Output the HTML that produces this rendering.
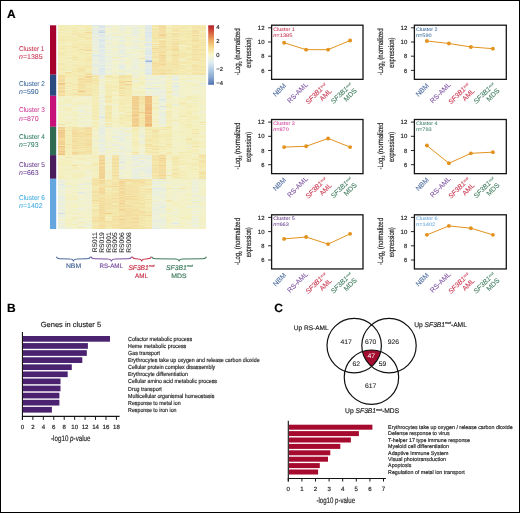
<!DOCTYPE html><html><head><meta charset="utf-8"><style>html,body{margin:0;padding:0;background:#fff;overflow:hidden}svg{display:block;will-change:transform;font-family:"Liberation Sans",sans-serif;text-rendering:geometricPrecision;} text{stroke-width:0.16px}</style></head><body><svg width="520" height="513" viewBox="0 0 520 513" font-family="Liberation Sans, sans-serif" fill="#222" stroke="#222" stroke-width="0"><rect x="0.5" y="0.5" width="519" height="512" fill="#fff" stroke="#000" stroke-width="1"/>
<text x="6.90" y="17.50" font-size="12" fill="#000" stroke="#000" font-weight="bold">A</text>
<text x="6.90" y="311.90" font-size="12" fill="#000" stroke="#000" font-weight="bold">B</text>
<text x="274.20" y="311.90" font-size="12" fill="#000" stroke="#000" font-weight="bold">C</text>
<style>.hm rect{width:6.75px}</style>
<defs><filter id="bl" x="0" y="0" width="1" height="1"><feGaussianBlur stdDeviation="0.35 0.45"/></filter></defs>
<g class="hm" shape-rendering="crispEdges" filter="url(#bl)"><g transform="translate(58.30,0)"><rect y="25.3" height="1.0" fill="#f4ecb6"/><rect y="26.3" height="1.0" fill="#f4eab1"/><rect y="27.3" height="1.0" fill="#f4eeba"/><rect y="28.3" height="1.0" fill="#f4ecb6"/><rect y="29.3" height="1.0" fill="#f4e8ae"/><rect y="30.3" height="1.0" fill="#f4ebb3"/><rect y="31.3" height="1.0" fill="#f4efbe"/><rect y="32.3" height="1.0" fill="#f4e9af"/><rect y="33.3" height="1.0" fill="#f4efbf"/><rect y="34.3" height="1.0" fill="#f4f0bf"/><rect y="35.3" height="1.0" fill="#f4ebb2"/><rect y="36.3" height="1.0" fill="#f4ecb5"/><rect y="37.3" height="2.0" fill="#f4ebb2"/><rect y="39.3" height="1.0" fill="#f4eab1"/><rect y="40.3" height="1.0" fill="#f4e8ad"/><rect y="41.3" height="1.0" fill="#f4edb6"/><rect y="42.3" height="1.0" fill="#f4ecb5"/><rect y="43.3" height="1.0" fill="#f4edb7"/><rect y="44.3" height="1.0" fill="#f4eeba"/><rect y="45.3" height="1.0" fill="#f4eeb9"/><rect y="46.3" height="1.0" fill="#f4ebb3"/><rect y="47.3" height="1.0" fill="#f4ecb4"/><rect y="48.3" height="1.0" fill="#f4e7ad"/><rect y="49.3" height="1.0" fill="#f4ecb5"/><rect y="50.3" height="1.0" fill="#f4eeb9"/><rect y="51.3" height="1.0" fill="#f4efbd"/><rect y="52.3" height="1.0" fill="#f4e9af"/><rect y="53.3" height="1.0" fill="#f4e7ac"/><rect y="54.3" height="1.0" fill="#f4ebb2"/><rect y="55.3" height="1.0" fill="#f4eab1"/><rect y="56.3" height="1.0" fill="#f4edb8"/><rect y="57.3" height="1.0" fill="#f4eeba"/><rect y="58.3" height="1.0" fill="#f4edb8"/><rect y="59.3" height="1.0" fill="#f4efbd"/><rect y="60.3" height="1.0" fill="#f4ebb3"/><rect y="61.3" height="1.0" fill="#f4f0c0"/><rect y="62.3" height="1.0" fill="#f3f1c4"/><rect y="63.3" height="1.0" fill="#f4e5aa"/><rect y="64.3" height="1.0" fill="#f4e8af"/><rect y="65.3" height="1.0" fill="#f4edb9"/><rect y="66.3" height="1.0" fill="#f4ecb4"/><rect y="67.3" height="1.0" fill="#f4f0bf"/><rect y="68.3" height="1.0" fill="#f4e7ac"/><rect y="69.3" height="1.0" fill="#f4edb8"/><rect y="70.3" height="1.0" fill="#f4ebb2"/><rect y="71.3" height="1.0" fill="#f4efbd"/><rect y="72.3" height="1.0" fill="#f4edb7"/><rect y="73.3" height="1.0" fill="#f4edb8"/><rect y="74.3" height="0.4" fill="#f4ebb1"/></g><g transform="translate(65.00,0)"><rect y="25.3" height="3.0" fill="#f4eeba"/><rect y="28.3" height="1.0" fill="#f4ecb6"/><rect y="29.3" height="1.0" fill="#f4eeba"/><rect y="30.3" height="1.0" fill="#f4ecb6"/><rect y="31.3" height="1.0" fill="#f4efbf"/><rect y="32.3" height="1.0" fill="#f4f0c1"/><rect y="33.3" height="1.0" fill="#f4eab0"/><rect y="34.3" height="1.0" fill="#f4eebc"/><rect y="35.3" height="1.0" fill="#f4efbe"/><rect y="36.3" height="1.0" fill="#f4ecb5"/><rect y="37.3" height="1.0" fill="#f4ebb2"/><rect y="38.3" height="1.0" fill="#f4eeba"/><rect y="39.3" height="1.0" fill="#f4ebb3"/><rect y="40.3" height="1.0" fill="#f4ecb4"/><rect y="41.3" height="2.0" fill="#f4eebb"/><rect y="43.3" height="1.0" fill="#f4f0c3"/><rect y="44.3" height="1.0" fill="#f3f1c5"/><rect y="45.3" height="2.0" fill="#f4ecb4"/><rect y="47.3" height="1.0" fill="#f4eeba"/><rect y="48.3" height="1.0" fill="#f4ecb6"/><rect y="49.3" height="1.0" fill="#f4f0c3"/><rect y="50.3" height="1.0" fill="#f4edb8"/><rect y="51.3" height="1.0" fill="#f4ecb4"/><rect y="52.3" height="1.0" fill="#f4eebb"/><rect y="53.3" height="1.0" fill="#f4edb9"/><rect y="54.3" height="1.0" fill="#f4efbe"/><rect y="55.3" height="1.0" fill="#f4ecb5"/><rect y="56.3" height="1.0" fill="#f4f0bf"/><rect y="57.3" height="1.0" fill="#f4edb8"/><rect y="58.3" height="1.0" fill="#f4ebb2"/><rect y="59.3" height="1.0" fill="#f4f0c1"/><rect y="60.3" height="1.0" fill="#f4f0c0"/><rect y="61.3" height="1.0" fill="#f4edb9"/><rect y="62.3" height="1.0" fill="#f4ebb3"/><rect y="63.3" height="1.0" fill="#f4f0c3"/><rect y="64.3" height="1.0" fill="#f4edb9"/><rect y="65.3" height="1.0" fill="#f4efbd"/><rect y="66.3" height="1.0" fill="#f4edb8"/><rect y="67.3" height="1.0" fill="#f4ecb6"/><rect y="68.3" height="1.0" fill="#f4f0c2"/><rect y="69.3" height="1.0" fill="#f4edb7"/><rect y="70.3" height="1.0" fill="#f4edb8"/><rect y="71.3" height="1.0" fill="#f2f2cc"/><rect y="72.3" height="1.0" fill="#f4dd9f"/><rect y="73.3" height="1.0" fill="#f4ebb1"/><rect y="74.3" height="0.4" fill="#f4ecb4"/></g><g transform="translate(71.70,0)"><rect y="25.3" height="1.0" fill="#f4ecb4"/><rect y="26.3" height="1.0" fill="#f4eebb"/><rect y="27.3" height="1.0" fill="#f4eeba"/><rect y="28.3" height="1.0" fill="#f4e6ab"/><rect y="29.3" height="1.0" fill="#f4f0c0"/><rect y="30.3" height="1.0" fill="#f4e7ac"/><rect y="31.3" height="2.0" fill="#f4ebb2"/><rect y="33.3" height="1.0" fill="#f4e8ae"/><rect y="34.3" height="1.0" fill="#f4e6ac"/><rect y="35.3" height="1.0" fill="#f4edb9"/><rect y="36.3" height="1.0" fill="#f4f0c3"/><rect y="37.3" height="1.0" fill="#f4e9af"/><rect y="38.3" height="1.0" fill="#f4edb7"/><rect y="39.3" height="1.0" fill="#f4ebb3"/><rect y="40.3" height="1.0" fill="#f4eab0"/><rect y="41.3" height="1.0" fill="#f4edb8"/><rect y="42.3" height="1.0" fill="#f4edb7"/><rect y="43.3" height="1.0" fill="#f4e9b0"/><rect y="44.3" height="1.0" fill="#f4edb7"/><rect y="45.3" height="1.0" fill="#f4e9af"/><rect y="46.3" height="1.0" fill="#f4edb8"/><rect y="47.3" height="1.0" fill="#f4e1a4"/><rect y="48.3" height="1.0" fill="#f4ecb6"/><rect y="49.3" height="1.0" fill="#f4ecb4"/><rect y="50.3" height="1.0" fill="#f4edb8"/><rect y="51.3" height="2.0" fill="#f4ebb3"/><rect y="53.3" height="1.0" fill="#f4f0bf"/><rect y="54.3" height="1.0" fill="#f4ebb3"/><rect y="55.3" height="1.0" fill="#f4ecb4"/><rect y="56.3" height="1.0" fill="#f4ebb3"/><rect y="57.3" height="1.0" fill="#f4e4a8"/><rect y="58.3" height="1.0" fill="#f4ebb2"/><rect y="59.3" height="1.0" fill="#f4e7ac"/><rect y="60.3" height="1.0" fill="#f4ecb6"/><rect y="61.3" height="1.0" fill="#f4f0bf"/><rect y="62.3" height="1.0" fill="#f4ecb5"/><rect y="63.3" height="1.0" fill="#f4f0c1"/><rect y="64.3" height="1.0" fill="#f4ecb6"/><rect y="65.3" height="1.0" fill="#f4eab1"/><rect y="66.3" height="1.0" fill="#f4edb7"/><rect y="67.3" height="1.0" fill="#f4edb8"/><rect y="68.3" height="1.0" fill="#f4eab1"/><rect y="69.3" height="1.0" fill="#f4ebb3"/><rect y="70.3" height="1.0" fill="#f4e9af"/><rect y="71.3" height="1.0" fill="#f4e7ac"/><rect y="72.3" height="1.0" fill="#f4edb8"/><rect y="73.3" height="1.0" fill="#f4eab0"/><rect y="74.3" height="0.4" fill="#f4e9af"/></g><g transform="translate(78.40,0)"><rect y="25.3" height="1.0" fill="#f4ebb2"/><rect y="26.3" height="1.0" fill="#f4edb7"/><rect y="27.3" height="1.0" fill="#f4eeba"/><rect y="28.3" height="1.0" fill="#f3f1c8"/><rect y="29.3" height="1.0" fill="#f4ecb6"/><rect y="30.3" height="1.0" fill="#f4ebb2"/><rect y="31.3" height="1.0" fill="#f4efbd"/><rect y="32.3" height="1.0" fill="#f4ebb2"/><rect y="33.3" height="1.0" fill="#f4edb9"/><rect y="34.3" height="1.0" fill="#f4e2a6"/><rect y="35.3" height="1.0" fill="#f4ebb3"/><rect y="36.3" height="1.0" fill="#f4e4a8"/><rect y="37.3" height="1.0" fill="#f4eab1"/><rect y="38.3" height="1.0" fill="#f4edb6"/><rect y="39.3" height="1.0" fill="#f4e9af"/><rect y="40.3" height="1.0" fill="#f4eebc"/><rect y="41.3" height="1.0" fill="#f4eebb"/><rect y="42.3" height="1.0" fill="#f4ecb6"/><rect y="43.3" height="1.0" fill="#f4edb6"/><rect y="44.3" height="1.0" fill="#f4e5aa"/><rect y="45.3" height="1.0" fill="#f4ecb4"/><rect y="46.3" height="1.0" fill="#f4ebb3"/><rect y="47.3" height="1.0" fill="#f4edb8"/><rect y="48.3" height="1.0" fill="#f4edb7"/><rect y="49.3" height="1.0" fill="#f4dfa1"/><rect y="50.3" height="1.0" fill="#f4ebb3"/><rect y="51.3" height="2.0" fill="#f4ecb6"/><rect y="53.3" height="1.0" fill="#f4e9b0"/><rect y="54.3" height="1.0" fill="#f4ecb5"/><rect y="55.3" height="1.0" fill="#f4eeb9"/><rect y="56.3" height="1.0" fill="#f4eeba"/><rect y="57.3" height="1.0" fill="#f4edb7"/><rect y="58.3" height="1.0" fill="#f4edb9"/><rect y="59.3" height="1.0" fill="#f4ebb3"/><rect y="60.3" height="1.0" fill="#f4ecb4"/><rect y="61.3" height="1.0" fill="#f4edb9"/><rect y="62.3" height="1.0" fill="#f4ecb5"/><rect y="63.3" height="1.0" fill="#f4eeba"/><rect y="64.3" height="1.0" fill="#f4eebc"/><rect y="65.3" height="1.0" fill="#f4e9af"/><rect y="66.3" height="1.0" fill="#f4ecb5"/><rect y="67.3" height="1.0" fill="#f4eab0"/><rect y="68.3" height="1.0" fill="#f4e4a9"/><rect y="69.3" height="1.0" fill="#f4e1a4"/><rect y="70.3" height="1.0" fill="#f4e0a3"/><rect y="71.3" height="1.0" fill="#f4e7ac"/><rect y="72.3" height="1.0" fill="#f4eab1"/><rect y="73.3" height="1.0" fill="#f4e7ac"/><rect y="74.3" height="0.4" fill="#f3f1c5"/></g><g transform="translate(85.10,0)"><rect y="25.3" height="1.0" fill="#f4edb6"/><rect y="26.3" height="1.0" fill="#f4eab0"/><rect y="27.3" height="1.0" fill="#f4edb6"/><rect y="28.3" height="1.0" fill="#f4ebb3"/><rect y="29.3" height="2.0" fill="#f4ebb2"/><rect y="31.3" height="1.0" fill="#f4ecb6"/><rect y="32.3" height="1.0" fill="#f3d899"/><rect y="33.3" height="1.0" fill="#f4e8ad"/><rect y="34.3" height="1.0" fill="#f4e7ac"/><rect y="35.3" height="2.0" fill="#f4ecb4"/><rect y="37.3" height="1.0" fill="#f4e6ab"/><rect y="38.3" height="1.0" fill="#f4e4a8"/><rect y="39.3" height="1.0" fill="#f4eab1"/><rect y="40.3" height="1.0" fill="#f4eebc"/><rect y="41.3" height="2.0" fill="#f4ecb4"/><rect y="43.3" height="1.0" fill="#f4edb8"/><rect y="44.3" height="1.0" fill="#f4ebb3"/><rect y="45.3" height="1.0" fill="#f4e5aa"/><rect y="46.3" height="1.0" fill="#f4edb7"/><rect y="47.3" height="1.0" fill="#f4e5a9"/><rect y="48.3" height="1.0" fill="#f4eab1"/><rect y="49.3" height="1.0" fill="#f4e5aa"/><rect y="50.3" height="1.0" fill="#f3d899"/><rect y="51.3" height="1.0" fill="#f4edb7"/><rect y="52.3" height="1.0" fill="#f4f0c1"/><rect y="53.3" height="1.0" fill="#f4e3a8"/><rect y="54.3" height="1.0" fill="#f4ebb2"/><rect y="55.3" height="1.0" fill="#f4eebb"/><rect y="56.3" height="1.0" fill="#f4ecb4"/><rect y="57.3" height="1.0" fill="#f4ebb2"/><rect y="58.3" height="1.0" fill="#f4e9b0"/><rect y="59.3" height="1.0" fill="#f4e9af"/><rect y="60.3" height="1.0" fill="#f4e4a9"/><rect y="61.3" height="1.0" fill="#f4edb7"/><rect y="62.3" height="1.0" fill="#f4e8ae"/><rect y="63.3" height="2.0" fill="#f4edb8"/><rect y="65.3" height="1.0" fill="#f4ebb2"/><rect y="66.3" height="1.0" fill="#f4e4a8"/><rect y="67.3" height="1.0" fill="#f4eab0"/><rect y="68.3" height="1.0" fill="#f4ebb2"/><rect y="69.3" height="1.0" fill="#f4ecb5"/><rect y="70.3" height="1.0" fill="#f4eebb"/><rect y="71.3" height="1.0" fill="#f4edb9"/><rect y="72.3" height="1.0" fill="#f4eab1"/><rect y="73.3" height="1.0" fill="#f4e7ad"/><rect y="74.3" height="0.4" fill="#f3d495"/></g><g transform="translate(91.80,0)"><rect y="25.3" height="1.0" fill="#dce7ea"/><rect y="26.3" height="1.0" fill="#e8eee0"/><rect y="27.3" height="1.0" fill="#f1f2d2"/><rect y="28.3" height="1.0" fill="#e4ece5"/><rect y="29.3" height="1.0" fill="#e9eee0"/><rect y="30.3" height="1.0" fill="#e6ede3"/><rect y="31.3" height="2.0" fill="#e7ede2"/><rect y="33.3" height="1.0" fill="#e1ebe9"/><rect y="34.3" height="1.0" fill="#e9efdf"/><rect y="35.3" height="1.0" fill="#eff1d7"/><rect y="36.3" height="1.0" fill="#e7eee2"/><rect y="37.3" height="1.0" fill="#e6ede3"/><rect y="38.3" height="1.0" fill="#ebefdd"/><rect y="39.3" height="1.0" fill="#e7eee1"/><rect y="40.3" height="1.0" fill="#ecf0dc"/><rect y="41.3" height="1.0" fill="#e9efdf"/><rect y="42.3" height="1.0" fill="#eaefdf"/><rect y="43.3" height="1.0" fill="#edf0db"/><rect y="44.3" height="1.0" fill="#ebefde"/><rect y="45.3" height="1.0" fill="#eff1d6"/><rect y="46.3" height="1.0" fill="#e6ede3"/><rect y="47.3" height="1.0" fill="#eef1d7"/><rect y="48.3" height="1.0" fill="#ebefdd"/><rect y="49.3" height="1.0" fill="#edf0da"/><rect y="50.3" height="1.0" fill="#e8eee0"/><rect y="51.3" height="1.0" fill="#f4f0c0"/><rect y="52.3" height="1.0" fill="#e5ece4"/><rect y="53.3" height="1.0" fill="#eff1d5"/><rect y="54.3" height="1.0" fill="#e7eee2"/><rect y="55.3" height="1.0" fill="#dde8ea"/><rect y="56.3" height="1.0" fill="#e6ede2"/><rect y="57.3" height="1.0" fill="#e8eee0"/><rect y="58.3" height="1.0" fill="#ecf0dc"/><rect y="59.3" height="1.0" fill="#e7ede2"/><rect y="60.3" height="1.0" fill="#ebefde"/><rect y="61.3" height="2.0" fill="#edf0da"/><rect y="63.3" height="1.0" fill="#ebefdd"/><rect y="64.3" height="1.0" fill="#e4ece5"/><rect y="65.3" height="1.0" fill="#e9efdf"/><rect y="66.3" height="1.0" fill="#e5ece4"/><rect y="67.3" height="1.0" fill="#ebf0dd"/><rect y="68.3" height="1.0" fill="#edf0d9"/><rect y="69.3" height="1.0" fill="#f3f1ca"/><rect y="70.3" height="1.0" fill="#e7ede2"/><rect y="71.3" height="1.0" fill="#eaefdf"/><rect y="72.3" height="1.0" fill="#ecf0dc"/><rect y="73.3" height="1.0" fill="#e6ede3"/><rect y="74.3" height="0.4" fill="#e7eee1"/></g><g transform="translate(98.50,0)"><rect y="25.3" height="1.0" fill="#e2ebe8"/><rect y="26.3" height="1.0" fill="#d7e4eb"/><rect y="27.3" height="1.0" fill="#dbe7ea"/><rect y="28.3" height="1.0" fill="#e4ece6"/><rect y="29.3" height="1.0" fill="#e4ece5"/><rect y="30.3" height="1.0" fill="#d4e3eb"/><rect y="31.3" height="1.0" fill="#e1eae9"/><rect y="32.3" height="1.0" fill="#d7e5eb"/><rect y="33.3" height="1.0" fill="#e8eee1"/><rect y="34.3" height="1.0" fill="#e4ece5"/><rect y="35.3" height="1.0" fill="#dbe7ea"/><rect y="36.3" height="1.0" fill="#e1eae9"/><rect y="37.3" height="1.0" fill="#e6ede3"/><rect y="38.3" height="1.0" fill="#e9eee0"/><rect y="39.3" height="1.0" fill="#dde8ea"/><rect y="40.3" height="1.0" fill="#d7e4eb"/><rect y="41.3" height="2.0" fill="#e0eaea"/><rect y="43.3" height="1.0" fill="#e6ede3"/><rect y="44.3" height="1.0" fill="#e1ebe8"/><rect y="45.3" height="1.0" fill="#dbe7ea"/><rect y="46.3" height="1.0" fill="#dfe9ea"/><rect y="47.3" height="1.0" fill="#dce8ea"/><rect y="48.3" height="1.0" fill="#e9eee0"/><rect y="49.3" height="2.0" fill="#e0eaea"/><rect y="51.3" height="1.0" fill="#dfeaea"/><rect y="52.3" height="1.0" fill="#e3ece6"/><rect y="53.3" height="1.0" fill="#eaefde"/><rect y="54.3" height="1.0" fill="#dfe9ea"/><rect y="55.3" height="1.0" fill="#e5ece5"/><rect y="56.3" height="1.0" fill="#e1eae9"/><rect y="57.3" height="1.0" fill="#e0eaea"/><rect y="58.3" height="1.0" fill="#e6ede3"/><rect y="59.3" height="1.0" fill="#e3ece6"/><rect y="60.3" height="1.0" fill="#e1eae9"/><rect y="61.3" height="1.0" fill="#e2ebe7"/><rect y="62.3" height="1.0" fill="#e7ede2"/><rect y="63.3" height="1.0" fill="#e3ebe7"/><rect y="64.3" height="1.0" fill="#eaefde"/><rect y="65.3" height="1.0" fill="#e0eaea"/><rect y="66.3" height="1.0" fill="#e3ebe7"/><rect y="67.3" height="1.0" fill="#e4ece5"/><rect y="68.3" height="1.0" fill="#dee9ea"/><rect y="69.3" height="1.0" fill="#dae6eb"/><rect y="70.3" height="1.0" fill="#e3ebe7"/><rect y="71.3" height="1.0" fill="#dde8ea"/><rect y="72.3" height="1.0" fill="#e2ebe8"/><rect y="73.3" height="1.0" fill="#e1ebe8"/><rect y="74.3" height="0.4" fill="#e0eae9"/></g><g transform="translate(105.20,0)"><rect y="25.3" height="1.0" fill="#f2f2d0"/><rect y="26.3" height="1.0" fill="#e9efdf"/><rect y="27.3" height="1.0" fill="#ecf0db"/><rect y="28.3" height="1.0" fill="#f0f1d5"/><rect y="29.3" height="1.0" fill="#f2f2ce"/><rect y="30.3" height="1.0" fill="#eff1d7"/><rect y="31.3" height="1.0" fill="#f3f1cb"/><rect y="32.3" height="1.0" fill="#f0f1d5"/><rect y="33.3" height="1.0" fill="#f1f2d1"/><rect y="34.3" height="1.0" fill="#eaefde"/><rect y="35.3" height="1.0" fill="#eef1d8"/><rect y="36.3" height="1.0" fill="#eaefde"/><rect y="37.3" height="1.0" fill="#edf0da"/><rect y="38.3" height="1.0" fill="#ebf0dd"/><rect y="39.3" height="1.0" fill="#ebefde"/><rect y="40.3" height="1.0" fill="#f2f2ce"/><rect y="41.3" height="1.0" fill="#eef1d9"/><rect y="42.3" height="1.0" fill="#f2f2ce"/><rect y="43.3" height="1.0" fill="#e7ede2"/><rect y="44.3" height="1.0" fill="#eff1d6"/><rect y="45.3" height="1.0" fill="#f2f2cf"/><rect y="46.3" height="1.0" fill="#f0f1d5"/><rect y="47.3" height="1.0" fill="#eff1d7"/><rect y="48.3" height="1.0" fill="#edf0da"/><rect y="49.3" height="1.0" fill="#f0f1d3"/><rect y="50.3" height="1.0" fill="#ecf0dc"/><rect y="51.3" height="1.0" fill="#f1f2d3"/><rect y="52.3" height="1.0" fill="#e5ece5"/><rect y="53.3" height="1.0" fill="#f2f2cf"/><rect y="54.3" height="1.0" fill="#f1f2d1"/><rect y="55.3" height="1.0" fill="#f0f1d5"/><rect y="56.3" height="1.0" fill="#e5ede4"/><rect y="57.3" height="1.0" fill="#edf0da"/><rect y="58.3" height="1.0" fill="#eef1d9"/><rect y="59.3" height="1.0" fill="#edf0db"/><rect y="60.3" height="1.0" fill="#ebf0dd"/><rect y="61.3" height="1.0" fill="#e7ede2"/><rect y="62.3" height="1.0" fill="#eff1d6"/><rect y="63.3" height="1.0" fill="#ecf0dc"/><rect y="64.3" height="1.0" fill="#eff1d6"/><rect y="65.3" height="1.0" fill="#e9eee0"/><rect y="66.3" height="1.0" fill="#eef1d8"/><rect y="67.3" height="1.0" fill="#eff1d7"/><rect y="68.3" height="1.0" fill="#eef1d7"/><rect y="69.3" height="1.0" fill="#e3ece6"/><rect y="70.3" height="1.0" fill="#f2f2ce"/><rect y="71.3" height="1.0" fill="#f0f1d3"/><rect y="72.3" height="1.0" fill="#f1f2d3"/><rect y="73.3" height="1.0" fill="#e7ede2"/><rect y="74.3" height="0.4" fill="#ecf0dc"/></g><g transform="translate(111.90,0)"><rect y="25.3" height="1.0" fill="#f1f2d2"/><rect y="26.3" height="1.0" fill="#f3f1cb"/><rect y="27.3" height="1.0" fill="#f2f2d1"/><rect y="28.3" height="1.0" fill="#f3f1c9"/><rect y="29.3" height="1.0" fill="#f0f1d3"/><rect y="30.3" height="1.0" fill="#f4f0c1"/><rect y="31.3" height="1.0" fill="#f2f2d0"/><rect y="32.3" height="1.0" fill="#f3f1cb"/><rect y="33.3" height="1.0" fill="#e9efdf"/><rect y="34.3" height="1.0" fill="#f3f1cb"/><rect y="35.3" height="1.0" fill="#f4edb7"/><rect y="36.3" height="1.0" fill="#ebefdd"/><rect y="37.3" height="1.0" fill="#ecf0dc"/><rect y="38.3" height="1.0" fill="#eef1d9"/><rect y="39.3" height="1.0" fill="#f0f1d5"/><rect y="40.3" height="2.0" fill="#f2f2d0"/><rect y="42.3" height="1.0" fill="#f2f2d1"/><rect y="43.3" height="1.0" fill="#f1f2d1"/><rect y="44.3" height="1.0" fill="#f4f0c0"/><rect y="45.3" height="1.0" fill="#f1f2d2"/><rect y="46.3" height="1.0" fill="#e9efdf"/><rect y="47.3" height="1.0" fill="#eff1d6"/><rect y="48.3" height="1.0" fill="#f2f2cc"/><rect y="49.3" height="1.0" fill="#f3f1c8"/><rect y="50.3" height="1.0" fill="#f2f2ce"/><rect y="51.3" height="1.0" fill="#f2f2cd"/><rect y="52.3" height="1.0" fill="#ecf0db"/><rect y="53.3" height="1.0" fill="#f0f1d4"/><rect y="54.3" height="1.0" fill="#eff1d6"/><rect y="55.3" height="1.0" fill="#f0f1d4"/><rect y="56.3" height="1.0" fill="#eef1d7"/><rect y="57.3" height="1.0" fill="#f4ebb3"/><rect y="58.3" height="1.0" fill="#eff1d5"/><rect y="59.3" height="1.0" fill="#eaefde"/><rect y="60.3" height="1.0" fill="#f3f1c7"/><rect y="61.3" height="2.0" fill="#f2f2ce"/><rect y="63.3" height="1.0" fill="#f2f2cf"/><rect y="64.3" height="1.0" fill="#f0f1d4"/><rect y="65.3" height="1.0" fill="#f2f2ce"/><rect y="66.3" height="1.0" fill="#eef1d7"/><rect y="67.3" height="1.0" fill="#f2f2d0"/><rect y="68.3" height="1.0" fill="#f0f1d5"/><rect y="69.3" height="1.0" fill="#f2f2cf"/><rect y="70.3" height="1.0" fill="#f2f2ce"/><rect y="71.3" height="1.0" fill="#f2f2cd"/><rect y="72.3" height="1.0" fill="#ebf0dd"/><rect y="73.3" height="1.0" fill="#f4f0c1"/><rect y="74.3" height="0.4" fill="#f3f1cc"/></g><g transform="translate(118.60,0)"><rect y="25.3" height="2.0" fill="#ebefdd"/><rect y="27.3" height="1.0" fill="#f0f1d3"/><rect y="28.3" height="1.0" fill="#e8eee0"/><rect y="29.3" height="2.0" fill="#eaefde"/><rect y="31.3" height="1.0" fill="#f3f1cb"/><rect y="32.3" height="1.0" fill="#eef1d7"/><rect y="33.3" height="1.0" fill="#f2f2d0"/><rect y="34.3" height="1.0" fill="#f3f1cc"/><rect y="35.3" height="1.0" fill="#f2f2d1"/><rect y="36.3" height="1.0" fill="#e7eee2"/><rect y="37.3" height="1.0" fill="#eaefde"/><rect y="38.3" height="1.0" fill="#eff1d5"/><rect y="39.3" height="1.0" fill="#edf0da"/><rect y="40.3" height="1.0" fill="#e6ede2"/><rect y="41.3" height="1.0" fill="#e9efdf"/><rect y="42.3" height="1.0" fill="#eef1d7"/><rect y="43.3" height="1.0" fill="#f3f1c6"/><rect y="44.3" height="1.0" fill="#ecf0db"/><rect y="45.3" height="1.0" fill="#e7ede2"/><rect y="46.3" height="1.0" fill="#e7eee2"/><rect y="47.3" height="1.0" fill="#ebefdd"/><rect y="48.3" height="1.0" fill="#edf0da"/><rect y="49.3" height="1.0" fill="#edf0d9"/><rect y="50.3" height="1.0" fill="#dfe9ea"/><rect y="51.3" height="1.0" fill="#ebf0dd"/><rect y="52.3" height="1.0" fill="#e5ede4"/><rect y="53.3" height="1.0" fill="#e8eee0"/><rect y="54.3" height="1.0" fill="#ecf0dc"/><rect y="55.3" height="1.0" fill="#f2f2cc"/><rect y="56.3" height="1.0" fill="#e2ebe8"/><rect y="57.3" height="1.0" fill="#f0f1d4"/><rect y="58.3" height="1.0" fill="#f3f1c8"/><rect y="59.3" height="1.0" fill="#eef1d8"/><rect y="60.3" height="1.0" fill="#ebefdd"/><rect y="61.3" height="1.0" fill="#eff1d5"/><rect y="62.3" height="1.0" fill="#edf0d9"/><rect y="63.3" height="1.0" fill="#eef1d7"/><rect y="64.3" height="1.0" fill="#eaefde"/><rect y="65.3" height="1.0" fill="#e3ece6"/><rect y="66.3" height="1.0" fill="#ecf0dc"/><rect y="67.3" height="1.0" fill="#dce8ea"/><rect y="68.3" height="1.0" fill="#ecf0dc"/><rect y="69.3" height="1.0" fill="#ebf0dd"/><rect y="70.3" height="1.0" fill="#eff1d5"/><rect y="71.3" height="1.0" fill="#f4efbd"/><rect y="72.3" height="1.0" fill="#f2f2cf"/><rect y="73.3" height="1.0" fill="#e6ede3"/><rect y="74.3" height="0.4" fill="#ebf0dd"/></g><g transform="translate(125.30,0)"><rect y="25.3" height="1.0" fill="#ebefde"/><rect y="26.3" height="1.0" fill="#f0f1d3"/><rect y="27.3" height="1.0" fill="#eff1d5"/><rect y="28.3" height="1.0" fill="#f3f1cb"/><rect y="29.3" height="1.0" fill="#f3f1cc"/><rect y="30.3" height="1.0" fill="#f2f2ce"/><rect y="31.3" height="1.0" fill="#f1f2d3"/><rect y="32.3" height="1.0" fill="#f3f1c8"/><rect y="33.3" height="1.0" fill="#f3f1c5"/><rect y="34.3" height="1.0" fill="#ebf0dd"/><rect y="35.3" height="1.0" fill="#f2f2d0"/><rect y="36.3" height="1.0" fill="#eff1d6"/><rect y="37.3" height="1.0" fill="#f3f1c4"/><rect y="38.3" height="1.0" fill="#f2f2cd"/><rect y="39.3" height="2.0" fill="#f2f2d0"/><rect y="41.3" height="1.0" fill="#f0f1d3"/><rect y="42.3" height="1.0" fill="#f2f2cc"/><rect y="43.3" height="1.0" fill="#f2f2cd"/><rect y="44.3" height="1.0" fill="#f3f1c7"/><rect y="45.3" height="1.0" fill="#f3f1cb"/><rect y="46.3" height="1.0" fill="#f1f2d2"/><rect y="47.3" height="1.0" fill="#edf0da"/><rect y="48.3" height="1.0" fill="#ecf0dc"/><rect y="49.3" height="1.0" fill="#f2f2d0"/><rect y="50.3" height="1.0" fill="#f2f2cf"/><rect y="51.3" height="1.0" fill="#eff1d7"/><rect y="52.3" height="1.0" fill="#f3f1c8"/><rect y="53.3" height="1.0" fill="#f2f2d1"/><rect y="54.3" height="1.0" fill="#e3ece6"/><rect y="55.3" height="1.0" fill="#f2f2d0"/><rect y="56.3" height="1.0" fill="#eaefde"/><rect y="57.3" height="1.0" fill="#f2f2cd"/><rect y="58.3" height="1.0" fill="#f3f1c7"/><rect y="59.3" height="1.0" fill="#f2f2ce"/><rect y="60.3" height="1.0" fill="#f0f1d4"/><rect y="61.3" height="1.0" fill="#f4f0c2"/><rect y="62.3" height="1.0" fill="#f3f1cc"/><rect y="63.3" height="1.0" fill="#f4f0c3"/><rect y="64.3" height="1.0" fill="#f2f2cf"/><rect y="65.3" height="1.0" fill="#f2f2d0"/><rect y="66.3" height="1.0" fill="#eef1d9"/><rect y="67.3" height="1.0" fill="#f2f2d0"/><rect y="68.3" height="1.0" fill="#f2f2ce"/><rect y="69.3" height="1.0" fill="#eff1d5"/><rect y="70.3" height="1.0" fill="#ebefdd"/><rect y="71.3" height="1.0" fill="#eef1d8"/><rect y="72.3" height="1.0" fill="#f1f2d3"/><rect y="73.3" height="1.0" fill="#f1f2d1"/><rect y="74.3" height="0.4" fill="#f3f1c6"/></g><g transform="translate(132.00,0)"><rect y="25.3" height="1.0" fill="#eef1d8"/><rect y="26.3" height="2.0" fill="#edf0da"/><rect y="28.3" height="1.0" fill="#e4ece5"/><rect y="29.3" height="1.0" fill="#f0f1d4"/><rect y="30.3" height="1.0" fill="#ebf0dd"/><rect y="31.3" height="2.0" fill="#e9efdf"/><rect y="33.3" height="1.0" fill="#e6ede3"/><rect y="34.3" height="1.0" fill="#eff1d6"/><rect y="35.3" height="1.0" fill="#e8eee1"/><rect y="36.3" height="1.0" fill="#f0f1d4"/><rect y="37.3" height="1.0" fill="#eff1d6"/><rect y="38.3" height="1.0" fill="#f2f2cf"/><rect y="39.3" height="2.0" fill="#eef1d8"/><rect y="41.3" height="1.0" fill="#e3ece6"/><rect y="42.3" height="1.0" fill="#eff1d5"/><rect y="43.3" height="1.0" fill="#f3f1c4"/><rect y="44.3" height="1.0" fill="#eef1d8"/><rect y="45.3" height="1.0" fill="#e8eee1"/><rect y="46.3" height="1.0" fill="#ecf0db"/><rect y="47.3" height="1.0" fill="#edf0db"/><rect y="48.3" height="1.0" fill="#eaefdf"/><rect y="49.3" height="1.0" fill="#f3f1c7"/><rect y="50.3" height="1.0" fill="#f0f1d5"/><rect y="51.3" height="1.0" fill="#f2f2ce"/><rect y="52.3" height="1.0" fill="#f1f2d2"/><rect y="53.3" height="1.0" fill="#f2f2d0"/><rect y="54.3" height="1.0" fill="#f2f2cf"/><rect y="55.3" height="1.0" fill="#ecf0dc"/><rect y="56.3" height="1.0" fill="#f0f1d4"/><rect y="57.3" height="1.0" fill="#f2f2cd"/><rect y="58.3" height="1.0" fill="#eff1d5"/><rect y="59.3" height="1.0" fill="#eaefde"/><rect y="60.3" height="1.0" fill="#ebefdd"/><rect y="61.3" height="1.0" fill="#eef1d9"/><rect y="62.3" height="1.0" fill="#edf0db"/><rect y="63.3" height="1.0" fill="#ecf0db"/><rect y="64.3" height="1.0" fill="#eef1d9"/><rect y="65.3" height="1.0" fill="#f0f1d4"/><rect y="66.3" height="1.0" fill="#e9eee0"/><rect y="67.3" height="1.0" fill="#eaefde"/><rect y="68.3" height="1.0" fill="#edf0da"/><rect y="69.3" height="1.0" fill="#ecf0db"/><rect y="70.3" height="1.0" fill="#eff1d6"/><rect y="71.3" height="1.0" fill="#f2f2cf"/><rect y="72.3" height="1.0" fill="#ecf0db"/><rect y="73.3" height="1.0" fill="#ebf0dd"/><rect y="74.3" height="0.4" fill="#ecf0db"/></g><g transform="translate(138.70,0)"><rect y="25.3" height="1.0" fill="#f2f2cd"/><rect y="26.3" height="1.0" fill="#f3f1c9"/><rect y="27.3" height="1.0" fill="#e8eee1"/><rect y="28.3" height="1.0" fill="#f2f2cc"/><rect y="29.3" height="1.0" fill="#f2f2cf"/><rect y="30.3" height="1.0" fill="#f3f1cb"/><rect y="31.3" height="1.0" fill="#f2f2ce"/><rect y="32.3" height="1.0" fill="#eff1d5"/><rect y="33.3" height="1.0" fill="#f2f2d0"/><rect y="34.3" height="1.0" fill="#f3f1c6"/><rect y="35.3" height="1.0" fill="#f4f0c4"/><rect y="36.3" height="1.0" fill="#f2f2ce"/><rect y="37.3" height="1.0" fill="#eff1d7"/><rect y="38.3" height="1.0" fill="#f4efbd"/><rect y="39.3" height="1.0" fill="#f3f1c8"/><rect y="40.3" height="1.0" fill="#f0f1d3"/><rect y="41.3" height="1.0" fill="#eef1d9"/><rect y="42.3" height="1.0" fill="#f3f1cb"/><rect y="43.3" height="1.0" fill="#f1f2d3"/><rect y="44.3" height="1.0" fill="#f3f1c5"/><rect y="45.3" height="1.0" fill="#f2f2cf"/><rect y="46.3" height="1.0" fill="#f4f0c2"/><rect y="47.3" height="1.0" fill="#f2f2d1"/><rect y="48.3" height="1.0" fill="#e9efdf"/><rect y="49.3" height="1.0" fill="#f2f2d0"/><rect y="50.3" height="1.0" fill="#f3f1c9"/><rect y="51.3" height="1.0" fill="#f4edb9"/><rect y="52.3" height="1.0" fill="#f0f1d4"/><rect y="53.3" height="1.0" fill="#f3f1cc"/><rect y="54.3" height="1.0" fill="#f3f1ca"/><rect y="55.3" height="1.0" fill="#f2f2cf"/><rect y="56.3" height="1.0" fill="#f3f1c8"/><rect y="57.3" height="1.0" fill="#f2f2d0"/><rect y="58.3" height="1.0" fill="#f4e4a9"/><rect y="59.3" height="1.0" fill="#eef1d8"/><rect y="60.3" height="1.0" fill="#f2f2cd"/><rect y="61.3" height="1.0" fill="#f0f1d3"/><rect y="62.3" height="1.0" fill="#f1f2d2"/><rect y="63.3" height="1.0" fill="#eff1d6"/><rect y="64.3" height="1.0" fill="#f3f1c9"/><rect y="65.3" height="1.0" fill="#f3f1cc"/><rect y="66.3" height="1.0" fill="#f4f0c2"/><rect y="67.3" height="1.0" fill="#f1f2d2"/><rect y="68.3" height="1.0" fill="#ecf0dc"/><rect y="69.3" height="1.0" fill="#f0f1d3"/><rect y="70.3" height="1.0" fill="#f3f1cc"/><rect y="71.3" height="1.0" fill="#eef1d9"/><rect y="72.3" height="1.0" fill="#f3f1c7"/><rect y="73.3" height="1.0" fill="#f2f2cd"/><rect y="74.3" height="0.4" fill="#f3f1c6"/></g><g transform="translate(145.40,0)"><rect y="25.3" height="1.0" fill="#dee9ea"/><rect y="26.3" height="1.0" fill="#e6ede3"/><rect y="27.3" height="1.0" fill="#dfe9ea"/><rect y="28.3" height="1.0" fill="#dde8ea"/><rect y="29.3" height="1.0" fill="#e4ece5"/><rect y="30.3" height="1.0" fill="#e3ebe7"/><rect y="31.3" height="1.0" fill="#e5ece4"/><rect y="32.3" height="1.0" fill="#d9e5eb"/><rect y="33.3" height="1.0" fill="#dee9ea"/><rect y="34.3" height="1.0" fill="#e1eae9"/><rect y="35.3" height="1.0" fill="#dee9ea"/><rect y="36.3" height="1.0" fill="#dde8ea"/><rect y="37.3" height="1.0" fill="#e6ede4"/><rect y="38.3" height="1.0" fill="#e2ebe8"/><rect y="39.3" height="1.0" fill="#e3ece6"/><rect y="40.3" height="1.0" fill="#e1ebe9"/><rect y="41.3" height="1.0" fill="#e6ede3"/><rect y="42.3" height="1.0" fill="#f3f1ca"/><rect y="43.3" height="2.0" fill="#dfe9ea"/><rect y="45.3" height="1.0" fill="#e2ebe8"/><rect y="46.3" height="1.0" fill="#e7ede2"/><rect y="47.3" height="1.0" fill="#edf0da"/><rect y="48.3" height="1.0" fill="#e3ebe7"/><rect y="49.3" height="1.0" fill="#e4ece5"/><rect y="50.3" height="1.0" fill="#e2ebe7"/><rect y="51.3" height="1.0" fill="#dfe9ea"/><rect y="52.3" height="1.0" fill="#dee9ea"/><rect y="53.3" height="1.0" fill="#dfe9ea"/><rect y="54.3" height="1.0" fill="#dce7ea"/><rect y="55.3" height="1.0" fill="#eaefdf"/><rect y="56.3" height="1.0" fill="#e3ebe7"/><rect y="57.3" height="1.0" fill="#dbe7ea"/><rect y="58.3" height="1.0" fill="#e4ece5"/><rect y="59.3" height="1.0" fill="#dee9ea"/><rect y="60.3" height="1.0" fill="#d7e4eb"/><rect y="61.3" height="1.0" fill="#e5ede4"/><rect y="62.3" height="1.0" fill="#dce7ea"/><rect y="63.3" height="1.0" fill="#e1ebe9"/><rect y="64.3" height="1.0" fill="#e7eee2"/><rect y="65.3" height="1.0" fill="#e5ece4"/><rect y="66.3" height="1.0" fill="#e2ebe8"/><rect y="67.3" height="1.0" fill="#e7eee1"/><rect y="68.3" height="1.0" fill="#e6ede4"/><rect y="69.3" height="1.0" fill="#dfeaea"/><rect y="70.3" height="1.0" fill="#e2ebe7"/><rect y="71.3" height="1.0" fill="#e3ece6"/><rect y="72.3" height="1.0" fill="#e4ece5"/><rect y="73.3" height="1.0" fill="#dbe7ea"/><rect y="74.3" height="0.4" fill="#dfeaea"/></g><g transform="translate(152.10,0)"><rect y="25.3" height="1.0" fill="#f4e4a8"/><rect y="26.3" height="1.0" fill="#f4e7ad"/><rect y="27.3" height="1.0" fill="#f4e9b0"/><rect y="28.3" height="1.0" fill="#f4e9af"/><rect y="29.3" height="1.0" fill="#f4e0a3"/><rect y="30.3" height="1.0" fill="#f4e8ad"/><rect y="31.3" height="1.0" fill="#f4e7ad"/><rect y="32.3" height="1.0" fill="#f4e4a9"/><rect y="33.3" height="1.0" fill="#f4e6aa"/><rect y="34.3" height="1.0" fill="#f4e6ac"/><rect y="35.3" height="1.0" fill="#f4e2a6"/><rect y="36.3" height="1.0" fill="#f4e9af"/><rect y="37.3" height="1.0" fill="#f4dfa1"/><rect y="38.3" height="1.0" fill="#f4e8ae"/><rect y="39.3" height="1.0" fill="#f4eab1"/><rect y="40.3" height="1.0" fill="#f4e9af"/><rect y="41.3" height="1.0" fill="#f4e6ab"/><rect y="42.3" height="1.0" fill="#f4e9af"/><rect y="43.3" height="1.0" fill="#f4f0c1"/><rect y="44.3" height="1.0" fill="#f4db9d"/><rect y="45.3" height="1.0" fill="#f3f1c6"/><rect y="46.3" height="1.0" fill="#f4e0a3"/><rect y="47.3" height="1.0" fill="#f4eab1"/><rect y="48.3" height="1.0" fill="#f3d99a"/><rect y="49.3" height="1.0" fill="#f4e4a8"/><rect y="50.3" height="1.0" fill="#f4e5aa"/><rect y="51.3" height="1.0" fill="#f4e9af"/><rect y="52.3" height="1.0" fill="#f4dd9f"/><rect y="53.3" height="1.0" fill="#f4ebb3"/><rect y="54.3" height="1.0" fill="#f4e6ab"/><rect y="55.3" height="1.0" fill="#f4e9b0"/><rect y="56.3" height="2.0" fill="#f4e2a6"/><rect y="58.3" height="1.0" fill="#f4e8ae"/><rect y="59.3" height="1.0" fill="#f4eeb9"/><rect y="60.3" height="1.0" fill="#f4e5aa"/><rect y="61.3" height="1.0" fill="#f4e6ab"/><rect y="62.3" height="1.0" fill="#f4e1a5"/><rect y="63.3" height="1.0" fill="#f4da9b"/><rect y="64.3" height="1.0" fill="#f4e1a4"/><rect y="65.3" height="1.0" fill="#f4dd9e"/><rect y="66.3" height="1.0" fill="#f4e2a6"/><rect y="67.3" height="1.0" fill="#f4e0a3"/><rect y="68.3" height="1.0" fill="#f4e3a6"/><rect y="69.3" height="1.0" fill="#f4e1a4"/><rect y="70.3" height="1.0" fill="#f4dfa2"/><rect y="71.3" height="1.0" fill="#f4e3a8"/><rect y="72.3" height="1.0" fill="#f4e4a8"/><rect y="73.3" height="1.0" fill="#f4e2a5"/><rect y="74.3" height="0.4" fill="#f4dfa1"/></g><g transform="translate(158.80,0)"><rect y="25.3" height="1.0" fill="#f4e7ad"/><rect y="26.3" height="1.0" fill="#f3d697"/><rect y="27.3" height="1.0" fill="#f4dea0"/><rect y="28.3" height="1.0" fill="#f3d99a"/><rect y="29.3" height="1.0" fill="#f4e3a8"/><rect y="30.3" height="1.0" fill="#f4da9c"/><rect y="31.3" height="1.0" fill="#f4dfa2"/><rect y="32.3" height="1.0" fill="#f4dea1"/><rect y="33.3" height="1.0" fill="#f4e6ac"/><rect y="34.3" height="1.0" fill="#f2cf90"/><rect y="35.3" height="1.0" fill="#f3d596"/><rect y="36.3" height="1.0" fill="#f4dea0"/><rect y="37.3" height="1.0" fill="#f4e0a2"/><rect y="38.3" height="1.0" fill="#f4dfa1"/><rect y="39.3" height="1.0" fill="#f4f0c0"/><rect y="40.3" height="1.0" fill="#f4e1a4"/><rect y="41.3" height="1.0" fill="#f4dd9f"/><rect y="42.3" height="1.0" fill="#f4db9d"/><rect y="43.3" height="1.0" fill="#f4e2a6"/><rect y="44.3" height="1.0" fill="#f4e0a3"/><rect y="45.3" height="1.0" fill="#f4e3a6"/><rect y="46.3" height="1.0" fill="#f3d798"/><rect y="47.3" height="1.0" fill="#f4dea0"/><rect y="48.3" height="1.0" fill="#f4e2a5"/><rect y="49.3" height="1.0" fill="#f4e2a6"/><rect y="50.3" height="1.0" fill="#f4e6ab"/><rect y="51.3" height="1.0" fill="#f4dc9e"/><rect y="52.3" height="1.0" fill="#f4dea0"/><rect y="53.3" height="2.0" fill="#f4e1a4"/><rect y="55.3" height="1.0" fill="#f3d394"/><rect y="56.3" height="1.0" fill="#f4e0a3"/><rect y="57.3" height="1.0" fill="#f3d596"/><rect y="58.3" height="1.0" fill="#f4e0a3"/><rect y="59.3" height="1.0" fill="#f4db9d"/><rect y="60.3" height="1.0" fill="#f4dea1"/><rect y="61.3" height="1.0" fill="#f4dc9e"/><rect y="62.3" height="1.0" fill="#f4e3a6"/><rect y="63.3" height="1.0" fill="#f4dfa1"/><rect y="64.3" height="1.0" fill="#f3d495"/><rect y="65.3" height="2.0" fill="#f4e2a6"/><rect y="67.3" height="1.0" fill="#f4e8ae"/><rect y="68.3" height="1.0" fill="#f4e3a7"/><rect y="69.3" height="1.0" fill="#f4e6ab"/><rect y="70.3" height="1.0" fill="#f3d99a"/><rect y="71.3" height="1.0" fill="#f4e5aa"/><rect y="72.3" height="1.0" fill="#f4e3a7"/><rect y="73.3" height="1.0" fill="#f3d99b"/><rect y="74.3" height="0.4" fill="#f4dea0"/></g><g transform="translate(165.50,0)"><rect y="25.3" height="1.0" fill="#f4f0c4"/><rect y="26.3" height="1.0" fill="#f4eebb"/><rect y="27.3" height="1.0" fill="#f4ecb4"/><rect y="28.3" height="1.0" fill="#f4ebb2"/><rect y="29.3" height="1.0" fill="#f4ecb5"/><rect y="30.3" height="1.0" fill="#f4efbc"/><rect y="31.3" height="1.0" fill="#f4eeba"/><rect y="32.3" height="1.0" fill="#f4ebb3"/><rect y="33.3" height="1.0" fill="#f4e7ac"/><rect y="34.3" height="1.0" fill="#f4ebb2"/><rect y="35.3" height="1.0" fill="#f4ecb4"/><rect y="36.3" height="1.0" fill="#f4e9af"/><rect y="37.3" height="1.0" fill="#f4e8ae"/><rect y="38.3" height="1.0" fill="#f4ecb6"/><rect y="39.3" height="1.0" fill="#f4e9af"/><rect y="40.3" height="1.0" fill="#f4ecb4"/><rect y="41.3" height="1.0" fill="#f4e6aa"/><rect y="42.3" height="1.0" fill="#f4ecb5"/><rect y="43.3" height="1.0" fill="#f4e8ae"/><rect y="44.3" height="1.0" fill="#f4e7ac"/><rect y="45.3" height="1.0" fill="#f4ecb5"/><rect y="46.3" height="1.0" fill="#f4e5aa"/><rect y="47.3" height="1.0" fill="#f4e9af"/><rect y="48.3" height="1.0" fill="#f4e8ae"/><rect y="49.3" height="1.0" fill="#f4e5a9"/><rect y="50.3" height="1.0" fill="#f4e6ab"/><rect y="51.3" height="1.0" fill="#f4ecb4"/><rect y="52.3" height="1.0" fill="#f4f0c2"/><rect y="53.3" height="1.0" fill="#f4e6ab"/><rect y="54.3" height="1.0" fill="#f4ecb5"/><rect y="55.3" height="1.0" fill="#f4e6ac"/><rect y="56.3" height="1.0" fill="#f4ebb2"/><rect y="57.3" height="1.0" fill="#f4edb7"/><rect y="58.3" height="1.0" fill="#f4ecb4"/><rect y="59.3" height="1.0" fill="#f4eeba"/><rect y="60.3" height="1.0" fill="#f4ecb4"/><rect y="61.3" height="1.0" fill="#f4e6ab"/><rect y="62.3" height="1.0" fill="#f4ecb5"/><rect y="63.3" height="1.0" fill="#f4e4a8"/><rect y="64.3" height="1.0" fill="#f4e7ad"/><rect y="65.3" height="1.0" fill="#f4e6ab"/><rect y="66.3" height="1.0" fill="#f4eab1"/><rect y="67.3" height="1.0" fill="#f4e3a7"/><rect y="68.3" height="1.0" fill="#f4ebb2"/><rect y="69.3" height="1.0" fill="#f4e3a8"/><rect y="70.3" height="1.0" fill="#f4e0a3"/><rect y="71.3" height="1.0" fill="#f4e6ab"/><rect y="72.3" height="1.0" fill="#f4e9af"/><rect y="73.3" height="1.0" fill="#f3d89a"/><rect y="74.3" height="0.4" fill="#f4ecb6"/></g><g transform="translate(172.20,0)"><rect y="25.3" height="1.0" fill="#f4e4a9"/><rect y="26.3" height="1.0" fill="#f4edb7"/><rect y="27.3" height="1.0" fill="#f4eab1"/><rect y="28.3" height="1.0" fill="#f4e8ae"/><rect y="29.3" height="1.0" fill="#f4e5a9"/><rect y="30.3" height="1.0" fill="#f4e2a6"/><rect y="31.3" height="1.0" fill="#f4e4a9"/><rect y="32.3" height="1.0" fill="#f4efbe"/><rect y="33.3" height="1.0" fill="#f4e0a3"/><rect y="34.3" height="1.0" fill="#f4dea0"/><rect y="35.3" height="1.0" fill="#f4e9b0"/><rect y="36.3" height="1.0" fill="#f4dfa2"/><rect y="37.3" height="1.0" fill="#f4edb6"/><rect y="38.3" height="1.0" fill="#f4e6ac"/><rect y="39.3" height="1.0" fill="#f4e2a6"/><rect y="40.3" height="1.0" fill="#f4e9af"/><rect y="41.3" height="1.0" fill="#f4e4a9"/><rect y="42.3" height="1.0" fill="#f4e3a7"/><rect y="43.3" height="1.0" fill="#f4dfa2"/><rect y="44.3" height="1.0" fill="#f4dea0"/><rect y="45.3" height="1.0" fill="#f4e3a6"/><rect y="46.3" height="1.0" fill="#f4e2a5"/><rect y="47.3" height="1.0" fill="#f4e2a6"/><rect y="48.3" height="1.0" fill="#f4e0a3"/><rect y="49.3" height="1.0" fill="#f4db9c"/><rect y="50.3" height="1.0" fill="#f4dc9e"/><rect y="51.3" height="1.0" fill="#f4e6ab"/><rect y="52.3" height="1.0" fill="#f4e7ad"/><rect y="53.3" height="1.0" fill="#f4e5a9"/><rect y="54.3" height="1.0" fill="#f4e2a5"/><rect y="55.3" height="1.0" fill="#f4da9b"/><rect y="56.3" height="1.0" fill="#f4e5a9"/><rect y="57.3" height="1.0" fill="#f4e3a7"/><rect y="58.3" height="1.0" fill="#f4e5aa"/><rect y="59.3" height="1.0" fill="#f4e4a8"/><rect y="60.3" height="1.0" fill="#f4e5a9"/><rect y="61.3" height="2.0" fill="#f4e4a9"/><rect y="63.3" height="1.0" fill="#f4e3a7"/><rect y="64.3" height="1.0" fill="#f4e0a3"/><rect y="65.3" height="1.0" fill="#f4e7ac"/><rect y="66.3" height="2.0" fill="#f4e5aa"/><rect y="68.3" height="1.0" fill="#f4e7ad"/><rect y="69.3" height="1.0" fill="#f4e8ae"/><rect y="70.3" height="1.0" fill="#f4e8ad"/><rect y="71.3" height="1.0" fill="#f4eab0"/><rect y="72.3" height="1.0" fill="#f4e9af"/><rect y="73.3" height="1.0" fill="#f4e4a8"/><rect y="74.3" height="0.4" fill="#f4e3a7"/></g><g transform="translate(178.90,0)"><rect y="25.3" height="1.0" fill="#f4ebb2"/><rect y="26.3" height="1.0" fill="#f4ecb4"/><rect y="27.3" height="1.0" fill="#f4e6ac"/><rect y="28.3" height="1.0" fill="#f4e8ae"/><rect y="29.3" height="1.0" fill="#f4ecb4"/><rect y="30.3" height="1.0" fill="#f4ecb6"/><rect y="31.3" height="1.0" fill="#f4e5a9"/><rect y="32.3" height="1.0" fill="#f4e9b0"/><rect y="33.3" height="1.0" fill="#f4eebb"/><rect y="34.3" height="1.0" fill="#f4e3a7"/><rect y="35.3" height="1.0" fill="#f4ecb5"/><rect y="36.3" height="1.0" fill="#f4e9af"/><rect y="37.3" height="1.0" fill="#f4e9b0"/><rect y="38.3" height="1.0" fill="#f4efbe"/><rect y="39.3" height="1.0" fill="#f4ebb3"/><rect y="40.3" height="1.0" fill="#f4e9af"/><rect y="41.3" height="1.0" fill="#f4e3a8"/><rect y="42.3" height="1.0" fill="#f4eab0"/><rect y="43.3" height="1.0" fill="#f4e6ab"/><rect y="44.3" height="1.0" fill="#f4e8ae"/><rect y="45.3" height="1.0" fill="#f1f2d3"/><rect y="46.3" height="1.0" fill="#f4edb7"/><rect y="47.3" height="1.0" fill="#f4edb6"/><rect y="48.3" height="1.0" fill="#f4edb7"/><rect y="49.3" height="1.0" fill="#f4ecb4"/><rect y="50.3" height="1.0" fill="#f4e9b0"/><rect y="51.3" height="1.0" fill="#f4eeba"/><rect y="52.3" height="1.0" fill="#f4eab0"/><rect y="53.3" height="1.0" fill="#f4e5a9"/><rect y="54.3" height="1.0" fill="#f4e5aa"/><rect y="55.3" height="1.0" fill="#f4eab1"/><rect y="56.3" height="1.0" fill="#f4e5a9"/><rect y="57.3" height="1.0" fill="#f4eab1"/><rect y="58.3" height="1.0" fill="#f4ebb2"/><rect y="59.3" height="1.0" fill="#f0f1d4"/><rect y="60.3" height="1.0" fill="#f4edb7"/><rect y="61.3" height="1.0" fill="#f4ebb2"/><rect y="62.3" height="1.0" fill="#f4e7ad"/><rect y="63.3" height="1.0" fill="#f4e8ae"/><rect y="64.3" height="1.0" fill="#f4f0bf"/><rect y="65.3" height="1.0" fill="#f4e6ab"/><rect y="66.3" height="1.0" fill="#f4e9b0"/><rect y="67.3" height="1.0" fill="#f4ebb2"/><rect y="68.3" height="1.0" fill="#f4e7ac"/><rect y="69.3" height="1.0" fill="#f4ecb4"/><rect y="70.3" height="1.0" fill="#f4ebb2"/><rect y="71.3" height="1.0" fill="#f4e9af"/><rect y="72.3" height="1.0" fill="#f4ebb2"/><rect y="73.3" height="1.0" fill="#f4e5aa"/><rect y="74.3" height="0.4" fill="#f4ecb5"/></g><g transform="translate(185.60,0)"><rect y="25.3" height="1.0" fill="#f4eab1"/><rect y="26.3" height="1.0" fill="#f4ebb3"/><rect y="27.3" height="1.0" fill="#f4ecb4"/><rect y="28.3" height="1.0" fill="#f4edb6"/><rect y="29.3" height="2.0" fill="#f4ecb5"/><rect y="31.3" height="1.0" fill="#f4e8ad"/><rect y="32.3" height="1.0" fill="#f4ecb4"/><rect y="33.3" height="1.0" fill="#f4e7ac"/><rect y="34.3" height="1.0" fill="#f4e7ad"/><rect y="35.3" height="1.0" fill="#f4ebb3"/><rect y="36.3" height="1.0" fill="#f4e6ab"/><rect y="37.3" height="2.0" fill="#f4e9b0"/><rect y="39.3" height="1.0" fill="#f4ebb3"/><rect y="40.3" height="2.0" fill="#f4e8ae"/><rect y="42.3" height="1.0" fill="#f4eeb9"/><rect y="43.3" height="1.0" fill="#f4e9af"/><rect y="44.3" height="1.0" fill="#f4e5a9"/><rect y="45.3" height="1.0" fill="#f4edb7"/><rect y="46.3" height="1.0" fill="#f4edb6"/><rect y="47.3" height="1.0" fill="#f4eab1"/><rect y="48.3" height="1.0" fill="#f4e6ab"/><rect y="49.3" height="1.0" fill="#f4e7ad"/><rect y="50.3" height="1.0" fill="#f4ebb2"/><rect y="51.3" height="1.0" fill="#f4edb9"/><rect y="52.3" height="1.0" fill="#f4ecb4"/><rect y="53.3" height="1.0" fill="#f4ecb5"/><rect y="54.3" height="1.0" fill="#f4e4a8"/><rect y="55.3" height="1.0" fill="#f4e8ae"/><rect y="56.3" height="1.0" fill="#f4edb7"/><rect y="57.3" height="1.0" fill="#f4eebb"/><rect y="58.3" height="1.0" fill="#f4e8ae"/><rect y="59.3" height="1.0" fill="#f4e4a9"/><rect y="60.3" height="1.0" fill="#f4ecb5"/><rect y="61.3" height="1.0" fill="#f4edb7"/><rect y="62.3" height="1.0" fill="#f4e6ab"/><rect y="63.3" height="1.0" fill="#f4e9af"/><rect y="64.3" height="1.0" fill="#f4edb9"/><rect y="65.3" height="1.0" fill="#f4ebb2"/><rect y="66.3" height="1.0" fill="#f4edb9"/><rect y="67.3" height="1.0" fill="#f4e9af"/><rect y="68.3" height="1.0" fill="#f3f1c8"/><rect y="69.3" height="1.0" fill="#f4e6ab"/><rect y="70.3" height="1.0" fill="#f4ecb4"/><rect y="71.3" height="1.0" fill="#f4e7ac"/><rect y="72.3" height="1.0" fill="#f4edb8"/><rect y="73.3" height="1.0" fill="#f4eebb"/><rect y="74.3" height="0.4" fill="#f4e9b0"/></g><g transform="translate(192.30,0)"><rect y="25.3" height="1.0" fill="#f4e8ae"/><rect y="26.3" height="1.0" fill="#f4e6ab"/><rect y="27.3" height="1.0" fill="#f4e2a5"/><rect y="28.3" height="1.0" fill="#f4e9af"/><rect y="29.3" height="1.0" fill="#f4e5aa"/><rect y="30.3" height="1.0" fill="#f4e2a6"/><rect y="31.3" height="1.0" fill="#f4dc9e"/><rect y="32.3" height="1.0" fill="#f4e0a2"/><rect y="33.3" height="1.0" fill="#f4dfa1"/><rect y="34.3" height="1.0" fill="#f4ecb6"/><rect y="35.3" height="1.0" fill="#f3d697"/><rect y="36.3" height="1.0" fill="#f4e5a9"/><rect y="37.3" height="1.0" fill="#f4e7ac"/><rect y="38.3" height="1.0" fill="#f4dfa1"/><rect y="39.3" height="1.0" fill="#f4e5aa"/><rect y="40.3" height="1.0" fill="#f4db9c"/><rect y="41.3" height="1.0" fill="#f4e3a7"/><rect y="42.3" height="1.0" fill="#f4e4a9"/><rect y="43.3" height="1.0" fill="#f4ebb1"/><rect y="44.3" height="1.0" fill="#f4e5a9"/><rect y="45.3" height="1.0" fill="#f4e3a7"/><rect y="46.3" height="2.0" fill="#f4e0a3"/><rect y="48.3" height="1.0" fill="#f4e8ae"/><rect y="49.3" height="1.0" fill="#f4e1a4"/><rect y="50.3" height="1.0" fill="#f4e2a6"/><rect y="51.3" height="1.0" fill="#f4e5aa"/><rect y="52.3" height="1.0" fill="#f4e2a6"/><rect y="53.3" height="1.0" fill="#f4eab1"/><rect y="54.3" height="1.0" fill="#f4dc9d"/><rect y="55.3" height="2.0" fill="#f4e8ae"/><rect y="57.3" height="1.0" fill="#f4e1a4"/><rect y="58.3" height="1.0" fill="#f4e7ad"/><rect y="59.3" height="1.0" fill="#f4e0a3"/><rect y="60.3" height="1.0" fill="#f4e1a4"/><rect y="61.3" height="1.0" fill="#f3f1c4"/><rect y="62.3" height="1.0" fill="#f4e5aa"/><rect y="63.3" height="1.0" fill="#f4eebc"/><rect y="64.3" height="1.0" fill="#f4e4a8"/><rect y="65.3" height="1.0" fill="#f4e5aa"/><rect y="66.3" height="1.0" fill="#f4dea1"/><rect y="67.3" height="1.0" fill="#f4e8ae"/><rect y="68.3" height="1.0" fill="#f4e6ac"/><rect y="69.3" height="1.0" fill="#f4e4a9"/><rect y="70.3" height="1.0" fill="#f4e7ac"/><rect y="71.3" height="1.0" fill="#f4ecb4"/><rect y="72.3" height="1.0" fill="#f4e6ab"/><rect y="73.3" height="1.0" fill="#f4e4a8"/><rect y="74.3" height="0.4" fill="#f4e4a9"/></g><g transform="translate(199.00,0)"><rect y="25.3" height="1.0" fill="#f4e9af"/><rect y="26.3" height="1.0" fill="#f4ebb3"/><rect y="27.3" height="1.0" fill="#f4e0a3"/><rect y="28.3" height="1.0" fill="#f4e2a6"/><rect y="29.3" height="1.0" fill="#f4ebb3"/><rect y="30.3" height="1.0" fill="#f4e6ac"/><rect y="31.3" height="1.0" fill="#f4eebb"/><rect y="32.3" height="1.0" fill="#f4ecb5"/><rect y="33.3" height="1.0" fill="#f4e8ad"/><rect y="34.3" height="1.0" fill="#f4e6ac"/><rect y="35.3" height="1.0" fill="#f4ebb2"/><rect y="36.3" height="1.0" fill="#f4dfa2"/><rect y="37.3" height="1.0" fill="#f4eeba"/><rect y="38.3" height="1.0" fill="#f4edb7"/><rect y="39.3" height="1.0" fill="#f4e8ad"/><rect y="40.3" height="1.0" fill="#f4e4a8"/><rect y="41.3" height="1.0" fill="#f4ebb2"/><rect y="42.3" height="1.0" fill="#f4e0a2"/><rect y="43.3" height="1.0" fill="#f4e8ad"/><rect y="44.3" height="1.0" fill="#f4e5aa"/><rect y="45.3" height="1.0" fill="#f4e4a9"/><rect y="46.3" height="1.0" fill="#f4e8ae"/><rect y="47.3" height="1.0" fill="#f4ebb3"/><rect y="48.3" height="1.0" fill="#f4e9af"/><rect y="49.3" height="2.0" fill="#f4e2a6"/><rect y="51.3" height="1.0" fill="#f4e7ac"/><rect y="52.3" height="1.0" fill="#f4eeba"/><rect y="53.3" height="1.0" fill="#f4e4a8"/><rect y="54.3" height="1.0" fill="#f4e2a6"/><rect y="55.3" height="1.0" fill="#f4e7ac"/><rect y="56.3" height="1.0" fill="#f4eab0"/><rect y="57.3" height="1.0" fill="#f4e7ac"/><rect y="58.3" height="1.0" fill="#f4eab1"/><rect y="59.3" height="1.0" fill="#f4edb8"/><rect y="60.3" height="1.0" fill="#f4e0a3"/><rect y="61.3" height="1.0" fill="#f4ebb2"/><rect y="62.3" height="1.0" fill="#f4e8ae"/><rect y="63.3" height="1.0" fill="#f4e9af"/><rect y="64.3" height="1.0" fill="#f4ebb2"/><rect y="65.3" height="1.0" fill="#f4eab0"/><rect y="66.3" height="1.0" fill="#f4e5aa"/><rect y="67.3" height="1.0" fill="#f4e6ab"/><rect y="68.3" height="1.0" fill="#f4e9b0"/><rect y="69.3" height="1.0" fill="#f4e9af"/><rect y="70.3" height="1.0" fill="#f4e1a4"/><rect y="71.3" height="1.0" fill="#f4ebb2"/><rect y="72.3" height="1.0" fill="#f4e9b0"/><rect y="73.3" height="1.0" fill="#f4e4a8"/><rect y="74.3" height="0.4" fill="#f4e0a3"/></g><g transform="translate(58.30,0)"><rect y="74.7" height="1.0" fill="#f4dd9f"/><rect y="75.7" height="1.0" fill="#f4dea0"/><rect y="76.7" height="1.0" fill="#f4e2a5"/><rect y="77.7" height="1.0" fill="#f4e0a2"/><rect y="78.7" height="2.0" fill="#f4dc9e"/><rect y="80.7" height="1.0" fill="#f4da9c"/><rect y="81.7" height="1.0" fill="#f4e5aa"/><rect y="82.7" height="1.0" fill="#f1c585"/><rect y="83.7" height="1.0" fill="#f2d090"/><rect y="84.7" height="1.0" fill="#f4dfa1"/><rect y="85.7" height="1.0" fill="#f4e4a9"/><rect y="86.7" height="1.0" fill="#f3d99a"/><rect y="87.7" height="1.0" fill="#f4da9b"/><rect y="88.7" height="1.0" fill="#f4e0a3"/><rect y="89.7" height="1.0" fill="#f4e1a4"/><rect y="90.7" height="1.0" fill="#f2cf90"/><rect y="91.7" height="1.0" fill="#f4dd9f"/><rect y="92.7" height="1.0" fill="#f4e4a8"/><rect y="93.7" height="1.0" fill="#f4e2a6"/><rect y="94.7" height="1.0" fill="#f4db9c"/><rect y="95.7" height="0.1" fill="#f4e4a8"/></g><g transform="translate(65.00,0)"><rect y="74.7" height="1.0" fill="#f4e9af"/><rect y="75.7" height="1.0" fill="#f4eab0"/><rect y="76.7" height="1.0" fill="#f4eab1"/><rect y="77.7" height="1.0" fill="#f4efbc"/><rect y="78.7" height="1.0" fill="#f4edb7"/><rect y="79.7" height="1.0" fill="#f4edb8"/><rect y="80.7" height="1.0" fill="#f4efbe"/><rect y="81.7" height="1.0" fill="#f4e7ac"/><rect y="82.7" height="1.0" fill="#f4e8ae"/><rect y="83.7" height="1.0" fill="#f4edb7"/><rect y="84.7" height="1.0" fill="#f4f0bf"/><rect y="85.7" height="1.0" fill="#f4e6ab"/><rect y="86.7" height="1.0" fill="#f4f0c0"/><rect y="87.7" height="1.0" fill="#f4edb7"/><rect y="88.7" height="1.0" fill="#f4f0c0"/><rect y="89.7" height="1.0" fill="#f4edb7"/><rect y="90.7" height="1.0" fill="#f4eab1"/><rect y="91.7" height="1.0" fill="#f4f0bf"/><rect y="92.7" height="1.0" fill="#f4e7ac"/><rect y="93.7" height="1.0" fill="#f4eeba"/><rect y="94.7" height="1.0" fill="#f4eab1"/><rect y="95.7" height="0.1" fill="#f4e8ae"/></g><g transform="translate(71.70,0)"><rect y="74.7" height="1.0" fill="#f4ebb3"/><rect y="75.7" height="1.0" fill="#f4edb8"/><rect y="76.7" height="1.0" fill="#f4edb9"/><rect y="77.7" height="1.0" fill="#f4eeb9"/><rect y="78.7" height="1.0" fill="#f4ebb2"/><rect y="79.7" height="1.0" fill="#f4ecb6"/><rect y="80.7" height="1.0" fill="#f4edb8"/><rect y="81.7" height="1.0" fill="#f4eeba"/><rect y="82.7" height="1.0" fill="#f4ecb6"/><rect y="83.7" height="2.0" fill="#f4e8ae"/><rect y="85.7" height="1.0" fill="#f4eeba"/><rect y="86.7" height="1.0" fill="#f4ebb3"/><rect y="87.7" height="1.0" fill="#f4efbc"/><rect y="88.7" height="1.0" fill="#f4dea0"/><rect y="89.7" height="1.0" fill="#f4ecb6"/><rect y="90.7" height="1.0" fill="#f4efbc"/><rect y="91.7" height="1.0" fill="#f4e4a9"/><rect y="92.7" height="1.0" fill="#f4eebb"/><rect y="93.7" height="1.0" fill="#f4dc9d"/><rect y="94.7" height="1.0" fill="#f4edb7"/><rect y="95.7" height="0.1" fill="#f4eeb9"/></g><g transform="translate(78.40,0)"><rect y="74.7" height="1.0" fill="#f4e3a7"/><rect y="75.7" height="1.0" fill="#f4e2a6"/><rect y="76.7" height="1.0" fill="#f4edb7"/><rect y="77.7" height="1.0" fill="#f4dc9d"/><rect y="78.7" height="1.0" fill="#f4db9c"/><rect y="79.7" height="1.0" fill="#f4e4a8"/><rect y="80.7" height="1.0" fill="#f4e1a4"/><rect y="81.7" height="1.0" fill="#f4e0a3"/><rect y="82.7" height="1.0" fill="#f4e2a6"/><rect y="83.7" height="2.0" fill="#f4dfa1"/><rect y="85.7" height="1.0" fill="#f4e2a6"/><rect y="86.7" height="1.0" fill="#f4e1a5"/><rect y="87.7" height="1.0" fill="#f4e5aa"/><rect y="88.7" height="1.0" fill="#f4e3a7"/><rect y="89.7" height="1.0" fill="#f4dd9f"/><rect y="90.7" height="1.0" fill="#f1c686"/><rect y="91.7" height="1.0" fill="#f4e4a8"/><rect y="92.7" height="1.0" fill="#f4e6ab"/><rect y="93.7" height="1.0" fill="#f4e1a4"/><rect y="94.7" height="1.0" fill="#f4e3a7"/><rect y="95.7" height="0.1" fill="#f4e2a6"/></g><g transform="translate(85.10,0)"><rect y="74.7" height="1.0" fill="#f4edb8"/><rect y="75.7" height="1.0" fill="#f2cf8f"/><rect y="76.7" height="1.0" fill="#f3d89a"/><rect y="77.7" height="1.0" fill="#f4e1a3"/><rect y="78.7" height="1.0" fill="#f4dea0"/><rect y="79.7" height="1.0" fill="#f4e2a6"/><rect y="80.7" height="1.0" fill="#f3d89a"/><rect y="81.7" height="1.0" fill="#f4e4a8"/><rect y="82.7" height="1.0" fill="#f4e5a9"/><rect y="83.7" height="1.0" fill="#f4e4a9"/><rect y="84.7" height="1.0" fill="#f4e9af"/><rect y="85.7" height="1.0" fill="#f4e6ac"/><rect y="86.7" height="1.0" fill="#f4e9b0"/><rect y="87.7" height="1.0" fill="#f4e2a6"/><rect y="88.7" height="1.0" fill="#f4e9b0"/><rect y="89.7" height="1.0" fill="#f4e1a4"/><rect y="90.7" height="1.0" fill="#f4e5aa"/><rect y="91.7" height="2.0" fill="#f4e8ae"/><rect y="93.7" height="1.0" fill="#f4e3a6"/><rect y="94.7" height="1.0" fill="#f4e1a4"/><rect y="95.7" height="0.1" fill="#f4e8ae"/></g><g transform="translate(91.80,0)"><rect y="74.7" height="1.0" fill="#f4e7ac"/><rect y="75.7" height="1.0" fill="#f4e1a4"/><rect y="76.7" height="1.0" fill="#f4ecb4"/><rect y="77.7" height="1.0" fill="#f4eab1"/><rect y="78.7" height="1.0" fill="#f4e7ad"/><rect y="79.7" height="1.0" fill="#f4e3a7"/><rect y="80.7" height="1.0" fill="#f4e5aa"/><rect y="81.7" height="1.0" fill="#f4e8ae"/><rect y="82.7" height="1.0" fill="#f4e5a9"/><rect y="83.7" height="1.0" fill="#f4ecb5"/><rect y="84.7" height="1.0" fill="#f4e9af"/><rect y="85.7" height="1.0" fill="#f4ebb2"/><rect y="86.7" height="1.0" fill="#f4eab1"/><rect y="87.7" height="1.0" fill="#f4edb7"/><rect y="88.7" height="1.0" fill="#f4e4a8"/><rect y="89.7" height="2.0" fill="#f4ecb5"/><rect y="91.7" height="1.0" fill="#f4e8ae"/><rect y="92.7" height="2.0" fill="#f4edb8"/><rect y="94.7" height="1.0" fill="#f4eab0"/><rect y="95.7" height="0.1" fill="#f4ecb4"/></g><g transform="translate(98.50,0)"><rect y="74.7" height="1.0" fill="#edf0d9"/><rect y="75.7" height="1.0" fill="#eff1d5"/><rect y="76.7" height="1.0" fill="#e2ebe8"/><rect y="77.7" height="1.0" fill="#f0f1d5"/><rect y="78.7" height="1.0" fill="#f3f1cb"/><rect y="79.7" height="1.0" fill="#f3f1ca"/><rect y="80.7" height="1.0" fill="#f0f1d5"/><rect y="81.7" height="1.0" fill="#f1f2d2"/><rect y="82.7" height="1.0" fill="#eaefde"/><rect y="83.7" height="1.0" fill="#f3f1cb"/><rect y="84.7" height="1.0" fill="#f2f2d0"/><rect y="85.7" height="1.0" fill="#eff1d6"/><rect y="86.7" height="1.0" fill="#ebf0dd"/><rect y="87.7" height="1.0" fill="#eef1d7"/><rect y="88.7" height="1.0" fill="#edf0da"/><rect y="89.7" height="1.0" fill="#f2f2d0"/><rect y="90.7" height="1.0" fill="#f3f1c6"/><rect y="91.7" height="1.0" fill="#f1f2d2"/><rect y="92.7" height="1.0" fill="#eff1d7"/><rect y="93.7" height="1.0" fill="#eef1d8"/><rect y="94.7" height="1.0" fill="#f0f1d4"/><rect y="95.7" height="0.1" fill="#ebefde"/></g><g transform="translate(105.20,0)"><rect y="74.7" height="1.0" fill="#f4e9af"/><rect y="75.7" height="1.0" fill="#f4e6ac"/><rect y="76.7" height="1.0" fill="#f4ebb2"/><rect y="77.7" height="1.0" fill="#f4efbe"/><rect y="78.7" height="1.0" fill="#f4edb6"/><rect y="79.7" height="1.0" fill="#f1f2d1"/><rect y="80.7" height="1.0" fill="#f4edb8"/><rect y="81.7" height="1.0" fill="#f4edb7"/><rect y="82.7" height="2.0" fill="#f4efbd"/><rect y="84.7" height="1.0" fill="#f4e8ae"/><rect y="85.7" height="1.0" fill="#f4edb9"/><rect y="86.7" height="1.0" fill="#f4e9b0"/><rect y="87.7" height="1.0" fill="#f4edb9"/><rect y="88.7" height="1.0" fill="#f4edb8"/><rect y="89.7" height="1.0" fill="#f4ecb4"/><rect y="90.7" height="1.0" fill="#f4ebb3"/><rect y="91.7" height="1.0" fill="#f4f0c0"/><rect y="92.7" height="1.0" fill="#f4ebb2"/><rect y="93.7" height="1.0" fill="#f4edb9"/><rect y="94.7" height="1.0" fill="#f4ecb6"/><rect y="95.7" height="0.1" fill="#f4ebb2"/></g><g transform="translate(111.90,0)"><rect y="74.7" height="1.0" fill="#f4f0c2"/><rect y="75.7" height="1.0" fill="#f4f0c3"/><rect y="76.7" height="1.0" fill="#f4e5aa"/><rect y="77.7" height="1.0" fill="#f4ecb4"/><rect y="78.7" height="1.0" fill="#f4efbe"/><rect y="79.7" height="1.0" fill="#f4efbd"/><rect y="80.7" height="1.0" fill="#f4eeb9"/><rect y="81.7" height="1.0" fill="#f4efbd"/><rect y="82.7" height="1.0" fill="#f4efbe"/><rect y="83.7" height="1.0" fill="#f4efbd"/><rect y="84.7" height="1.0" fill="#f4eebb"/><rect y="85.7" height="1.0" fill="#f4eab1"/><rect y="86.7" height="1.0" fill="#f4ecb6"/><rect y="87.7" height="1.0" fill="#f4efbd"/><rect y="88.7" height="1.0" fill="#f4eebb"/><rect y="89.7" height="1.0" fill="#f4e9af"/><rect y="90.7" height="1.0" fill="#f4efbe"/><rect y="91.7" height="1.0" fill="#f3f1c5"/><rect y="92.7" height="1.0" fill="#f3f1c9"/><rect y="93.7" height="1.0" fill="#f4eebc"/><rect y="94.7" height="1.0" fill="#f4edb9"/><rect y="95.7" height="0.1" fill="#f4edb8"/></g><g transform="translate(118.60,0)"><rect y="74.7" height="1.0" fill="#f4e5a9"/><rect y="75.7" height="1.0" fill="#f4dfa1"/><rect y="76.7" height="1.0" fill="#f4e3a7"/><rect y="77.7" height="1.0" fill="#f4e2a6"/><rect y="78.7" height="1.0" fill="#f4e7ac"/><rect y="79.7" height="1.0" fill="#f4e4a8"/><rect y="80.7" height="1.0" fill="#f4dea0"/><rect y="81.7" height="1.0" fill="#f3d697"/><rect y="82.7" height="1.0" fill="#f4e4a8"/><rect y="83.7" height="1.0" fill="#f4dd9f"/><rect y="84.7" height="1.0" fill="#f4e3a7"/><rect y="85.7" height="1.0" fill="#f4ebb1"/><rect y="86.7" height="1.0" fill="#f4dd9f"/><rect y="87.7" height="1.0" fill="#f3d799"/><rect y="88.7" height="1.0" fill="#f4eeb9"/><rect y="89.7" height="1.0" fill="#f4e3a8"/><rect y="90.7" height="1.0" fill="#f4e8ae"/><rect y="91.7" height="1.0" fill="#f4e6ac"/><rect y="92.7" height="1.0" fill="#f4e2a6"/><rect y="93.7" height="1.0" fill="#f4ecb4"/><rect y="94.7" height="1.0" fill="#f4dea0"/><rect y="95.7" height="0.1" fill="#f4e9b0"/></g><g transform="translate(125.30,0)"><rect y="74.7" height="1.0" fill="#f4e6ab"/><rect y="75.7" height="1.0" fill="#f4e3a7"/><rect y="76.7" height="1.0" fill="#f4e5aa"/><rect y="77.7" height="1.0" fill="#f4e9af"/><rect y="78.7" height="1.0" fill="#f4eab1"/><rect y="79.7" height="1.0" fill="#f4ebb2"/><rect y="80.7" height="1.0" fill="#f2ce8f"/><rect y="81.7" height="1.0" fill="#f4e6ab"/><rect y="82.7" height="1.0" fill="#f4edb9"/><rect y="83.7" height="1.0" fill="#f2cf90"/><rect y="84.7" height="1.0" fill="#f4e6ac"/><rect y="85.7" height="1.0" fill="#f4e8ae"/><rect y="86.7" height="1.0" fill="#f4e9af"/><rect y="87.7" height="1.0" fill="#f4e6ab"/><rect y="88.7" height="1.0" fill="#f4e8ad"/><rect y="89.7" height="1.0" fill="#f4eab0"/><rect y="90.7" height="1.0" fill="#f4ecb5"/><rect y="91.7" height="1.0" fill="#f4e9af"/><rect y="92.7" height="1.0" fill="#f4ebb2"/><rect y="93.7" height="1.0" fill="#f4eab1"/><rect y="94.7" height="1.0" fill="#f4e9b0"/><rect y="95.7" height="0.1" fill="#f4edb7"/></g><g transform="translate(132.00,0)"><rect y="74.7" height="1.0" fill="#f3f1c5"/><rect y="75.7" height="1.0" fill="#ecf0dc"/><rect y="76.7" height="1.0" fill="#edf0d9"/><rect y="77.7" height="1.0" fill="#f4efbc"/><rect y="78.7" height="1.0" fill="#f4f0c1"/><rect y="79.7" height="1.0" fill="#edf0db"/><rect y="80.7" height="1.0" fill="#eef1d9"/><rect y="81.7" height="1.0" fill="#f4efbd"/><rect y="82.7" height="2.0" fill="#f4f0c2"/><rect y="84.7" height="1.0" fill="#f3f1c9"/><rect y="85.7" height="2.0" fill="#f4f0bf"/><rect y="87.7" height="1.0" fill="#f1f2d2"/><rect y="88.7" height="1.0" fill="#f2f2ce"/><rect y="89.7" height="1.0" fill="#f4f0bf"/><rect y="90.7" height="1.0" fill="#f3f1c4"/><rect y="91.7" height="1.0" fill="#f4eeba"/><rect y="92.7" height="1.0" fill="#f0f1d4"/><rect y="93.7" height="1.0" fill="#f4efbd"/><rect y="94.7" height="1.0" fill="#f0f1d4"/><rect y="95.7" height="0.1" fill="#f4f0c0"/></g><g transform="translate(138.70,0)"><rect y="74.7" height="1.0" fill="#f1f2d3"/><rect y="75.7" height="1.0" fill="#f4efbd"/><rect y="76.7" height="1.0" fill="#f3f1c4"/><rect y="77.7" height="1.0" fill="#f4f0c0"/><rect y="78.7" height="1.0" fill="#f3f1c5"/><rect y="79.7" height="1.0" fill="#f4f0c1"/><rect y="80.7" height="1.0" fill="#f2f2cc"/><rect y="81.7" height="1.0" fill="#f4ebb2"/><rect y="82.7" height="1.0" fill="#f4efbe"/><rect y="83.7" height="1.0" fill="#f4eebb"/><rect y="84.7" height="1.0" fill="#f3f1c5"/><rect y="85.7" height="1.0" fill="#f1f2d3"/><rect y="86.7" height="1.0" fill="#f0f1d4"/><rect y="87.7" height="1.0" fill="#f3f1c4"/><rect y="88.7" height="1.0" fill="#f3f1cc"/><rect y="89.7" height="1.0" fill="#f3f1ca"/><rect y="90.7" height="1.0" fill="#f4f0c2"/><rect y="91.7" height="1.0" fill="#f4edb8"/><rect y="92.7" height="1.0" fill="#f4f0c2"/><rect y="93.7" height="1.0" fill="#f3f1c9"/><rect y="94.7" height="1.0" fill="#f3f1c6"/><rect y="95.7" height="0.1" fill="#f4f0c4"/></g><g transform="translate(145.40,0)"><rect y="74.7" height="1.0" fill="#f3f1cb"/><rect y="75.7" height="1.0" fill="#edf0db"/><rect y="76.7" height="1.0" fill="#eef1d8"/><rect y="77.7" height="1.0" fill="#edf0d9"/><rect y="78.7" height="1.0" fill="#e7eee1"/><rect y="79.7" height="1.0" fill="#f2f2ce"/><rect y="80.7" height="1.0" fill="#edf0da"/><rect y="81.7" height="2.0" fill="#ecf0dc"/><rect y="83.7" height="1.0" fill="#ebefdd"/><rect y="84.7" height="1.0" fill="#f2f2cf"/><rect y="85.7" height="1.0" fill="#edf0da"/><rect y="86.7" height="1.0" fill="#f3f1c9"/><rect y="87.7" height="1.0" fill="#d9e6eb"/><rect y="88.7" height="1.0" fill="#f0f1d4"/><rect y="89.7" height="1.0" fill="#f1f2d2"/><rect y="90.7" height="1.0" fill="#e9efdf"/><rect y="91.7" height="1.0" fill="#f0f1d5"/><rect y="92.7" height="1.0" fill="#eef1d8"/><rect y="93.7" height="1.0" fill="#f3f1c9"/><rect y="94.7" height="1.0" fill="#ecf0dc"/><rect y="95.7" height="0.1" fill="#eef1d7"/></g><g transform="translate(152.10,0)"><rect y="74.7" height="1.0" fill="#f2f2cd"/><rect y="75.7" height="1.0" fill="#f0f1d4"/><rect y="76.7" height="1.0" fill="#eff1d7"/><rect y="77.7" height="1.0" fill="#eff1d5"/><rect y="78.7" height="1.0" fill="#eaefde"/><rect y="79.7" height="1.0" fill="#eef1d9"/><rect y="80.7" height="1.0" fill="#f2f2ce"/><rect y="81.7" height="1.0" fill="#ebefde"/><rect y="82.7" height="1.0" fill="#e6ede3"/><rect y="83.7" height="1.0" fill="#f2f2cc"/><rect y="84.7" height="1.0" fill="#edf0da"/><rect y="85.7" height="1.0" fill="#f4eeba"/><rect y="86.7" height="1.0" fill="#edf0d9"/><rect y="87.7" height="1.0" fill="#e3ece6"/><rect y="88.7" height="1.0" fill="#e8eee1"/><rect y="89.7" height="1.0" fill="#f2f2d0"/><rect y="90.7" height="1.0" fill="#edf0d9"/><rect y="91.7" height="2.0" fill="#ebf0dd"/><rect y="93.7" height="1.0" fill="#edf0da"/><rect y="94.7" height="1.0" fill="#ecf0db"/><rect y="95.7" height="0.1" fill="#f2f2ce"/></g><g transform="translate(158.80,0)"><rect y="74.7" height="1.0" fill="#f0f1d5"/><rect y="75.7" height="1.0" fill="#e6ede3"/><rect y="76.7" height="1.0" fill="#f1f2d3"/><rect y="77.7" height="1.0" fill="#edf0da"/><rect y="78.7" height="1.0" fill="#f2f2cd"/><rect y="79.7" height="1.0" fill="#f1f2d3"/><rect y="80.7" height="1.0" fill="#eef1d8"/><rect y="81.7" height="1.0" fill="#eaefde"/><rect y="82.7" height="1.0" fill="#ebefde"/><rect y="83.7" height="1.0" fill="#f2f2d0"/><rect y="84.7" height="1.0" fill="#f2f2cd"/><rect y="85.7" height="1.0" fill="#f0f1d4"/><rect y="86.7" height="1.0" fill="#eff1d5"/><rect y="87.7" height="1.0" fill="#f1f2d2"/><rect y="88.7" height="1.0" fill="#ecf0dc"/><rect y="89.7" height="1.0" fill="#ebf0dd"/><rect y="90.7" height="1.0" fill="#e9eee0"/><rect y="91.7" height="1.0" fill="#e7ede2"/><rect y="92.7" height="1.0" fill="#f0f1d4"/><rect y="93.7" height="1.0" fill="#eaefde"/><rect y="94.7" height="1.0" fill="#ebefdd"/><rect y="95.7" height="0.1" fill="#f0f1d4"/></g><g transform="translate(165.50,0)"><rect y="74.7" height="1.0" fill="#f3f1c9"/><rect y="75.7" height="1.0" fill="#f4efbc"/><rect y="76.7" height="1.0" fill="#f3f1c9"/><rect y="77.7" height="1.0" fill="#f3f1c4"/><rect y="78.7" height="1.0" fill="#eff1d6"/><rect y="79.7" height="1.0" fill="#f4efbe"/><rect y="80.7" height="1.0" fill="#f3f1c5"/><rect y="81.7" height="1.0" fill="#f4f0bf"/><rect y="82.7" height="1.0" fill="#f4f0c1"/><rect y="83.7" height="1.0" fill="#f3f1c5"/><rect y="84.7" height="1.0" fill="#f4f0c1"/><rect y="85.7" height="1.0" fill="#f4efbc"/><rect y="86.7" height="1.0" fill="#f3f1c5"/><rect y="87.7" height="1.0" fill="#f4eeb9"/><rect y="88.7" height="1.0" fill="#f4f0c2"/><rect y="89.7" height="1.0" fill="#f3f1c9"/><rect y="90.7" height="1.0" fill="#f4edb7"/><rect y="91.7" height="1.0" fill="#f4e8ad"/><rect y="92.7" height="1.0" fill="#f2f2ce"/><rect y="93.7" height="1.0" fill="#f4f0c1"/><rect y="94.7" height="1.0" fill="#f4f0c3"/><rect y="95.7" height="0.1" fill="#f3f1c8"/></g><g transform="translate(172.20,0)"><rect y="74.7" height="1.0" fill="#eff1d6"/><rect y="75.7" height="1.0" fill="#e8eee1"/><rect y="76.7" height="1.0" fill="#edf0da"/><rect y="77.7" height="1.0" fill="#ebefdd"/><rect y="78.7" height="1.0" fill="#e4ece5"/><rect y="79.7" height="1.0" fill="#f1f2d3"/><rect y="80.7" height="1.0" fill="#f0f1d4"/><rect y="81.7" height="1.0" fill="#eff1d6"/><rect y="82.7" height="1.0" fill="#e0eaea"/><rect y="83.7" height="1.0" fill="#f1f2d2"/><rect y="84.7" height="1.0" fill="#eaefde"/><rect y="85.7" height="1.0" fill="#dee8ea"/><rect y="86.7" height="1.0" fill="#ebf0dd"/><rect y="87.7" height="1.0" fill="#edf0db"/><rect y="88.7" height="1.0" fill="#edf0da"/><rect y="89.7" height="1.0" fill="#e5ede4"/><rect y="90.7" height="1.0" fill="#f2f2cf"/><rect y="91.7" height="1.0" fill="#eff1d5"/><rect y="92.7" height="1.0" fill="#ecf0dc"/><rect y="93.7" height="1.0" fill="#e7ede2"/><rect y="94.7" height="1.0" fill="#ebefdd"/><rect y="95.7" height="0.1" fill="#e8eee1"/></g><g transform="translate(178.90,0)"><rect y="74.7" height="1.0" fill="#f1f2d3"/><rect y="75.7" height="1.0" fill="#f3f1c6"/><rect y="76.7" height="1.0" fill="#f3f1c8"/><rect y="77.7" height="1.0" fill="#f2f2cd"/><rect y="78.7" height="1.0" fill="#f4edb7"/><rect y="79.7" height="1.0" fill="#f3f1ca"/><rect y="80.7" height="1.0" fill="#f2f2cd"/><rect y="81.7" height="1.0" fill="#f3f1c6"/><rect y="82.7" height="1.0" fill="#f1f2d2"/><rect y="83.7" height="1.0" fill="#f3f1cb"/><rect y="84.7" height="1.0" fill="#f4f0c2"/><rect y="85.7" height="1.0" fill="#f0f1d4"/><rect y="86.7" height="1.0" fill="#f3f1ca"/><rect y="87.7" height="1.0" fill="#f3f1c9"/><rect y="88.7" height="1.0" fill="#f1f2d3"/><rect y="89.7" height="2.0" fill="#f3f1c9"/><rect y="91.7" height="1.0" fill="#f2f2cf"/><rect y="92.7" height="1.0" fill="#f3f1c5"/><rect y="93.7" height="1.0" fill="#f3f1c9"/><rect y="94.7" height="1.0" fill="#f2f2d0"/><rect y="95.7" height="0.1" fill="#f2f2cd"/></g><g transform="translate(185.60,0)"><rect y="74.7" height="1.0" fill="#f3f1cb"/><rect y="75.7" height="1.0" fill="#f4efbe"/><rect y="76.7" height="1.0" fill="#eef1d8"/><rect y="77.7" height="1.0" fill="#f4f0c3"/><rect y="78.7" height="1.0" fill="#f4f0c1"/><rect y="79.7" height="1.0" fill="#e8eee1"/><rect y="80.7" height="1.0" fill="#f3f1c9"/><rect y="81.7" height="1.0" fill="#f3f1c8"/><rect y="82.7" height="1.0" fill="#f3f1c5"/><rect y="83.7" height="1.0" fill="#f4f0c4"/><rect y="84.7" height="1.0" fill="#f3f1c5"/><rect y="85.7" height="1.0" fill="#f2f2d0"/><rect y="86.7" height="1.0" fill="#f3f1ca"/><rect y="87.7" height="1.0" fill="#f2f2d0"/><rect y="88.7" height="1.0" fill="#f3f1c6"/><rect y="89.7" height="1.0" fill="#f3f1c7"/><rect y="90.7" height="1.0" fill="#f3f1ca"/><rect y="91.7" height="1.0" fill="#f2f2cf"/><rect y="92.7" height="1.0" fill="#f3f1c5"/><rect y="93.7" height="1.0" fill="#f3f1ca"/><rect y="94.7" height="1.0" fill="#f3f1c7"/><rect y="95.7" height="0.1" fill="#eff1d7"/></g><g transform="translate(192.30,0)"><rect y="74.7" height="1.0" fill="#f2f2ce"/><rect y="75.7" height="1.0" fill="#f0f1d4"/><rect y="76.7" height="1.0" fill="#f3f1ca"/><rect y="77.7" height="1.0" fill="#f4efbd"/><rect y="78.7" height="1.0" fill="#f3f1c7"/><rect y="79.7" height="1.0" fill="#f2f2ce"/><rect y="80.7" height="1.0" fill="#f0f1d4"/><rect y="81.7" height="1.0" fill="#eff1d7"/><rect y="82.7" height="1.0" fill="#f3f1cb"/><rect y="83.7" height="1.0" fill="#f4eeb9"/><rect y="84.7" height="1.0" fill="#f4eeba"/><rect y="85.7" height="1.0" fill="#edf0d9"/><rect y="86.7" height="1.0" fill="#f2f2cf"/><rect y="87.7" height="1.0" fill="#f3f1c7"/><rect y="88.7" height="1.0" fill="#f3f1cb"/><rect y="89.7" height="1.0" fill="#f2f2cf"/><rect y="90.7" height="1.0" fill="#f0f1d5"/><rect y="91.7" height="1.0" fill="#f1f2d3"/><rect y="92.7" height="1.0" fill="#f2f2cf"/><rect y="93.7" height="1.0" fill="#f4f0bf"/><rect y="94.7" height="1.0" fill="#f3f1cc"/><rect y="95.7" height="0.1" fill="#f2f2ce"/></g><g transform="translate(199.00,0)"><rect y="74.7" height="1.0" fill="#eef1d7"/><rect y="75.7" height="1.0" fill="#f4f0c0"/><rect y="76.7" height="1.0" fill="#f1f2d1"/><rect y="77.7" height="1.0" fill="#f3f1c7"/><rect y="78.7" height="1.0" fill="#f3f1c8"/><rect y="79.7" height="1.0" fill="#f4f0c2"/><rect y="80.7" height="1.0" fill="#f2f2d0"/><rect y="81.7" height="1.0" fill="#f2f2ce"/><rect y="82.7" height="1.0" fill="#e4ece5"/><rect y="83.7" height="1.0" fill="#f1f2d2"/><rect y="84.7" height="1.0" fill="#edf0da"/><rect y="85.7" height="1.0" fill="#f3f1c7"/><rect y="86.7" height="1.0" fill="#f2f2ce"/><rect y="87.7" height="1.0" fill="#f0f1d4"/><rect y="88.7" height="1.0" fill="#f4f0c3"/><rect y="89.7" height="1.0" fill="#f2f2cd"/><rect y="90.7" height="1.0" fill="#f2f2ce"/><rect y="91.7" height="1.0" fill="#f3f1ca"/><rect y="92.7" height="1.0" fill="#f2f2ce"/><rect y="93.7" height="1.0" fill="#f3f1c5"/><rect y="94.7" height="1.0" fill="#f2f2cf"/><rect y="95.7" height="0.1" fill="#f2f2ce"/></g><g transform="translate(58.30,0)"><rect y="95.8" height="1.0" fill="#f3f1ca"/><rect y="96.8" height="1.0" fill="#f4f0bf"/><rect y="97.8" height="1.0" fill="#f3f1c9"/><rect y="98.8" height="1.0" fill="#f2f2d1"/><rect y="99.8" height="1.0" fill="#f3f1c6"/><rect y="100.8" height="1.0" fill="#f3f1c7"/><rect y="101.8" height="1.0" fill="#f3f1c5"/><rect y="102.8" height="1.0" fill="#f4efbd"/><rect y="103.8" height="1.0" fill="#f4eebb"/><rect y="104.8" height="1.0" fill="#ebefdd"/><rect y="105.8" height="1.0" fill="#f4f0c1"/><rect y="106.8" height="1.0" fill="#f4f0c2"/><rect y="107.8" height="1.0" fill="#f3f1c7"/><rect y="108.8" height="2.0" fill="#f4f0c3"/><rect y="110.8" height="1.0" fill="#f0f1d4"/><rect y="111.8" height="1.0" fill="#f3f1c4"/><rect y="112.8" height="1.0" fill="#f3f1c5"/><rect y="113.8" height="1.0" fill="#f3f1c9"/><rect y="114.8" height="1.0" fill="#f3f1c5"/><rect y="115.8" height="1.0" fill="#f3f1c6"/><rect y="116.8" height="1.0" fill="#f4f0c2"/><rect y="117.8" height="1.0" fill="#f4efbd"/><rect y="118.8" height="1.0" fill="#f3f1c6"/><rect y="119.8" height="1.0" fill="#f4f0c2"/><rect y="120.8" height="1.0" fill="#f4efbe"/><rect y="121.8" height="1.0" fill="#f4f0bf"/><rect y="122.8" height="1.0" fill="#f2f2cd"/><rect y="123.8" height="1.0" fill="#f4dea1"/><rect y="124.8" height="1.0" fill="#f3f1c8"/><rect y="125.8" height="1.0" fill="#f3f1cb"/></g><g transform="translate(65.00,0)"><rect y="95.8" height="1.0" fill="#f3f1cb"/><rect y="96.8" height="1.0" fill="#f3f1c7"/><rect y="97.8" height="1.0" fill="#f3f1cb"/><rect y="98.8" height="1.0" fill="#f4f0bf"/><rect y="99.8" height="1.0" fill="#f4eeba"/><rect y="100.8" height="1.0" fill="#f4f0bf"/><rect y="101.8" height="1.0" fill="#f4efbe"/><rect y="102.8" height="1.0" fill="#f3f1c8"/><rect y="103.8" height="1.0" fill="#eff1d6"/><rect y="104.8" height="1.0" fill="#f0f1d4"/><rect y="105.8" height="1.0" fill="#f4f0c3"/><rect y="106.8" height="1.0" fill="#f2f2cd"/><rect y="107.8" height="1.0" fill="#f4edb8"/><rect y="108.8" height="1.0" fill="#f4eebb"/><rect y="109.8" height="1.0" fill="#f4efbc"/><rect y="110.8" height="1.0" fill="#f3f1c5"/><rect y="111.8" height="1.0" fill="#f2f2cc"/><rect y="112.8" height="1.0" fill="#f3f1c7"/><rect y="113.8" height="1.0" fill="#f4f0c0"/><rect y="114.8" height="1.0" fill="#f3f1ca"/><rect y="115.8" height="2.0" fill="#f2f2cf"/><rect y="117.8" height="1.0" fill="#eef1d8"/><rect y="118.8" height="1.0" fill="#f4f0bf"/><rect y="119.8" height="1.0" fill="#f4f0c3"/><rect y="120.8" height="1.0" fill="#f0f1d3"/><rect y="121.8" height="1.0" fill="#f4edb8"/><rect y="122.8" height="1.0" fill="#f4eebb"/><rect y="123.8" height="1.0" fill="#f2f2cc"/><rect y="124.8" height="1.0" fill="#f3f1c9"/><rect y="125.8" height="1.0" fill="#f3f1c4"/></g><g transform="translate(71.70,0)"><rect y="95.8" height="1.0" fill="#f4efbd"/><rect y="96.8" height="1.0" fill="#f4f0c1"/><rect y="97.8" height="1.0" fill="#f3f1c8"/><rect y="98.8" height="1.0" fill="#f2f2cc"/><rect y="99.8" height="1.0" fill="#f1f2d3"/><rect y="100.8" height="1.0" fill="#f4efbe"/><rect y="101.8" height="1.0" fill="#f4f0c3"/><rect y="102.8" height="1.0" fill="#f4f0c2"/><rect y="103.8" height="1.0" fill="#f4eeb9"/><rect y="104.8" height="1.0" fill="#f1f2d1"/><rect y="105.8" height="1.0" fill="#f4efbd"/><rect y="106.8" height="2.0" fill="#f2f2ce"/><rect y="108.8" height="1.0" fill="#f3f1c7"/><rect y="109.8" height="1.0" fill="#f2f2cf"/><rect y="110.8" height="1.0" fill="#f3f1c9"/><rect y="111.8" height="1.0" fill="#f4eebb"/><rect y="112.8" height="1.0" fill="#f3f1c6"/><rect y="113.8" height="1.0" fill="#f4efbe"/><rect y="114.8" height="1.0" fill="#f4efbd"/><rect y="115.8" height="1.0" fill="#f3f1cc"/><rect y="116.8" height="1.0" fill="#f3f1c6"/><rect y="117.8" height="1.0" fill="#f3f1c9"/><rect y="118.8" height="1.0" fill="#f4eebc"/><rect y="119.8" height="1.0" fill="#f3f1c4"/><rect y="120.8" height="1.0" fill="#f3f1c8"/><rect y="121.8" height="1.0" fill="#f3f1c6"/><rect y="122.8" height="1.0" fill="#f3f1c7"/><rect y="123.8" height="1.0" fill="#f4f0c0"/><rect y="124.8" height="1.0" fill="#f4f0c1"/><rect y="125.8" height="1.0" fill="#f4f0c0"/></g><g transform="translate(78.40,0)"><rect y="95.8" height="1.0" fill="#f3f1c8"/><rect y="96.8" height="1.0" fill="#f2f2d1"/><rect y="97.8" height="1.0" fill="#f2f2d0"/><rect y="98.8" height="1.0" fill="#f3f1ca"/><rect y="99.8" height="1.0" fill="#f4f0c2"/><rect y="100.8" height="1.0" fill="#f3f1cc"/><rect y="101.8" height="1.0" fill="#f3f1c8"/><rect y="102.8" height="1.0" fill="#f4edb7"/><rect y="103.8" height="1.0" fill="#f3f1c4"/><rect y="104.8" height="1.0" fill="#f0f1d3"/><rect y="105.8" height="1.0" fill="#eff1d7"/><rect y="106.8" height="1.0" fill="#f1f2d2"/><rect y="107.8" height="1.0" fill="#eff1d6"/><rect y="108.8" height="1.0" fill="#f3f1ca"/><rect y="109.8" height="1.0" fill="#ecf0dc"/><rect y="110.8" height="1.0" fill="#eaefde"/><rect y="111.8" height="1.0" fill="#f1f2d2"/><rect y="112.8" height="1.0" fill="#f2f2cd"/><rect y="113.8" height="1.0" fill="#f3f1cb"/><rect y="114.8" height="1.0" fill="#eaefde"/><rect y="115.8" height="1.0" fill="#f4f0c4"/><rect y="116.8" height="1.0" fill="#eff1d7"/><rect y="117.8" height="1.0" fill="#f4f0c1"/><rect y="118.8" height="1.0" fill="#f0f1d3"/><rect y="119.8" height="1.0" fill="#f2f2cf"/><rect y="120.8" height="1.0" fill="#eaefde"/><rect y="121.8" height="1.0" fill="#f3f1c4"/><rect y="122.8" height="1.0" fill="#f3f1ca"/><rect y="123.8" height="1.0" fill="#f0f1d5"/><rect y="124.8" height="1.0" fill="#f2f2cf"/><rect y="125.8" height="1.0" fill="#eff1d7"/></g><g transform="translate(85.10,0)"><rect y="95.8" height="1.0" fill="#eff1d7"/><rect y="96.8" height="1.0" fill="#f3f1cc"/><rect y="97.8" height="1.0" fill="#f2f2ce"/><rect y="98.8" height="1.0" fill="#f3f1c7"/><rect y="99.8" height="1.0" fill="#f2f2d0"/><rect y="100.8" height="1.0" fill="#f4f0c4"/><rect y="101.8" height="1.0" fill="#f4f0c1"/><rect y="102.8" height="1.0" fill="#f3f1ca"/><rect y="103.8" height="1.0" fill="#f3f1c8"/><rect y="104.8" height="1.0" fill="#f2f2cf"/><rect y="105.8" height="1.0" fill="#edf0d9"/><rect y="106.8" height="1.0" fill="#f2f2d1"/><rect y="107.8" height="1.0" fill="#f2f2cc"/><rect y="108.8" height="1.0" fill="#f2f2d1"/><rect y="109.8" height="1.0" fill="#f4f0c4"/><rect y="110.8" height="1.0" fill="#f2f2cf"/><rect y="111.8" height="1.0" fill="#ecf0dc"/><rect y="112.8" height="1.0" fill="#f4f0c3"/><rect y="113.8" height="1.0" fill="#eef1d8"/><rect y="114.8" height="1.0" fill="#f3f1c5"/><rect y="115.8" height="1.0" fill="#f3f1c7"/><rect y="116.8" height="1.0" fill="#f0f1d4"/><rect y="117.8" height="1.0" fill="#f3f1ca"/><rect y="118.8" height="1.0" fill="#f2f2cf"/><rect y="119.8" height="1.0" fill="#f0f1d5"/><rect y="120.8" height="1.0" fill="#f3f1c9"/><rect y="121.8" height="1.0" fill="#f0f1d4"/><rect y="122.8" height="1.0" fill="#f2f2d1"/><rect y="123.8" height="1.0" fill="#f3f1c6"/><rect y="124.8" height="1.0" fill="#eef1d8"/><rect y="125.8" height="1.0" fill="#f0f1d3"/></g><g transform="translate(91.80,0)"><rect y="95.8" height="1.0" fill="#f4f0c0"/><rect y="96.8" height="1.0" fill="#f4e9af"/><rect y="97.8" height="1.0" fill="#f4efbd"/><rect y="98.8" height="1.0" fill="#f4ecb4"/><rect y="99.8" height="1.0" fill="#f4edb9"/><rect y="100.8" height="2.0" fill="#f4eeba"/><rect y="102.8" height="1.0" fill="#f4ecb4"/><rect y="103.8" height="1.0" fill="#f4eebb"/><rect y="104.8" height="1.0" fill="#f4e9af"/><rect y="105.8" height="1.0" fill="#f4ebb2"/><rect y="106.8" height="1.0" fill="#f4efbd"/><rect y="107.8" height="1.0" fill="#f4e9b0"/><rect y="108.8" height="1.0" fill="#f4edb7"/><rect y="109.8" height="1.0" fill="#f4edb6"/><rect y="110.8" height="1.0" fill="#f4edb7"/><rect y="111.8" height="1.0" fill="#f4ecb5"/><rect y="112.8" height="1.0" fill="#f4ecb6"/><rect y="113.8" height="1.0" fill="#f4edb8"/><rect y="114.8" height="1.0" fill="#f4ecb5"/><rect y="115.8" height="1.0" fill="#f4e8ae"/><rect y="116.8" height="1.0" fill="#f4eebb"/><rect y="117.8" height="1.0" fill="#f4edb8"/><rect y="118.8" height="1.0" fill="#f4eab1"/><rect y="119.8" height="1.0" fill="#f2f2ce"/><rect y="120.8" height="1.0" fill="#f4efbd"/><rect y="121.8" height="1.0" fill="#f4edb7"/><rect y="122.8" height="1.0" fill="#f4edb8"/><rect y="123.8" height="1.0" fill="#f4f0bf"/><rect y="124.8" height="1.0" fill="#f4eeba"/><rect y="125.8" height="1.0" fill="#f4edb9"/></g><g transform="translate(98.50,0)"><rect y="95.8" height="1.0" fill="#f1f2d2"/><rect y="96.8" height="1.0" fill="#e4ece5"/><rect y="97.8" height="1.0" fill="#f2f2d1"/><rect y="98.8" height="1.0" fill="#eff1d5"/><rect y="99.8" height="1.0" fill="#ebefdd"/><rect y="100.8" height="1.0" fill="#e8eee1"/><rect y="101.8" height="1.0" fill="#eff1d6"/><rect y="102.8" height="1.0" fill="#f1f2d2"/><rect y="103.8" height="1.0" fill="#edf0da"/><rect y="104.8" height="1.0" fill="#e9eee0"/><rect y="105.8" height="1.0" fill="#edf0da"/><rect y="106.8" height="1.0" fill="#ebf0dd"/><rect y="107.8" height="1.0" fill="#eaefde"/><rect y="108.8" height="1.0" fill="#e4ece6"/><rect y="109.8" height="1.0" fill="#f2f2ce"/><rect y="110.8" height="1.0" fill="#eaefde"/><rect y="111.8" height="1.0" fill="#eef1d9"/><rect y="112.8" height="1.0" fill="#eef1d8"/><rect y="113.8" height="2.0" fill="#ebf0dd"/><rect y="115.8" height="1.0" fill="#e5ede4"/><rect y="116.8" height="1.0" fill="#d4e2eb"/><rect y="117.8" height="1.0" fill="#edf0db"/><rect y="118.8" height="1.0" fill="#eef1d8"/><rect y="119.8" height="1.0" fill="#e9efdf"/><rect y="120.8" height="1.0" fill="#f2f2cd"/><rect y="121.8" height="1.0" fill="#ecf0dc"/><rect y="122.8" height="1.0" fill="#eef1d9"/><rect y="123.8" height="1.0" fill="#f3f1c9"/><rect y="124.8" height="1.0" fill="#e7eee2"/><rect y="125.8" height="1.0" fill="#edf0d9"/></g><g transform="translate(105.20,0)"><rect y="95.8" height="1.0" fill="#f4e5aa"/><rect y="96.8" height="1.0" fill="#f4e7ac"/><rect y="97.8" height="1.0" fill="#f4eab1"/><rect y="98.8" height="1.0" fill="#f4eeba"/><rect y="99.8" height="1.0" fill="#f4eab1"/><rect y="100.8" height="1.0" fill="#f4e6ab"/><rect y="101.8" height="1.0" fill="#f4ecb4"/><rect y="102.8" height="1.0" fill="#f3f1c5"/><rect y="103.8" height="1.0" fill="#f0f1d4"/><rect y="104.8" height="1.0" fill="#f4ecb4"/><rect y="105.8" height="1.0" fill="#f4e5a9"/><rect y="106.8" height="1.0" fill="#f4e9af"/><rect y="107.8" height="1.0" fill="#f4eab0"/><rect y="108.8" height="1.0" fill="#f4e8ae"/><rect y="109.8" height="1.0" fill="#f4ebb2"/><rect y="110.8" height="1.0" fill="#f4edb7"/><rect y="111.8" height="1.0" fill="#f4e7ad"/><rect y="112.8" height="1.0" fill="#f4e3a7"/><rect y="113.8" height="1.0" fill="#f4ecb5"/><rect y="114.8" height="1.0" fill="#f4e8ad"/><rect y="115.8" height="1.0" fill="#f4ebb2"/><rect y="116.8" height="1.0" fill="#f4e3a6"/><rect y="117.8" height="1.0" fill="#f4eab0"/><rect y="118.8" height="2.0" fill="#f4ebb2"/><rect y="120.8" height="1.0" fill="#f4ebb3"/><rect y="121.8" height="1.0" fill="#f1f2d3"/><rect y="122.8" height="1.0" fill="#f4e9b0"/><rect y="123.8" height="1.0" fill="#f4ebb1"/><rect y="124.8" height="1.0" fill="#f3f1cc"/><rect y="125.8" height="1.0" fill="#f4eab1"/></g><g transform="translate(111.90,0)"><rect y="95.8" height="1.0" fill="#f3f1c5"/><rect y="96.8" height="2.0" fill="#f3f1c7"/><rect y="98.8" height="1.0" fill="#f3f1c4"/><rect y="99.8" height="1.0" fill="#f4eebb"/><rect y="100.8" height="1.0" fill="#f3f1c8"/><rect y="101.8" height="1.0" fill="#f4f0c0"/><rect y="102.8" height="1.0" fill="#f4f0bf"/><rect y="103.8" height="1.0" fill="#eef1d8"/><rect y="104.8" height="1.0" fill="#f3f1c6"/><rect y="105.8" height="1.0" fill="#f4f0c4"/><rect y="106.8" height="1.0" fill="#f3f1c5"/><rect y="107.8" height="1.0" fill="#f2f2ce"/><rect y="108.8" height="1.0" fill="#f3f1c9"/><rect y="109.8" height="1.0" fill="#f3f1c8"/><rect y="110.8" height="1.0" fill="#f2f2cf"/><rect y="111.8" height="1.0" fill="#f3f1ca"/><rect y="112.8" height="1.0" fill="#f2f2cd"/><rect y="113.8" height="1.0" fill="#f1f2d3"/><rect y="114.8" height="2.0" fill="#f3f1c6"/><rect y="116.8" height="1.0" fill="#f2f2d0"/><rect y="117.8" height="1.0" fill="#f4efbe"/><rect y="118.8" height="1.0" fill="#f4f0c1"/><rect y="119.8" height="1.0" fill="#f3f1c4"/><rect y="120.8" height="1.0" fill="#f4edb8"/><rect y="121.8" height="1.0" fill="#f3f1c6"/><rect y="122.8" height="1.0" fill="#f4f0c0"/><rect y="123.8" height="1.0" fill="#f3f1cb"/><rect y="124.8" height="1.0" fill="#f3f1c8"/><rect y="125.8" height="1.0" fill="#f4efbc"/></g><g transform="translate(118.60,0)"><rect y="95.8" height="1.0" fill="#f4edb7"/><rect y="96.8" height="1.0" fill="#f3f1c7"/><rect y="97.8" height="1.0" fill="#f4e8ae"/><rect y="98.8" height="1.0" fill="#f4edb7"/><rect y="99.8" height="1.0" fill="#f4e9af"/><rect y="100.8" height="1.0" fill="#f4edb7"/><rect y="101.8" height="1.0" fill="#f4edb9"/><rect y="102.8" height="1.0" fill="#f4eab0"/><rect y="103.8" height="1.0" fill="#f4e9af"/><rect y="104.8" height="1.0" fill="#f4efbd"/><rect y="105.8" height="1.0" fill="#f4efbc"/><rect y="106.8" height="1.0" fill="#f4e5a9"/><rect y="107.8" height="1.0" fill="#f3f1c5"/><rect y="108.8" height="1.0" fill="#f4eab0"/><rect y="109.8" height="1.0" fill="#f4eeba"/><rect y="110.8" height="1.0" fill="#f4e9af"/><rect y="111.8" height="1.0" fill="#f3f1cb"/><rect y="112.8" height="1.0" fill="#f2f2cf"/><rect y="113.8" height="1.0" fill="#f4ebb3"/><rect y="114.8" height="1.0" fill="#f4edb9"/><rect y="115.8" height="1.0" fill="#f4eeb9"/><rect y="116.8" height="1.0" fill="#f4eeba"/><rect y="117.8" height="1.0" fill="#f4e1a5"/><rect y="118.8" height="1.0" fill="#f4eeba"/><rect y="119.8" height="1.0" fill="#f4edb7"/><rect y="120.8" height="1.0" fill="#f4edb9"/><rect y="121.8" height="1.0" fill="#f4edb7"/><rect y="122.8" height="1.0" fill="#f4e7ad"/><rect y="123.8" height="1.0" fill="#f4f0c0"/><rect y="124.8" height="2.0" fill="#f4f0bf"/></g><g transform="translate(125.30,0)"><rect y="95.8" height="1.0" fill="#f4e9b0"/><rect y="96.8" height="1.0" fill="#f4efbd"/><rect y="97.8" height="1.0" fill="#f4e9af"/><rect y="98.8" height="1.0" fill="#f4eeb9"/><rect y="99.8" height="1.0" fill="#f4ebb2"/><rect y="100.8" height="1.0" fill="#f4edb8"/><rect y="101.8" height="1.0" fill="#f4ecb4"/><rect y="102.8" height="1.0" fill="#f4edb7"/><rect y="103.8" height="2.0" fill="#f4efbd"/><rect y="105.8" height="1.0" fill="#f4ecb5"/><rect y="106.8" height="1.0" fill="#f4ecb6"/><rect y="107.8" height="1.0" fill="#f4edb8"/><rect y="108.8" height="1.0" fill="#f4efbe"/><rect y="109.8" height="1.0" fill="#f4f0c0"/><rect y="110.8" height="1.0" fill="#f4eeba"/><rect y="111.8" height="1.0" fill="#f4e7ad"/><rect y="112.8" height="1.0" fill="#f4f0c0"/><rect y="113.8" height="1.0" fill="#f4edb7"/><rect y="114.8" height="1.0" fill="#f4eab1"/><rect y="115.8" height="1.0" fill="#f4e6ab"/><rect y="116.8" height="2.0" fill="#f4edb8"/><rect y="118.8" height="1.0" fill="#f4ebb3"/><rect y="119.8" height="1.0" fill="#f4ecb3"/><rect y="120.8" height="1.0" fill="#f4ecb4"/><rect y="121.8" height="2.0" fill="#f4f0bf"/><rect y="123.8" height="1.0" fill="#f4ecb5"/><rect y="124.8" height="1.0" fill="#f4f0bf"/><rect y="125.8" height="1.0" fill="#f4eab0"/></g><g transform="translate(132.00,0)"><rect y="95.8" height="1.0" fill="#f2cf8f"/><rect y="96.8" height="1.0" fill="#f3d191"/><rect y="97.8" height="1.0" fill="#f2ce8e"/><rect y="98.8" height="1.0" fill="#f3d292"/><rect y="99.8" height="1.0" fill="#f2cc8c"/><rect y="100.8" height="1.0" fill="#f3d596"/><rect y="101.8" height="1.0" fill="#f2cb8b"/><rect y="102.8" height="1.0" fill="#f3d192"/><rect y="103.8" height="1.0" fill="#f3d697"/><rect y="104.8" height="1.0" fill="#f1c787"/><rect y="105.8" height="1.0" fill="#f4da9b"/><rect y="106.8" height="1.0" fill="#f2cf90"/><rect y="107.8" height="1.0" fill="#f3d192"/><rect y="108.8" height="1.0" fill="#f2d090"/><rect y="109.8" height="1.0" fill="#f4dc9e"/><rect y="110.8" height="1.0" fill="#f3d191"/><rect y="111.8" height="1.0" fill="#f2d090"/><rect y="112.8" height="1.0" fill="#f3d495"/><rect y="113.8" height="1.0" fill="#f2cd8d"/><rect y="114.8" height="1.0" fill="#f2cb8b"/><rect y="115.8" height="1.0" fill="#f2cc8c"/><rect y="116.8" height="1.0" fill="#f4dea0"/><rect y="117.8" height="1.0" fill="#f2cf90"/><rect y="118.8" height="1.0" fill="#f2cd8d"/><rect y="119.8" height="1.0" fill="#f2cf8f"/><rect y="120.8" height="1.0" fill="#f2d091"/><rect y="121.8" height="1.0" fill="#f2cb8b"/><rect y="122.8" height="1.0" fill="#f3d596"/><rect y="123.8" height="1.0" fill="#f2d091"/><rect y="124.8" height="1.0" fill="#f2cb8b"/><rect y="125.8" height="1.0" fill="#f3d394"/></g><g transform="translate(138.70,0)"><rect y="95.8" height="1.0" fill="#f4e0a2"/><rect y="96.8" height="1.0" fill="#f4e3a7"/><rect y="97.8" height="1.0" fill="#f4e1a4"/><rect y="98.8" height="1.0" fill="#f4e2a5"/><rect y="99.8" height="1.0" fill="#f4e4a8"/><rect y="100.8" height="1.0" fill="#f4e7ac"/><rect y="101.8" height="1.0" fill="#f4e2a5"/><rect y="102.8" height="1.0" fill="#f4e3a6"/><rect y="103.8" height="1.0" fill="#f4e6ab"/><rect y="104.8" height="1.0" fill="#f4e9af"/><rect y="105.8" height="1.0" fill="#f4eab0"/><rect y="106.8" height="1.0" fill="#f4eab1"/><rect y="107.8" height="2.0" fill="#f4e5aa"/><rect y="109.8" height="1.0" fill="#f4e6ab"/><rect y="110.8" height="1.0" fill="#f4e6ac"/><rect y="111.8" height="1.0" fill="#f2ce8e"/><rect y="112.8" height="1.0" fill="#f4e7ac"/><rect y="113.8" height="1.0" fill="#f4e5a9"/><rect y="114.8" height="1.0" fill="#f4e5aa"/><rect y="115.8" height="1.0" fill="#f4ecb4"/><rect y="116.8" height="1.0" fill="#f4e2a5"/><rect y="117.8" height="1.0" fill="#f4e3a6"/><rect y="118.8" height="1.0" fill="#f4e8ad"/><rect y="119.8" height="2.0" fill="#f4e4a8"/><rect y="121.8" height="1.0" fill="#f4e6ab"/><rect y="122.8" height="1.0" fill="#f4e4a9"/><rect y="123.8" height="1.0" fill="#f4e5a9"/><rect y="124.8" height="1.0" fill="#f4ebb2"/><rect y="125.8" height="1.0" fill="#f4e3a7"/></g><g transform="translate(145.40,0)"><rect y="95.8" height="1.0" fill="#efbb7b"/><rect y="96.8" height="1.0" fill="#f0c484"/><rect y="97.8" height="3.0" fill="#f0c383"/><rect y="100.8" height="2.0" fill="#f0c282"/><rect y="102.8" height="1.0" fill="#f2ca8a"/><rect y="103.8" height="1.0" fill="#f0c080"/><rect y="104.8" height="1.0" fill="#f0c282"/><rect y="105.8" height="1.0" fill="#efbf7f"/><rect y="106.8" height="1.0" fill="#efbd7d"/><rect y="107.8" height="1.0" fill="#efbc7c"/><rect y="108.8" height="1.0" fill="#efbe7e"/><rect y="109.8" height="1.0" fill="#f0c080"/><rect y="110.8" height="1.0" fill="#f1c888"/><rect y="111.8" height="1.0" fill="#f0c080"/><rect y="112.8" height="1.0" fill="#eeb878"/><rect y="113.8" height="1.0" fill="#f2ce8f"/><rect y="114.8" height="1.0" fill="#f0c484"/><rect y="115.8" height="1.0" fill="#f0c181"/><rect y="116.8" height="1.0" fill="#efbd7d"/><rect y="117.8" height="1.0" fill="#f0c181"/><rect y="118.8" height="1.0" fill="#efbd7d"/><rect y="119.8" height="1.0" fill="#f1c787"/><rect y="120.8" height="1.0" fill="#efbf7f"/><rect y="121.8" height="1.0" fill="#f2cb8b"/><rect y="122.8" height="1.0" fill="#f0c282"/><rect y="123.8" height="1.0" fill="#eeb878"/><rect y="124.8" height="1.0" fill="#edb575"/><rect y="125.8" height="1.0" fill="#f2cc8c"/></g><g transform="translate(152.10,0)"><rect y="95.8" height="1.0" fill="#f4efbc"/><rect y="96.8" height="1.0" fill="#f3f1c8"/><rect y="97.8" height="1.0" fill="#f4f0c3"/><rect y="98.8" height="1.0" fill="#f4efbe"/><rect y="99.8" height="1.0" fill="#f4f0c4"/><rect y="100.8" height="1.0" fill="#f3f1c5"/><rect y="101.8" height="1.0" fill="#f2f2cd"/><rect y="102.8" height="1.0" fill="#f4e9b0"/><rect y="103.8" height="1.0" fill="#f4f0c1"/><rect y="104.8" height="1.0" fill="#f0f1d4"/><rect y="105.8" height="1.0" fill="#f3f1cb"/><rect y="106.8" height="1.0" fill="#f4ecb4"/><rect y="107.8" height="1.0" fill="#f4eebb"/><rect y="108.8" height="1.0" fill="#f3f1c4"/><rect y="109.8" height="1.0" fill="#f4f0c3"/><rect y="110.8" height="2.0" fill="#f3f1c9"/><rect y="112.8" height="1.0" fill="#f4f0c2"/><rect y="113.8" height="1.0" fill="#f4f0c0"/><rect y="114.8" height="1.0" fill="#f3f1c5"/><rect y="115.8" height="1.0" fill="#f3f1ca"/><rect y="116.8" height="1.0" fill="#f3f1c9"/><rect y="117.8" height="1.0" fill="#f3f1c7"/><rect y="118.8" height="1.0" fill="#f4eebc"/><rect y="119.8" height="1.0" fill="#f3f1c8"/><rect y="120.8" height="1.0" fill="#f4edb8"/><rect y="121.8" height="1.0" fill="#f4f0c1"/><rect y="122.8" height="1.0" fill="#f3f1c9"/><rect y="123.8" height="1.0" fill="#f3f1c5"/><rect y="124.8" height="1.0" fill="#f4eebb"/><rect y="125.8" height="1.0" fill="#f2f2cd"/></g><g transform="translate(158.80,0)"><rect y="95.8" height="1.0" fill="#e8eee0"/><rect y="96.8" height="1.0" fill="#ebefde"/><rect y="97.8" height="1.0" fill="#eaefde"/><rect y="98.8" height="1.0" fill="#dae6eb"/><rect y="99.8" height="1.0" fill="#e6ede3"/><rect y="100.8" height="1.0" fill="#ebf0dd"/><rect y="101.8" height="1.0" fill="#ecf0dc"/><rect y="102.8" height="1.0" fill="#eff1d7"/><rect y="103.8" height="1.0" fill="#eef1d9"/><rect y="104.8" height="1.0" fill="#f2f2d1"/><rect y="105.8" height="1.0" fill="#d5e3eb"/><rect y="106.8" height="1.0" fill="#eef1d8"/><rect y="107.8" height="1.0" fill="#ecf0dc"/><rect y="108.8" height="1.0" fill="#eaefde"/><rect y="109.8" height="1.0" fill="#f0f1d5"/><rect y="110.8" height="1.0" fill="#eef1d9"/><rect y="111.8" height="1.0" fill="#edf0db"/><rect y="112.8" height="2.0" fill="#e8eee1"/><rect y="114.8" height="1.0" fill="#ecf0dd"/><rect y="115.8" height="1.0" fill="#e8eee0"/><rect y="116.8" height="1.0" fill="#f1f2d3"/><rect y="117.8" height="1.0" fill="#eaefdf"/><rect y="118.8" height="1.0" fill="#ebefde"/><rect y="119.8" height="1.0" fill="#e8eee0"/><rect y="120.8" height="1.0" fill="#eef1d8"/><rect y="121.8" height="1.0" fill="#e5ede4"/><rect y="122.8" height="1.0" fill="#eef1d8"/><rect y="123.8" height="1.0" fill="#f2f2d1"/><rect y="124.8" height="1.0" fill="#ecf0dc"/><rect y="125.8" height="1.0" fill="#eef1d9"/></g><g transform="translate(165.50,0)"><rect y="95.8" height="1.0" fill="#f4edb9"/><rect y="96.8" height="1.0" fill="#f4edb8"/><rect y="97.8" height="1.0" fill="#f4efbe"/><rect y="98.8" height="1.0" fill="#f4f0bf"/><rect y="99.8" height="1.0" fill="#eef1d8"/><rect y="100.8" height="1.0" fill="#f4efbd"/><rect y="101.8" height="1.0" fill="#f4f0c1"/><rect y="102.8" height="1.0" fill="#f4f0c3"/><rect y="103.8" height="1.0" fill="#f4eeba"/><rect y="104.8" height="1.0" fill="#f4edb6"/><rect y="105.8" height="1.0" fill="#f4edb9"/><rect y="106.8" height="1.0" fill="#f4edb8"/><rect y="107.8" height="1.0" fill="#f4efbf"/><rect y="108.8" height="1.0" fill="#f3f1cc"/><rect y="109.8" height="1.0" fill="#f4f0bf"/><rect y="110.8" height="1.0" fill="#f4ebb2"/><rect y="111.8" height="2.0" fill="#f4eeba"/><rect y="113.8" height="1.0" fill="#f4eab0"/><rect y="114.8" height="1.0" fill="#f4f0c1"/><rect y="115.8" height="1.0" fill="#f4ecb6"/><rect y="116.8" height="1.0" fill="#f4edb6"/><rect y="117.8" height="1.0" fill="#f4efbd"/><rect y="118.8" height="1.0" fill="#f4f0c3"/><rect y="119.8" height="1.0" fill="#f4ecb6"/><rect y="120.8" height="1.0" fill="#f4edb9"/><rect y="121.8" height="1.0" fill="#f4efbd"/><rect y="122.8" height="1.0" fill="#f4f0bf"/><rect y="123.8" height="1.0" fill="#f4efbe"/><rect y="124.8" height="1.0" fill="#f3f1c6"/><rect y="125.8" height="1.0" fill="#f4e9af"/></g><g transform="translate(172.20,0)"><rect y="95.8" height="1.0" fill="#f2f2cc"/><rect y="96.8" height="1.0" fill="#f2f2cf"/><rect y="97.8" height="1.0" fill="#f1f2d1"/><rect y="98.8" height="1.0" fill="#f3f1c6"/><rect y="99.8" height="1.0" fill="#f3f1c7"/><rect y="100.8" height="1.0" fill="#f3f1c9"/><rect y="101.8" height="1.0" fill="#f3f1cb"/><rect y="102.8" height="1.0" fill="#f3f1c9"/><rect y="103.8" height="1.0" fill="#e5ede4"/><rect y="104.8" height="1.0" fill="#f3f1c7"/><rect y="105.8" height="1.0" fill="#f3f1cb"/><rect y="106.8" height="1.0" fill="#f3f1ca"/><rect y="107.8" height="1.0" fill="#f4f0c2"/><rect y="108.8" height="1.0" fill="#f3f1c7"/><rect y="109.8" height="1.0" fill="#f3f1cc"/><rect y="110.8" height="1.0" fill="#f3f1c8"/><rect y="111.8" height="1.0" fill="#f3f1c6"/><rect y="112.8" height="1.0" fill="#f3f1c7"/><rect y="113.8" height="1.0" fill="#f2f2cc"/><rect y="114.8" height="1.0" fill="#f4f0c1"/><rect y="115.8" height="1.0" fill="#f2f2d0"/><rect y="116.8" height="1.0" fill="#f4f0c3"/><rect y="117.8" height="1.0" fill="#f2f2d1"/><rect y="118.8" height="1.0" fill="#f4f0c0"/><rect y="119.8" height="1.0" fill="#f4eab1"/><rect y="120.8" height="1.0" fill="#f3f1cc"/><rect y="121.8" height="1.0" fill="#eef1d8"/><rect y="122.8" height="1.0" fill="#f3f1c7"/><rect y="123.8" height="1.0" fill="#f0f1d3"/><rect y="124.8" height="2.0" fill="#f3f1c5"/></g><g transform="translate(178.90,0)"><rect y="95.8" height="1.0" fill="#ecf0dc"/><rect y="96.8" height="1.0" fill="#f4f0c2"/><rect y="97.8" height="1.0" fill="#f4edb7"/><rect y="98.8" height="1.0" fill="#f3f1c8"/><rect y="99.8" height="1.0" fill="#f4f0c2"/><rect y="100.8" height="1.0" fill="#f4eeba"/><rect y="101.8" height="1.0" fill="#f4eebc"/><rect y="102.8" height="1.0" fill="#f4eab1"/><rect y="103.8" height="1.0" fill="#f4ecb6"/><rect y="104.8" height="1.0" fill="#f3f1c5"/><rect y="105.8" height="1.0" fill="#f4edb7"/><rect y="106.8" height="1.0" fill="#f1f2d1"/><rect y="107.8" height="1.0" fill="#f4efbc"/><rect y="108.8" height="1.0" fill="#f4f0c2"/><rect y="109.8" height="1.0" fill="#f4efbc"/><rect y="110.8" height="1.0" fill="#f4f0c0"/><rect y="111.8" height="1.0" fill="#f4eebb"/><rect y="112.8" height="1.0" fill="#f4f0c3"/><rect y="113.8" height="1.0" fill="#f4eebb"/><rect y="114.8" height="1.0" fill="#f4f0c0"/><rect y="115.8" height="1.0" fill="#f4e3a7"/><rect y="116.8" height="1.0" fill="#f3f1c6"/><rect y="117.8" height="1.0" fill="#f3f1c9"/><rect y="118.8" height="1.0" fill="#f4eebb"/><rect y="119.8" height="1.0" fill="#f4f0bf"/><rect y="120.8" height="1.0" fill="#f4efbc"/><rect y="121.8" height="1.0" fill="#f4efbd"/><rect y="122.8" height="1.0" fill="#f4efbe"/><rect y="123.8" height="1.0" fill="#f4f0c0"/><rect y="124.8" height="1.0" fill="#f4efbe"/><rect y="125.8" height="1.0" fill="#f4f0c0"/></g><g transform="translate(185.60,0)"><rect y="95.8" height="2.0" fill="#f4ecb5"/><rect y="97.8" height="1.0" fill="#f4f0c1"/><rect y="98.8" height="1.0" fill="#f4ecb6"/><rect y="99.8" height="1.0" fill="#f3f1c4"/><rect y="100.8" height="1.0" fill="#f2f2ce"/><rect y="101.8" height="1.0" fill="#f3f1c9"/><rect y="102.8" height="1.0" fill="#f4efbc"/><rect y="103.8" height="1.0" fill="#f4eebb"/><rect y="104.8" height="1.0" fill="#f4eeb9"/><rect y="105.8" height="1.0" fill="#f4ecb4"/><rect y="106.8" height="1.0" fill="#f4ecb6"/><rect y="107.8" height="1.0" fill="#f4f0c2"/><rect y="108.8" height="1.0" fill="#f4efbd"/><rect y="109.8" height="1.0" fill="#f4efbc"/><rect y="110.8" height="1.0" fill="#f4eeb9"/><rect y="111.8" height="1.0" fill="#f4edb7"/><rect y="112.8" height="1.0" fill="#f4ebb3"/><rect y="113.8" height="1.0" fill="#f4ecb5"/><rect y="114.8" height="1.0" fill="#f3f1c6"/><rect y="115.8" height="1.0" fill="#f4eab1"/><rect y="116.8" height="2.0" fill="#f4efbd"/><rect y="118.8" height="1.0" fill="#f4ecb4"/><rect y="119.8" height="1.0" fill="#f4eebc"/><rect y="120.8" height="1.0" fill="#f4eebb"/><rect y="121.8" height="1.0" fill="#f4efbc"/><rect y="122.8" height="1.0" fill="#f3f1c4"/><rect y="123.8" height="2.0" fill="#f4ebb3"/><rect y="125.8" height="1.0" fill="#f4eeba"/></g><g transform="translate(192.30,0)"><rect y="95.8" height="1.0" fill="#f4f0c2"/><rect y="96.8" height="1.0" fill="#f4f0c1"/><rect y="97.8" height="1.0" fill="#f4edb6"/><rect y="98.8" height="1.0" fill="#f3f1c8"/><rect y="99.8" height="1.0" fill="#f4efbf"/><rect y="100.8" height="1.0" fill="#f4eeb9"/><rect y="101.8" height="1.0" fill="#f0f1d5"/><rect y="102.8" height="1.0" fill="#f4eebb"/><rect y="103.8" height="1.0" fill="#f4f0c1"/><rect y="104.8" height="1.0" fill="#f4eeba"/><rect y="105.8" height="1.0" fill="#f4f0bf"/><rect y="106.8" height="2.0" fill="#f4f0c0"/><rect y="108.8" height="1.0" fill="#f3f1c5"/><rect y="109.8" height="1.0" fill="#f4efbc"/><rect y="110.8" height="1.0" fill="#f4edb9"/><rect y="111.8" height="1.0" fill="#f3f1ca"/><rect y="112.8" height="1.0" fill="#f3f1c6"/><rect y="113.8" height="1.0" fill="#f4f0c1"/><rect y="114.8" height="1.0" fill="#f3f1c5"/><rect y="115.8" height="1.0" fill="#f4ebb2"/><rect y="116.8" height="1.0" fill="#f4eebb"/><rect y="117.8" height="1.0" fill="#f4ecb6"/><rect y="118.8" height="1.0" fill="#f4eebb"/><rect y="119.8" height="1.0" fill="#f3f1ca"/><rect y="120.8" height="1.0" fill="#f4efbe"/><rect y="121.8" height="1.0" fill="#f4f0c0"/><rect y="122.8" height="1.0" fill="#f3f1c5"/><rect y="123.8" height="1.0" fill="#f3f1c8"/><rect y="124.8" height="1.0" fill="#f4eebb"/><rect y="125.8" height="1.0" fill="#f4f0bf"/></g><g transform="translate(199.00,0)"><rect y="95.8" height="1.0" fill="#f3f1c8"/><rect y="96.8" height="1.0" fill="#f2f2cf"/><rect y="97.8" height="1.0" fill="#f3f1cb"/><rect y="98.8" height="1.0" fill="#f4f0c3"/><rect y="99.8" height="1.0" fill="#f2f2cc"/><rect y="100.8" height="1.0" fill="#f3f1c8"/><rect y="101.8" height="1.0" fill="#f4f0c2"/><rect y="102.8" height="1.0" fill="#f4f0c1"/><rect y="103.8" height="1.0" fill="#f3f1c6"/><rect y="104.8" height="1.0" fill="#f2f2cf"/><rect y="105.8" height="1.0" fill="#f3f1c5"/><rect y="106.8" height="1.0" fill="#f2f2ce"/><rect y="107.8" height="1.0" fill="#f3f1c8"/><rect y="108.8" height="1.0" fill="#f4efbe"/><rect y="109.8" height="1.0" fill="#f3f1ca"/><rect y="110.8" height="1.0" fill="#eff1d6"/><rect y="111.8" height="1.0" fill="#eff1d7"/><rect y="112.8" height="1.0" fill="#f2f2cd"/><rect y="113.8" height="1.0" fill="#f4f0c2"/><rect y="114.8" height="1.0" fill="#f3f1c7"/><rect y="115.8" height="1.0" fill="#f3f1cc"/><rect y="116.8" height="1.0" fill="#f3f1c8"/><rect y="117.8" height="1.0" fill="#f0f1d4"/><rect y="118.8" height="1.0" fill="#f4f0c2"/><rect y="119.8" height="1.0" fill="#f2f2ce"/><rect y="120.8" height="1.0" fill="#f4f0c0"/><rect y="121.8" height="1.0" fill="#f4e4a8"/><rect y="122.8" height="1.0" fill="#f2f2d0"/><rect y="123.8" height="1.0" fill="#f4ebb1"/><rect y="124.8" height="1.0" fill="#f2f2d1"/><rect y="125.8" height="1.0" fill="#f3f1ca"/></g><g transform="translate(58.30,0)"><rect y="126.8" height="1.0" fill="#f2cf90"/><rect y="127.8" height="1.0" fill="#f3d596"/><rect y="128.8" height="1.0" fill="#f3d99a"/><rect y="129.8" height="1.0" fill="#f1c686"/><rect y="130.8" height="1.0" fill="#f3d697"/><rect y="131.8" height="1.0" fill="#f1c787"/><rect y="132.8" height="1.0" fill="#f2cd8d"/><rect y="133.8" height="1.0" fill="#f2d090"/><rect y="134.8" height="1.0" fill="#f2ce8e"/><rect y="135.8" height="1.0" fill="#f2cd8d"/><rect y="136.8" height="1.0" fill="#f3d192"/><rect y="137.8" height="1.0" fill="#f4da9b"/><rect y="138.8" height="1.0" fill="#f4dd9f"/><rect y="139.8" height="1.0" fill="#f3d596"/><rect y="140.8" height="1.0" fill="#f3d495"/><rect y="141.8" height="1.0" fill="#f2cf8f"/><rect y="142.8" height="1.0" fill="#f3d293"/><rect y="143.8" height="1.0" fill="#f2cf8f"/><rect y="144.8" height="1.0" fill="#f4e8ad"/><rect y="145.8" height="1.0" fill="#f0c282"/><rect y="146.8" height="1.0" fill="#f3d293"/><rect y="147.8" height="1.0" fill="#f3d393"/><rect y="148.8" height="1.0" fill="#f3d799"/><rect y="149.8" height="1.0" fill="#f3d697"/><rect y="150.8" height="1.0" fill="#f2ca8a"/><rect y="151.8" height="1.0" fill="#f3d192"/><rect y="152.8" height="1.0" fill="#f2cf8f"/><rect y="153.8" height="1.0" fill="#efbf7f"/><rect y="154.8" height="0.3" fill="#f2cf8f"/></g><g transform="translate(65.00,0)"><rect y="126.8" height="1.0" fill="#f4eab1"/><rect y="127.8" height="1.0" fill="#f4ecb5"/><rect y="128.8" height="1.0" fill="#f4edb6"/><rect y="129.8" height="1.0" fill="#f4e8ae"/><rect y="130.8" height="1.0" fill="#f4ebb3"/><rect y="131.8" height="1.0" fill="#f4f0c0"/><rect y="132.8" height="1.0" fill="#f4eab1"/><rect y="133.8" height="1.0" fill="#f4f0c0"/><rect y="134.8" height="1.0" fill="#f4e6ac"/><rect y="135.8" height="1.0" fill="#f4edb7"/><rect y="136.8" height="1.0" fill="#f4ecb6"/><rect y="137.8" height="3.0" fill="#f4ecb5"/><rect y="140.8" height="1.0" fill="#f4ecb4"/><rect y="141.8" height="1.0" fill="#f4edb8"/><rect y="142.8" height="1.0" fill="#f4eebb"/><rect y="143.8" height="1.0" fill="#f4e2a6"/><rect y="144.8" height="1.0" fill="#f4edb8"/><rect y="145.8" height="1.0" fill="#f4edb7"/><rect y="146.8" height="1.0" fill="#f4e9af"/><rect y="147.8" height="1.0" fill="#f4ebb2"/><rect y="148.8" height="1.0" fill="#f4f0bf"/><rect y="149.8" height="1.0" fill="#f4edb6"/><rect y="150.8" height="1.0" fill="#f4eeb9"/><rect y="151.8" height="2.0" fill="#f4edb7"/><rect y="153.8" height="1.0" fill="#f4edb6"/><rect y="154.8" height="0.3" fill="#f4e3a7"/></g><g transform="translate(71.70,0)"><rect y="126.8" height="1.0" fill="#f4e1a4"/><rect y="127.8" height="1.0" fill="#f4e4a8"/><rect y="128.8" height="1.0" fill="#f4dc9e"/><rect y="129.8" height="1.0" fill="#f4e4a9"/><rect y="130.8" height="1.0" fill="#f4da9b"/><rect y="131.8" height="1.0" fill="#f4dd9f"/><rect y="132.8" height="1.0" fill="#f4da9b"/><rect y="133.8" height="1.0" fill="#f4db9c"/><rect y="134.8" height="1.0" fill="#f4e2a5"/><rect y="135.8" height="1.0" fill="#f3d99a"/><rect y="136.8" height="1.0" fill="#f4e8ae"/><rect y="137.8" height="1.0" fill="#f4e1a4"/><rect y="138.8" height="1.0" fill="#f4e2a5"/><rect y="139.8" height="1.0" fill="#f4dd9f"/><rect y="140.8" height="1.0" fill="#f4dc9e"/><rect y="141.8" height="1.0" fill="#f4e1a5"/><rect y="142.8" height="1.0" fill="#f4e1a4"/><rect y="143.8" height="1.0" fill="#f4e6ab"/><rect y="144.8" height="1.0" fill="#f4dc9e"/><rect y="145.8" height="1.0" fill="#f4e3a7"/><rect y="146.8" height="1.0" fill="#f4dd9f"/><rect y="147.8" height="1.0" fill="#f4dc9d"/><rect y="148.8" height="1.0" fill="#f4e8ae"/><rect y="149.8" height="1.0" fill="#f4e3a7"/><rect y="150.8" height="1.0" fill="#f4e4a8"/><rect y="151.8" height="1.0" fill="#f3d495"/><rect y="152.8" height="1.0" fill="#f3d99b"/><rect y="153.8" height="1.0" fill="#f4dd9f"/><rect y="154.8" height="0.3" fill="#f4e8ae"/></g><g transform="translate(78.40,0)"><rect y="126.8" height="1.0" fill="#f4e8ae"/><rect y="127.8" height="1.0" fill="#f4e0a2"/><rect y="128.8" height="1.0" fill="#f4e8ae"/><rect y="129.8" height="1.0" fill="#f4e3a6"/><rect y="130.8" height="1.0" fill="#f4e9af"/><rect y="131.8" height="1.0" fill="#f4dea0"/><rect y="132.8" height="1.0" fill="#f4da9b"/><rect y="133.8" height="1.0" fill="#f4e2a6"/><rect y="134.8" height="1.0" fill="#f4e0a2"/><rect y="135.8" height="1.0" fill="#f4dfa2"/><rect y="136.8" height="1.0" fill="#f4e3a7"/><rect y="137.8" height="1.0" fill="#f4e7ad"/><rect y="138.8" height="1.0" fill="#f4dfa1"/><rect y="139.8" height="1.0" fill="#f4e7ac"/><rect y="140.8" height="1.0" fill="#f4e0a3"/><rect y="141.8" height="1.0" fill="#f4e7ad"/><rect y="142.8" height="1.0" fill="#f4dfa1"/><rect y="143.8" height="1.0" fill="#f4e2a5"/><rect y="144.8" height="1.0" fill="#f4e0a2"/><rect y="145.8" height="1.0" fill="#f4e7ac"/><rect y="146.8" height="1.0" fill="#f4da9b"/><rect y="147.8" height="1.0" fill="#f4ecb4"/><rect y="148.8" height="1.0" fill="#f4e1a4"/><rect y="149.8" height="1.0" fill="#f4edb7"/><rect y="150.8" height="1.0" fill="#f4e3a7"/><rect y="151.8" height="1.0" fill="#f4dfa2"/><rect y="152.8" height="1.0" fill="#f4e1a4"/><rect y="153.8" height="1.0" fill="#f4e6ac"/><rect y="154.8" height="0.3" fill="#f4e3a7"/></g><g transform="translate(85.10,0)"><rect y="126.8" height="1.0" fill="#f4dea0"/><rect y="127.8" height="1.0" fill="#f3d99b"/><rect y="128.8" height="1.0" fill="#f4dc9e"/><rect y="129.8" height="1.0" fill="#f4e2a6"/><rect y="130.8" height="1.0" fill="#f4da9c"/><rect y="131.8" height="1.0" fill="#f4e4a8"/><rect y="132.8" height="1.0" fill="#f4dea0"/><rect y="133.8" height="1.0" fill="#f3d595"/><rect y="134.8" height="1.0" fill="#f4e0a3"/><rect y="135.8" height="1.0" fill="#f4dfa1"/><rect y="136.8" height="1.0" fill="#f4e3a6"/><rect y="137.8" height="1.0" fill="#f4e7ac"/><rect y="138.8" height="1.0" fill="#f4dc9e"/><rect y="139.8" height="1.0" fill="#f4dfa1"/><rect y="140.8" height="1.0" fill="#f4e1a4"/><rect y="141.8" height="2.0" fill="#f4dfa2"/><rect y="143.8" height="1.0" fill="#f4db9d"/><rect y="144.8" height="1.0" fill="#f4dfa2"/><rect y="145.8" height="1.0" fill="#f4e2a5"/><rect y="146.8" height="1.0" fill="#f4e3a7"/><rect y="147.8" height="1.0" fill="#f4e6ab"/><rect y="148.8" height="1.0" fill="#f4e4a8"/><rect y="149.8" height="1.0" fill="#f4e2a5"/><rect y="150.8" height="1.0" fill="#f4dfa1"/><rect y="151.8" height="1.0" fill="#f4e3a7"/><rect y="152.8" height="1.0" fill="#f4e7ad"/><rect y="153.8" height="1.0" fill="#f4e5a9"/><rect y="154.8" height="0.3" fill="#f4e2a5"/></g><g transform="translate(91.80,0)"><rect y="126.8" height="1.0" fill="#f4efbd"/><rect y="127.8" height="1.0" fill="#f3f1cb"/><rect y="128.8" height="1.0" fill="#f3f1c7"/><rect y="129.8" height="1.0" fill="#f4edb7"/><rect y="130.8" height="1.0" fill="#f1f2d1"/><rect y="131.8" height="1.0" fill="#f2f2cd"/><rect y="132.8" height="1.0" fill="#f2f2ce"/><rect y="133.8" height="1.0" fill="#f0f1d5"/><rect y="134.8" height="1.0" fill="#f4f0bf"/><rect y="135.8" height="1.0" fill="#f3f1c9"/><rect y="136.8" height="1.0" fill="#f3f1c7"/><rect y="137.8" height="1.0" fill="#f3f1c6"/><rect y="138.8" height="1.0" fill="#f4f0c4"/><rect y="139.8" height="1.0" fill="#e7ede2"/><rect y="140.8" height="1.0" fill="#f3f1c6"/><rect y="141.8" height="1.0" fill="#f3f1ca"/><rect y="142.8" height="1.0" fill="#f3f1cb"/><rect y="143.8" height="1.0" fill="#f3f1c9"/><rect y="144.8" height="1.0" fill="#eef1d9"/><rect y="145.8" height="1.0" fill="#f2f2cd"/><rect y="146.8" height="1.0" fill="#f3f1ca"/><rect y="147.8" height="1.0" fill="#f4edb8"/><rect y="148.8" height="1.0" fill="#eff1d6"/><rect y="149.8" height="1.0" fill="#f3f1cb"/><rect y="150.8" height="1.0" fill="#f4f0bf"/><rect y="151.8" height="1.0" fill="#f4f0c0"/><rect y="152.8" height="1.0" fill="#f3f1c5"/><rect y="153.8" height="1.0" fill="#eff1d5"/><rect y="154.8" height="0.3" fill="#f3f1c7"/></g><g transform="translate(98.50,0)"><rect y="126.8" height="1.0" fill="#ebefde"/><rect y="127.8" height="1.0" fill="#e8eee0"/><rect y="128.8" height="1.0" fill="#e5ede4"/><rect y="129.8" height="1.0" fill="#e7ede2"/><rect y="130.8" height="1.0" fill="#e9eee0"/><rect y="131.8" height="1.0" fill="#e2ebe8"/><rect y="132.8" height="1.0" fill="#eaefde"/><rect y="133.8" height="1.0" fill="#e9efdf"/><rect y="134.8" height="1.0" fill="#eaefde"/><rect y="135.8" height="1.0" fill="#edf0db"/><rect y="136.8" height="1.0" fill="#e9eee0"/><rect y="137.8" height="1.0" fill="#edf0d9"/><rect y="138.8" height="1.0" fill="#e7eee2"/><rect y="139.8" height="1.0" fill="#e4ece6"/><rect y="140.8" height="1.0" fill="#e6ede3"/><rect y="141.8" height="1.0" fill="#e8eee0"/><rect y="142.8" height="1.0" fill="#f3f1c9"/><rect y="143.8" height="1.0" fill="#e6ede3"/><rect y="144.8" height="1.0" fill="#eaefdf"/><rect y="145.8" height="1.0" fill="#eaefde"/><rect y="146.8" height="1.0" fill="#ebefde"/><rect y="147.8" height="1.0" fill="#e8eee1"/><rect y="148.8" height="1.0" fill="#ebf0dd"/><rect y="149.8" height="1.0" fill="#eef1d7"/><rect y="150.8" height="1.0" fill="#e7ede2"/><rect y="151.8" height="1.0" fill="#f2f2d0"/><rect y="152.8" height="1.0" fill="#ecf0dc"/><rect y="153.8" height="1.0" fill="#ecf0db"/><rect y="154.8" height="0.3" fill="#e7eee1"/></g><g transform="translate(105.20,0)"><rect y="126.8" height="1.0" fill="#e6ede3"/><rect y="127.8" height="1.0" fill="#f2f2ce"/><rect y="128.8" height="1.0" fill="#f3f1cb"/><rect y="129.8" height="1.0" fill="#f0f1d4"/><rect y="130.8" height="1.0" fill="#f3f1c5"/><rect y="131.8" height="1.0" fill="#f2f2d1"/><rect y="132.8" height="2.0" fill="#f1f2d2"/><rect y="134.8" height="1.0" fill="#f3f1cb"/><rect y="135.8" height="1.0" fill="#f2f2ce"/><rect y="136.8" height="1.0" fill="#f3f1ca"/><rect y="137.8" height="1.0" fill="#f2f2cd"/><rect y="138.8" height="1.0" fill="#f3f1c9"/><rect y="139.8" height="1.0" fill="#f2f2d1"/><rect y="140.8" height="1.0" fill="#f3f1c5"/><rect y="141.8" height="1.0" fill="#ebf0dd"/><rect y="142.8" height="1.0" fill="#f0f1d4"/><rect y="143.8" height="1.0" fill="#f3f1ca"/><rect y="144.8" height="1.0" fill="#ecf0dc"/><rect y="145.8" height="1.0" fill="#f3f1ca"/><rect y="146.8" height="1.0" fill="#f4f0c3"/><rect y="147.8" height="1.0" fill="#e8eee0"/><rect y="148.8" height="1.0" fill="#eff1d6"/><rect y="149.8" height="2.0" fill="#f2f2cc"/><rect y="151.8" height="1.0" fill="#f3f1c8"/><rect y="152.8" height="1.0" fill="#f3f1cc"/><rect y="153.8" height="1.0" fill="#f0f1d4"/><rect y="154.8" height="0.3" fill="#f3f1cb"/></g><g transform="translate(111.90,0)"><rect y="126.8" height="1.0" fill="#f2f2cd"/><rect y="127.8" height="1.0" fill="#edf0da"/><rect y="128.8" height="1.0" fill="#f1f2d2"/><rect y="129.8" height="1.0" fill="#f0f1d5"/><rect y="130.8" height="1.0" fill="#eef1d8"/><rect y="131.8" height="1.0" fill="#ebefdd"/><rect y="132.8" height="1.0" fill="#eff1d6"/><rect y="133.8" height="1.0" fill="#f1f2d2"/><rect y="134.8" height="1.0" fill="#f3f1ca"/><rect y="135.8" height="1.0" fill="#e7ede2"/><rect y="136.8" height="1.0" fill="#e5ede4"/><rect y="137.8" height="1.0" fill="#f2f2cc"/><rect y="138.8" height="1.0" fill="#ecf0dd"/><rect y="139.8" height="1.0" fill="#f2f2cf"/><rect y="140.8" height="1.0" fill="#eef1d8"/><rect y="141.8" height="1.0" fill="#f3f1c7"/><rect y="142.8" height="1.0" fill="#eff1d5"/><rect y="143.8" height="1.0" fill="#eaefde"/><rect y="144.8" height="1.0" fill="#e2ebe7"/><rect y="145.8" height="1.0" fill="#f3f1c5"/><rect y="146.8" height="1.0" fill="#f2f2ce"/><rect y="147.8" height="1.0" fill="#edf0d9"/><rect y="148.8" height="1.0" fill="#f2f2ce"/><rect y="149.8" height="1.0" fill="#f0f1d4"/><rect y="150.8" height="1.0" fill="#f3f1c7"/><rect y="151.8" height="1.0" fill="#edf0da"/><rect y="152.8" height="1.0" fill="#f2f2cd"/><rect y="153.8" height="1.0" fill="#eef1d8"/><rect y="154.8" height="0.3" fill="#eff1d6"/></g><g transform="translate(118.60,0)"><rect y="126.8" height="1.0" fill="#eff1d6"/><rect y="127.8" height="1.0" fill="#e9efdf"/><rect y="128.8" height="1.0" fill="#f4f0c2"/><rect y="129.8" height="1.0" fill="#eff1d6"/><rect y="130.8" height="1.0" fill="#e7eee2"/><rect y="131.8" height="2.0" fill="#eef1d8"/><rect y="133.8" height="1.0" fill="#e9efdf"/><rect y="134.8" height="1.0" fill="#ebf0dd"/><rect y="135.8" height="1.0" fill="#ecf0dd"/><rect y="136.8" height="1.0" fill="#e6ede3"/><rect y="137.8" height="1.0" fill="#eff1d7"/><rect y="138.8" height="1.0" fill="#e6ede4"/><rect y="139.8" height="1.0" fill="#e6ede3"/><rect y="140.8" height="1.0" fill="#edf0db"/><rect y="141.8" height="1.0" fill="#eef1d8"/><rect y="142.8" height="1.0" fill="#f2f2d1"/><rect y="143.8" height="1.0" fill="#f0f1d3"/><rect y="144.8" height="1.0" fill="#eef1d8"/><rect y="145.8" height="1.0" fill="#ebf0dd"/><rect y="146.8" height="3.0" fill="#eaefde"/><rect y="149.8" height="1.0" fill="#e7eee1"/><rect y="150.8" height="1.0" fill="#f4f0c0"/><rect y="151.8" height="1.0" fill="#ecf0dd"/><rect y="152.8" height="1.0" fill="#ecf0dc"/><rect y="153.8" height="1.0" fill="#f0f1d5"/><rect y="154.8" height="0.3" fill="#edf0da"/></g><g transform="translate(125.30,0)"><rect y="126.8" height="1.0" fill="#f1f2d2"/><rect y="127.8" height="1.0" fill="#eaefde"/><rect y="128.8" height="1.0" fill="#eef1d9"/><rect y="129.8" height="1.0" fill="#f3f1c6"/><rect y="130.8" height="1.0" fill="#f4eeb9"/><rect y="131.8" height="2.0" fill="#eff1d6"/><rect y="133.8" height="2.0" fill="#ecf0dc"/><rect y="135.8" height="1.0" fill="#f0f1d4"/><rect y="136.8" height="1.0" fill="#f2f2cf"/><rect y="137.8" height="1.0" fill="#f3f1c5"/><rect y="138.8" height="1.0" fill="#edf0db"/><rect y="139.8" height="1.0" fill="#edf0da"/><rect y="140.8" height="1.0" fill="#f2f2cc"/><rect y="141.8" height="1.0" fill="#eff1d5"/><rect y="142.8" height="1.0" fill="#edf0da"/><rect y="143.8" height="1.0" fill="#f0f1d4"/><rect y="144.8" height="1.0" fill="#eef1d7"/><rect y="145.8" height="1.0" fill="#f2f2cd"/><rect y="146.8" height="1.0" fill="#eff1d7"/><rect y="147.8" height="1.0" fill="#f2f2d0"/><rect y="148.8" height="1.0" fill="#edf0db"/><rect y="149.8" height="1.0" fill="#f2f2d0"/><rect y="150.8" height="1.0" fill="#e9efdf"/><rect y="151.8" height="1.0" fill="#f2f2cf"/><rect y="152.8" height="1.0" fill="#f2f2ce"/><rect y="153.8" height="1.0" fill="#f1f2d2"/><rect y="154.8" height="0.3" fill="#eef1d7"/></g><g transform="translate(132.00,0)"><rect y="126.8" height="1.0" fill="#f4f0bf"/><rect y="127.8" height="1.0" fill="#f4ecb5"/><rect y="128.8" height="1.0" fill="#f4eab1"/><rect y="129.8" height="1.0" fill="#f4eebb"/><rect y="130.8" height="1.0" fill="#f4eebc"/><rect y="131.8" height="1.0" fill="#f4efbe"/><rect y="132.8" height="1.0" fill="#f4eeb9"/><rect y="133.8" height="1.0" fill="#f4f0c2"/><rect y="134.8" height="1.0" fill="#f4edb8"/><rect y="135.8" height="1.0" fill="#f4efbc"/><rect y="136.8" height="1.0" fill="#f4f0c0"/><rect y="137.8" height="1.0" fill="#f4efbd"/><rect y="138.8" height="1.0" fill="#f4eebb"/><rect y="139.8" height="1.0" fill="#f4f0c3"/><rect y="140.8" height="1.0" fill="#f4efbd"/><rect y="141.8" height="1.0" fill="#f4e8ae"/><rect y="142.8" height="1.0" fill="#f4eebb"/><rect y="143.8" height="3.0" fill="#f4eeba"/><rect y="146.8" height="1.0" fill="#f4efbe"/><rect y="147.8" height="1.0" fill="#f3f1ca"/><rect y="148.8" height="1.0" fill="#f4f0bf"/><rect y="149.8" height="1.0" fill="#f4efbc"/><rect y="150.8" height="1.0" fill="#f4f0c0"/><rect y="151.8" height="1.0" fill="#f4e0a3"/><rect y="152.8" height="1.0" fill="#f4efbc"/><rect y="153.8" height="1.0" fill="#f4e9b0"/><rect y="154.8" height="0.3" fill="#f4edb8"/></g><g transform="translate(138.70,0)"><rect y="126.8" height="1.0" fill="#edf0d9"/><rect y="127.8" height="1.0" fill="#ecf0dc"/><rect y="128.8" height="1.0" fill="#f2f2d0"/><rect y="129.8" height="1.0" fill="#f3f1c4"/><rect y="130.8" height="1.0" fill="#eff1d7"/><rect y="131.8" height="1.0" fill="#eff1d6"/><rect y="132.8" height="1.0" fill="#ecf0dc"/><rect y="133.8" height="1.0" fill="#f3f1c6"/><rect y="134.8" height="1.0" fill="#e8eee0"/><rect y="135.8" height="2.0" fill="#eaefde"/><rect y="137.8" height="1.0" fill="#f2f2cd"/><rect y="138.8" height="1.0" fill="#f0f1d5"/><rect y="139.8" height="1.0" fill="#f2f2d0"/><rect y="140.8" height="1.0" fill="#e7eee1"/><rect y="141.8" height="1.0" fill="#f1f2d1"/><rect y="142.8" height="1.0" fill="#ecf0dc"/><rect y="143.8" height="1.0" fill="#f4eebb"/><rect y="144.8" height="1.0" fill="#f1f2d1"/><rect y="145.8" height="1.0" fill="#f2f2ce"/><rect y="146.8" height="1.0" fill="#f2f2cf"/><rect y="147.8" height="1.0" fill="#f3f1cc"/><rect y="148.8" height="1.0" fill="#f2f2d1"/><rect y="149.8" height="1.0" fill="#eff1d7"/><rect y="150.8" height="1.0" fill="#eff1d6"/><rect y="151.8" height="1.0" fill="#f2f2cc"/><rect y="152.8" height="1.0" fill="#eef1d8"/><rect y="153.8" height="1.0" fill="#f1f2d3"/><rect y="154.8" height="0.3" fill="#f1f2d2"/></g><g transform="translate(145.40,0)"><rect y="126.8" height="1.0" fill="#f4edb6"/><rect y="127.8" height="1.0" fill="#f4ecb5"/><rect y="128.8" height="1.0" fill="#f4e4a8"/><rect y="129.8" height="1.0" fill="#f4efbe"/><rect y="130.8" height="1.0" fill="#f4edb7"/><rect y="131.8" height="1.0" fill="#f4ebb3"/><rect y="132.8" height="1.0" fill="#f4ecb4"/><rect y="133.8" height="1.0" fill="#f4efbd"/><rect y="134.8" height="1.0" fill="#f4e9b0"/><rect y="135.8" height="1.0" fill="#f4eab0"/><rect y="136.8" height="1.0" fill="#f4ecb5"/><rect y="137.8" height="1.0" fill="#f4ecb6"/><rect y="138.8" height="1.0" fill="#f4e5aa"/><rect y="139.8" height="1.0" fill="#f4e6aa"/><rect y="140.8" height="1.0" fill="#f4e7ad"/><rect y="141.8" height="1.0" fill="#f4ecb5"/><rect y="142.8" height="1.0" fill="#f4ecb4"/><rect y="143.8" height="1.0" fill="#f4e1a5"/><rect y="144.8" height="1.0" fill="#f4e4a8"/><rect y="145.8" height="1.0" fill="#f4e6ac"/><rect y="146.8" height="1.0" fill="#f4edb8"/><rect y="147.8" height="1.0" fill="#f4e4a8"/><rect y="148.8" height="1.0" fill="#f4f0c0"/><rect y="149.8" height="1.0" fill="#f4e9af"/><rect y="150.8" height="1.0" fill="#f4ebb3"/><rect y="151.8" height="1.0" fill="#f4e7ac"/><rect y="152.8" height="1.0" fill="#f4f0c2"/><rect y="153.8" height="1.0" fill="#f4ebb2"/><rect y="154.8" height="0.3" fill="#f4e3a7"/></g><g transform="translate(152.10,0)"><rect y="126.8" height="1.0" fill="#f4eebb"/><rect y="127.8" height="1.0" fill="#f4ecb5"/><rect y="128.8" height="1.0" fill="#f4eab0"/><rect y="129.8" height="1.0" fill="#f4e1a5"/><rect y="130.8" height="1.0" fill="#f4e0a3"/><rect y="131.8" height="1.0" fill="#f4e9b0"/><rect y="132.8" height="1.0" fill="#f4e6ab"/><rect y="133.8" height="1.0" fill="#f4ecb4"/><rect y="134.8" height="1.0" fill="#f4e4a8"/><rect y="135.8" height="1.0" fill="#f4e5a9"/><rect y="136.8" height="1.0" fill="#f4e6ac"/><rect y="137.8" height="1.0" fill="#f4e9af"/><rect y="138.8" height="1.0" fill="#f4edb6"/><rect y="139.8" height="1.0" fill="#f4e5aa"/><rect y="140.8" height="1.0" fill="#f4edb7"/><rect y="141.8" height="1.0" fill="#f4e6ac"/><rect y="142.8" height="1.0" fill="#f4ebb3"/><rect y="143.8" height="1.0" fill="#f4edb7"/><rect y="144.8" height="1.0" fill="#f4ebb1"/><rect y="145.8" height="1.0" fill="#f4e2a5"/><rect y="146.8" height="1.0" fill="#f4e9af"/><rect y="147.8" height="1.0" fill="#f4e8ae"/><rect y="148.8" height="1.0" fill="#f4dea0"/><rect y="149.8" height="1.0" fill="#f4eebb"/><rect y="150.8" height="1.0" fill="#f4ecb5"/><rect y="151.8" height="1.0" fill="#f4e2a6"/><rect y="152.8" height="2.0" fill="#f4edb8"/><rect y="154.8" height="0.3" fill="#f4ebb3"/></g><g transform="translate(158.80,0)"><rect y="126.8" height="1.0" fill="#f4eab0"/><rect y="127.8" height="1.0" fill="#f4efbf"/><rect y="128.8" height="1.0" fill="#f4e4a9"/><rect y="129.8" height="1.0" fill="#f4efbd"/><rect y="130.8" height="1.0" fill="#f3f1cb"/><rect y="131.8" height="1.0" fill="#f4edb8"/><rect y="132.8" height="1.0" fill="#f4efbe"/><rect y="133.8" height="2.0" fill="#f4ebb2"/><rect y="135.8" height="1.0" fill="#f4e9af"/><rect y="136.8" height="1.0" fill="#f4edb7"/><rect y="137.8" height="1.0" fill="#f4f0bf"/><rect y="138.8" height="1.0" fill="#f4ecb5"/><rect y="139.8" height="1.0" fill="#f4efbe"/><rect y="140.8" height="1.0" fill="#f4eeba"/><rect y="141.8" height="1.0" fill="#f4efbd"/><rect y="142.8" height="1.0" fill="#f4edb7"/><rect y="143.8" height="1.0" fill="#f4f0c0"/><rect y="144.8" height="1.0" fill="#f4f0c2"/><rect y="145.8" height="1.0" fill="#f4e5aa"/><rect y="146.8" height="2.0" fill="#f4ecb6"/><rect y="148.8" height="1.0" fill="#f4ecb4"/><rect y="149.8" height="1.0" fill="#f4efbc"/><rect y="150.8" height="1.0" fill="#f4eebb"/><rect y="151.8" height="1.0" fill="#f3f1c4"/><rect y="152.8" height="1.0" fill="#f4eebc"/><rect y="153.8" height="1.0" fill="#f4ecb5"/><rect y="154.8" height="0.3" fill="#f4eebc"/></g><g transform="translate(165.50,0)"><rect y="126.8" height="1.0" fill="#f4e5aa"/><rect y="127.8" height="1.0" fill="#f4ebb1"/><rect y="128.8" height="1.0" fill="#f4edb7"/><rect y="129.8" height="2.0" fill="#f4edb8"/><rect y="131.8" height="1.0" fill="#f4edb6"/><rect y="132.8" height="1.0" fill="#f4ecb4"/><rect y="133.8" height="1.0" fill="#f4ecb5"/><rect y="134.8" height="1.0" fill="#f4e9af"/><rect y="135.8" height="1.0" fill="#f4e8ae"/><rect y="136.8" height="1.0" fill="#f2f2cc"/><rect y="137.8" height="1.0" fill="#f4e6ab"/><rect y="138.8" height="1.0" fill="#f4edb7"/><rect y="139.8" height="1.0" fill="#f4ecb5"/><rect y="140.8" height="1.0" fill="#f4eeba"/><rect y="141.8" height="2.0" fill="#f4edb9"/><rect y="143.8" height="1.0" fill="#f4e3a6"/><rect y="144.8" height="1.0" fill="#f4edb8"/><rect y="145.8" height="1.0" fill="#f4ebb2"/><rect y="146.8" height="1.0" fill="#f4ecb4"/><rect y="147.8" height="1.0" fill="#f4efbd"/><rect y="148.8" height="1.0" fill="#f4efbe"/><rect y="149.8" height="1.0" fill="#f4edb7"/><rect y="150.8" height="1.0" fill="#f4f0c2"/><rect y="151.8" height="1.0" fill="#f4eab0"/><rect y="152.8" height="1.0" fill="#f4e4a9"/><rect y="153.8" height="1.0" fill="#f4f0c3"/><rect y="154.8" height="0.3" fill="#f4ebb3"/></g><g transform="translate(172.20,0)"><rect y="126.8" height="1.0" fill="#f2f2ce"/><rect y="127.8" height="1.0" fill="#f2f2cd"/><rect y="128.8" height="1.0" fill="#f2f2cf"/><rect y="129.8" height="1.0" fill="#f4f0c3"/><rect y="130.8" height="1.0" fill="#f3f1c9"/><rect y="131.8" height="1.0" fill="#f4f0c3"/><rect y="132.8" height="1.0" fill="#f4efbe"/><rect y="133.8" height="1.0" fill="#f3f1c7"/><rect y="134.8" height="1.0" fill="#f3f1c8"/><rect y="135.8" height="1.0" fill="#f3f1c6"/><rect y="136.8" height="1.0" fill="#f3f1c7"/><rect y="137.8" height="1.0" fill="#f3f1cb"/><rect y="138.8" height="1.0" fill="#f4f0c1"/><rect y="139.8" height="1.0" fill="#f3f1c6"/><rect y="140.8" height="1.0" fill="#f2f2cf"/><rect y="141.8" height="1.0" fill="#f3f1ca"/><rect y="142.8" height="1.0" fill="#f3f1c6"/><rect y="143.8" height="1.0" fill="#f4f0c2"/><rect y="144.8" height="1.0" fill="#ecf0dc"/><rect y="145.8" height="1.0" fill="#f3f1c5"/><rect y="146.8" height="1.0" fill="#f4eebb"/><rect y="147.8" height="1.0" fill="#f4efbe"/><rect y="148.8" height="1.0" fill="#f1f2d2"/><rect y="149.8" height="1.0" fill="#f3f1cb"/><rect y="150.8" height="1.0" fill="#f3f1c4"/><rect y="151.8" height="1.0" fill="#f4efbe"/><rect y="152.8" height="1.0" fill="#f2f2d1"/><rect y="153.8" height="1.0" fill="#f4f0c0"/><rect y="154.8" height="0.3" fill="#f4efbe"/></g><g transform="translate(178.90,0)"><rect y="126.8" height="1.0" fill="#f4f0c2"/><rect y="127.8" height="1.0" fill="#f4f0c3"/><rect y="128.8" height="1.0" fill="#f4f0c2"/><rect y="129.8" height="1.0" fill="#f3f1ca"/><rect y="130.8" height="1.0" fill="#f4ecb6"/><rect y="131.8" height="1.0" fill="#f4f0bf"/><rect y="132.8" height="1.0" fill="#f2f2ce"/><rect y="133.8" height="1.0" fill="#f4f0c2"/><rect y="134.8" height="1.0" fill="#f4f0bf"/><rect y="135.8" height="1.0" fill="#f3f1c8"/><rect y="136.8" height="1.0" fill="#f2f2cc"/><rect y="137.8" height="1.0" fill="#f4f0c4"/><rect y="138.8" height="1.0" fill="#f3f1ca"/><rect y="139.8" height="1.0" fill="#f4f0c4"/><rect y="140.8" height="1.0" fill="#f4eeb9"/><rect y="141.8" height="1.0" fill="#f4f0c3"/><rect y="142.8" height="2.0" fill="#f3f1cc"/><rect y="144.8" height="1.0" fill="#f4f0c1"/><rect y="145.8" height="1.0" fill="#f4f0c0"/><rect y="146.8" height="1.0" fill="#f3f1c8"/><rect y="147.8" height="1.0" fill="#f4f0c2"/><rect y="148.8" height="1.0" fill="#f4f0c3"/><rect y="149.8" height="1.0" fill="#f2f2cf"/><rect y="150.8" height="1.0" fill="#f4f0c3"/><rect y="151.8" height="1.0" fill="#f4e7ac"/><rect y="152.8" height="1.0" fill="#f4f0c0"/><rect y="153.8" height="1.0" fill="#f3f1c4"/><rect y="154.8" height="0.3" fill="#f3f1c6"/></g><g transform="translate(185.60,0)"><rect y="126.8" height="1.0" fill="#f4edb6"/><rect y="127.8" height="1.0" fill="#f4f0c2"/><rect y="128.8" height="1.0" fill="#f4eeb9"/><rect y="129.8" height="1.0" fill="#f4efbd"/><rect y="130.8" height="1.0" fill="#f4f0bf"/><rect y="131.8" height="1.0" fill="#f4f0c0"/><rect y="132.8" height="1.0" fill="#f3f1c4"/><rect y="133.8" height="1.0" fill="#f4efbd"/><rect y="134.8" height="1.0" fill="#f4f0bf"/><rect y="135.8" height="1.0" fill="#f4efbd"/><rect y="136.8" height="1.0" fill="#f4eebb"/><rect y="137.8" height="1.0" fill="#f4ecb5"/><rect y="138.8" height="1.0" fill="#f4dfa2"/><rect y="139.8" height="1.0" fill="#f4efbe"/><rect y="140.8" height="1.0" fill="#f4eebb"/><rect y="141.8" height="1.0" fill="#f4ecb5"/><rect y="142.8" height="1.0" fill="#f4eeb9"/><rect y="143.8" height="1.0" fill="#f4efbd"/><rect y="144.8" height="1.0" fill="#f1f2d2"/><rect y="145.8" height="1.0" fill="#f4edb7"/><rect y="146.8" height="1.0" fill="#eef1d9"/><rect y="147.8" height="1.0" fill="#f4ecb4"/><rect y="148.8" height="1.0" fill="#f3f1c6"/><rect y="149.8" height="1.0" fill="#f4efbd"/><rect y="150.8" height="1.0" fill="#f4eeb9"/><rect y="151.8" height="1.0" fill="#f4ebb3"/><rect y="152.8" height="1.0" fill="#f4efbe"/><rect y="153.8" height="1.0" fill="#f4f0c3"/><rect y="154.8" height="0.3" fill="#f4eebb"/></g><g transform="translate(192.30,0)"><rect y="126.8" height="1.0" fill="#f4efbd"/><rect y="127.8" height="1.0" fill="#f4f0bf"/><rect y="128.8" height="1.0" fill="#f4e9af"/><rect y="129.8" height="1.0" fill="#f4edb7"/><rect y="130.8" height="1.0" fill="#f4ecb6"/><rect y="131.8" height="1.0" fill="#f4efbd"/><rect y="132.8" height="1.0" fill="#f4e3a7"/><rect y="133.8" height="2.0" fill="#f4efbe"/><rect y="135.8" height="1.0" fill="#f4eebc"/><rect y="136.8" height="2.0" fill="#f4efbd"/><rect y="138.8" height="1.0" fill="#f3f1c6"/><rect y="139.8" height="1.0" fill="#f4efbe"/><rect y="140.8" height="1.0" fill="#f4ebb2"/><rect y="141.8" height="1.0" fill="#f4edb8"/><rect y="142.8" height="1.0" fill="#f4eab1"/><rect y="143.8" height="1.0" fill="#f4eebb"/><rect y="144.8" height="1.0" fill="#f4f0c3"/><rect y="145.8" height="1.0" fill="#f4e1a4"/><rect y="146.8" height="1.0" fill="#f4efbc"/><rect y="147.8" height="1.0" fill="#f4f0c3"/><rect y="148.8" height="1.0" fill="#f4edb7"/><rect y="149.8" height="1.0" fill="#f4ecb5"/><rect y="150.8" height="1.0" fill="#f4eeb9"/><rect y="151.8" height="1.0" fill="#f4f0c3"/><rect y="152.8" height="1.0" fill="#f4eebc"/><rect y="153.8" height="1.0" fill="#f4eebb"/><rect y="154.8" height="0.3" fill="#f4ecb4"/></g><g transform="translate(199.00,0)"><rect y="126.8" height="2.0" fill="#f4f0c1"/><rect y="128.8" height="1.0" fill="#f4f0bf"/><rect y="129.8" height="1.0" fill="#f3f1c7"/><rect y="130.8" height="1.0" fill="#f4f0bf"/><rect y="131.8" height="1.0" fill="#f4f0c2"/><rect y="132.8" height="1.0" fill="#eef1d9"/><rect y="133.8" height="1.0" fill="#f4f0bf"/><rect y="134.8" height="1.0" fill="#f4f0c2"/><rect y="135.8" height="1.0" fill="#f4edb9"/><rect y="136.8" height="1.0" fill="#f4f0c2"/><rect y="137.8" height="1.0" fill="#f3f1c5"/><rect y="138.8" height="1.0" fill="#f2f2cd"/><rect y="139.8" height="1.0" fill="#f4f0c2"/><rect y="140.8" height="1.0" fill="#f3f1c8"/><rect y="141.8" height="1.0" fill="#f4edb8"/><rect y="142.8" height="1.0" fill="#f4f0c0"/><rect y="143.8" height="1.0" fill="#f4f0c2"/><rect y="144.8" height="1.0" fill="#f4f0bf"/><rect y="145.8" height="1.0" fill="#f4ecb4"/><rect y="146.8" height="1.0" fill="#f3f1c8"/><rect y="147.8" height="1.0" fill="#f3f1c7"/><rect y="148.8" height="1.0" fill="#f3f1cc"/><rect y="149.8" height="1.0" fill="#f1f2d1"/><rect y="150.8" height="1.0" fill="#f4f0c1"/><rect y="151.8" height="2.0" fill="#f3f1ca"/><rect y="153.8" height="1.0" fill="#f4edb8"/><rect y="154.8" height="0.3" fill="#f4f0c4"/></g><g transform="translate(58.30,0)"><rect y="155.1" height="1.0" fill="#f4eebb"/><rect y="156.1" height="1.0" fill="#f4f0c0"/><rect y="157.1" height="1.0" fill="#f3f1c5"/><rect y="158.1" height="1.0" fill="#f3f1cb"/><rect y="159.1" height="1.0" fill="#f4eebb"/><rect y="160.1" height="1.0" fill="#f4efbd"/><rect y="161.1" height="1.0" fill="#f4f0bf"/><rect y="162.1" height="1.0" fill="#f4f0c0"/><rect y="163.1" height="2.0" fill="#f4eebb"/><rect y="165.1" height="2.0" fill="#f4f0c2"/><rect y="167.1" height="1.0" fill="#f3f1c6"/><rect y="168.1" height="1.0" fill="#f4f0c4"/><rect y="169.1" height="1.0" fill="#f3f1c9"/><rect y="170.1" height="1.0" fill="#f4edb7"/><rect y="171.1" height="1.0" fill="#f3f1c5"/><rect y="172.1" height="1.0" fill="#f4efbe"/><rect y="173.1" height="1.0" fill="#f3f1c4"/><rect y="174.1" height="1.0" fill="#f4f0bf"/><rect y="175.1" height="1.0" fill="#f4f0c3"/><rect y="176.1" height="1.0" fill="#f4edb8"/><rect y="177.1" height="1.0" fill="#f4eeba"/><rect y="178.1" height="0.7" fill="#f4efbd"/></g><g transform="translate(65.00,0)"><rect y="155.1" height="1.0" fill="#f3f1c7"/><rect y="156.1" height="1.0" fill="#f4f0c0"/><rect y="157.1" height="1.0" fill="#f4e7ad"/><rect y="158.1" height="1.0" fill="#f4f0c3"/><rect y="159.1" height="1.0" fill="#f3f1c8"/><rect y="160.1" height="1.0" fill="#f4eebb"/><rect y="161.1" height="1.0" fill="#f4efbd"/><rect y="162.1" height="2.0" fill="#f4f0bf"/><rect y="164.1" height="1.0" fill="#f4efbe"/><rect y="165.1" height="1.0" fill="#f4eebb"/><rect y="166.1" height="1.0" fill="#f3f1cb"/><rect y="167.1" height="2.0" fill="#f3f1c6"/><rect y="169.1" height="1.0" fill="#f4edb9"/><rect y="170.1" height="1.0" fill="#f4f0c2"/><rect y="171.1" height="1.0" fill="#f3f1cb"/><rect y="172.1" height="1.0" fill="#f3f1c5"/><rect y="173.1" height="1.0" fill="#f4f0c4"/><rect y="174.1" height="1.0" fill="#f4f0c2"/><rect y="175.1" height="1.0" fill="#f3f1c6"/><rect y="176.1" height="1.0" fill="#f2f2cd"/><rect y="177.1" height="1.0" fill="#f4efbd"/><rect y="178.1" height="0.7" fill="#f4f0c3"/></g><g transform="translate(71.70,0)"><rect y="155.1" height="1.0" fill="#f4f0c3"/><rect y="156.1" height="1.0" fill="#f3f1c6"/><rect y="157.1" height="1.0" fill="#f4f0c1"/><rect y="158.1" height="1.0" fill="#f4eebb"/><rect y="159.1" height="1.0" fill="#f4efbe"/><rect y="160.1" height="1.0" fill="#f3f1c9"/><rect y="161.1" height="1.0" fill="#f3f1c6"/><rect y="162.1" height="1.0" fill="#f4f0c2"/><rect y="163.1" height="1.0" fill="#f1f2d3"/><rect y="164.1" height="1.0" fill="#f4efbf"/><rect y="165.1" height="1.0" fill="#f4dea0"/><rect y="166.1" height="1.0" fill="#f4efbe"/><rect y="167.1" height="1.0" fill="#f4eeba"/><rect y="168.1" height="1.0" fill="#f4efbc"/><rect y="169.1" height="1.0" fill="#f4eeba"/><rect y="170.1" height="1.0" fill="#f4f0c1"/><rect y="171.1" height="1.0" fill="#eff1d7"/><rect y="172.1" height="1.0" fill="#f4f0bf"/><rect y="173.1" height="1.0" fill="#f4eebb"/><rect y="174.1" height="1.0" fill="#f4eebc"/><rect y="175.1" height="1.0" fill="#f4f0c0"/><rect y="176.1" height="1.0" fill="#f4eebb"/><rect y="177.1" height="1.7" fill="#f4efbc"/></g><g transform="translate(78.40,0)"><rect y="155.1" height="1.0" fill="#f3f1cc"/><rect y="156.1" height="1.0" fill="#f4efbd"/><rect y="157.1" height="1.0" fill="#f4f0c3"/><rect y="158.1" height="1.0" fill="#f4eebc"/><rect y="159.1" height="1.0" fill="#f4ecb6"/><rect y="160.1" height="1.0" fill="#f3f1c8"/><rect y="161.1" height="1.0" fill="#f3f1c5"/><rect y="162.1" height="1.0" fill="#f2f2cf"/><rect y="163.1" height="1.0" fill="#f3f1c5"/><rect y="164.1" height="1.0" fill="#f4efbd"/><rect y="165.1" height="1.0" fill="#f4f0c0"/><rect y="166.1" height="1.0" fill="#f3f1cb"/><rect y="167.1" height="1.0" fill="#f4f0c3"/><rect y="168.1" height="1.0" fill="#f4f0c2"/><rect y="169.1" height="1.0" fill="#f3f1c7"/><rect y="170.1" height="1.0" fill="#f3f1c8"/><rect y="171.1" height="1.0" fill="#f4f0c2"/><rect y="172.1" height="1.0" fill="#f4efbe"/><rect y="173.1" height="1.0" fill="#f3f1c9"/><rect y="174.1" height="1.0" fill="#f4f0c2"/><rect y="175.1" height="1.0" fill="#f4edb8"/><rect y="176.1" height="1.0" fill="#f4efbc"/><rect y="177.1" height="1.0" fill="#f3f1cc"/><rect y="178.1" height="0.7" fill="#f3f1c8"/></g><g transform="translate(85.10,0)"><rect y="155.1" height="1.0" fill="#f2f2cf"/><rect y="156.1" height="1.0" fill="#f3f1c8"/><rect y="157.1" height="1.0" fill="#f4f0c3"/><rect y="158.1" height="1.0" fill="#f4edb6"/><rect y="159.1" height="1.0" fill="#f2f2ce"/><rect y="160.1" height="1.0" fill="#f4efbe"/><rect y="161.1" height="1.0" fill="#f3f1c9"/><rect y="162.1" height="1.0" fill="#f3f1cb"/><rect y="163.1" height="2.0" fill="#f1f2d2"/><rect y="165.1" height="1.0" fill="#f4f0c2"/><rect y="166.1" height="1.0" fill="#f4eebb"/><rect y="167.1" height="1.0" fill="#f4f0c2"/><rect y="168.1" height="1.0" fill="#f3f1c7"/><rect y="169.1" height="1.0" fill="#f4f0c4"/><rect y="170.1" height="1.0" fill="#f4f0c2"/><rect y="171.1" height="1.0" fill="#eef1d8"/><rect y="172.1" height="1.0" fill="#f1f2d2"/><rect y="173.1" height="1.0" fill="#f2f2d1"/><rect y="174.1" height="1.0" fill="#f4f0c3"/><rect y="175.1" height="1.0" fill="#f3f1c7"/><rect y="176.1" height="1.0" fill="#f1f2d3"/><rect y="177.1" height="1.0" fill="#f1f2d2"/><rect y="178.1" height="0.7" fill="#eef1d8"/></g><g transform="translate(91.80,0)"><rect y="155.1" height="1.0" fill="#f4efbc"/><rect y="156.1" height="1.0" fill="#f4ebb3"/><rect y="157.1" height="1.0" fill="#f4f0c3"/><rect y="158.1" height="1.0" fill="#f4ecb5"/><rect y="159.1" height="1.0" fill="#f2f2ce"/><rect y="160.1" height="1.0" fill="#f4f0bf"/><rect y="161.1" height="1.0" fill="#f4f0c1"/><rect y="162.1" height="1.0" fill="#f4f0c2"/><rect y="163.1" height="1.0" fill="#f4ebb2"/><rect y="164.1" height="1.0" fill="#f4edb7"/><rect y="165.1" height="1.0" fill="#f4e8ae"/><rect y="166.1" height="1.0" fill="#f4f0bf"/><rect y="167.1" height="1.0" fill="#f3f1c5"/><rect y="168.1" height="1.0" fill="#f4f0c0"/><rect y="169.1" height="1.0" fill="#f4edb7"/><rect y="170.1" height="1.0" fill="#f4f0c4"/><rect y="171.1" height="1.0" fill="#f4efbc"/><rect y="172.1" height="1.0" fill="#f4f0bf"/><rect y="173.1" height="1.0" fill="#f3f1ca"/><rect y="174.1" height="2.0" fill="#f4f0c0"/><rect y="176.1" height="1.0" fill="#f4f0c1"/><rect y="177.1" height="1.0" fill="#f4eeba"/><rect y="178.1" height="0.7" fill="#f4e7ad"/></g><g transform="translate(98.50,0)"><rect y="155.1" height="1.0" fill="#f4dc9e"/><rect y="156.1" height="1.0" fill="#f3d495"/><rect y="157.1" height="1.0" fill="#f4da9b"/><rect y="158.1" height="1.0" fill="#f4da9c"/><rect y="159.1" height="1.0" fill="#f3d899"/><rect y="160.1" height="1.0" fill="#f2ce8e"/><rect y="161.1" height="1.0" fill="#f4dfa1"/><rect y="162.1" height="1.0" fill="#f3d494"/><rect y="163.1" height="1.0" fill="#f2ce8f"/><rect y="164.1" height="1.0" fill="#f3d495"/><rect y="165.1" height="1.0" fill="#f4e3a7"/><rect y="166.1" height="1.0" fill="#f3d596"/><rect y="167.1" height="1.0" fill="#f3d191"/><rect y="168.1" height="1.0" fill="#f3d697"/><rect y="169.1" height="1.0" fill="#f3d394"/><rect y="170.1" height="1.0" fill="#f3d293"/><rect y="171.1" height="1.0" fill="#f3d798"/><rect y="172.1" height="1.0" fill="#f3d394"/><rect y="173.1" height="1.0" fill="#f3d799"/><rect y="174.1" height="1.0" fill="#f2cd8d"/><rect y="175.1" height="1.0" fill="#f3d697"/><rect y="176.1" height="1.0" fill="#f2d090"/><rect y="177.1" height="1.0" fill="#f3d494"/><rect y="178.1" height="0.7" fill="#f3d292"/></g><g transform="translate(105.20,0)"><rect y="155.1" height="1.0" fill="#f1f2d1"/><rect y="156.1" height="1.0" fill="#f2f2d0"/><rect y="157.1" height="1.0" fill="#f1f2d2"/><rect y="158.1" height="1.0" fill="#e8eee1"/><rect y="159.1" height="1.0" fill="#f3f1c7"/><rect y="160.1" height="1.0" fill="#f2f2d1"/><rect y="161.1" height="1.0" fill="#f2f2ce"/><rect y="162.1" height="1.0" fill="#f3f1cc"/><rect y="163.1" height="1.0" fill="#f3f1ca"/><rect y="164.1" height="2.0" fill="#f2f2cc"/><rect y="166.1" height="1.0" fill="#f3f1ca"/><rect y="167.1" height="1.0" fill="#f2f2d1"/><rect y="168.1" height="1.0" fill="#f2f2cf"/><rect y="169.1" height="1.0" fill="#f3f1c6"/><rect y="170.1" height="1.0" fill="#f2f2cd"/><rect y="171.1" height="1.0" fill="#f4f0c0"/><rect y="172.1" height="2.0" fill="#f4f0c3"/><rect y="174.1" height="1.0" fill="#f3f1cb"/><rect y="175.1" height="1.0" fill="#f3f1c8"/><rect y="176.1" height="1.0" fill="#f3f1c7"/><rect y="177.1" height="1.0" fill="#f3f1c8"/><rect y="178.1" height="0.7" fill="#f1f2d3"/></g><g transform="translate(111.90,0)"><rect y="155.1" height="1.0" fill="#f4e7ad"/><rect y="156.1" height="1.0" fill="#f4e0a2"/><rect y="157.1" height="1.0" fill="#f4e6ab"/><rect y="158.1" height="1.0" fill="#f4e2a5"/><rect y="159.1" height="1.0" fill="#f4dd9f"/><rect y="160.1" height="1.0" fill="#f4e1a4"/><rect y="161.1" height="1.0" fill="#f4e2a6"/><rect y="162.1" height="1.0" fill="#f4e1a4"/><rect y="163.1" height="1.0" fill="#f4dc9e"/><rect y="164.1" height="1.0" fill="#f4e6ab"/><rect y="165.1" height="1.0" fill="#f4e3a8"/><rect y="166.1" height="1.0" fill="#f4da9b"/><rect y="167.1" height="1.0" fill="#f4e7ad"/><rect y="168.1" height="1.0" fill="#f4e5aa"/><rect y="169.1" height="1.0" fill="#f4dea0"/><rect y="170.1" height="1.0" fill="#f4e8ae"/><rect y="171.1" height="1.0" fill="#f4e1a4"/><rect y="172.1" height="1.0" fill="#f4dfa2"/><rect y="173.1" height="1.0" fill="#f4e6ab"/><rect y="174.1" height="1.0" fill="#f4e7ad"/><rect y="175.1" height="1.0" fill="#f4db9d"/><rect y="176.1" height="1.0" fill="#f4e4a9"/><rect y="177.1" height="1.0" fill="#f4e8ae"/><rect y="178.1" height="0.7" fill="#f4e1a4"/></g><g transform="translate(118.60,0)"><rect y="155.1" height="1.0" fill="#eaefdf"/><rect y="156.1" height="1.0" fill="#eff1d5"/><rect y="157.1" height="1.0" fill="#ebefdd"/><rect y="158.1" height="1.0" fill="#f0f1d3"/><rect y="159.1" height="1.0" fill="#e4ece6"/><rect y="160.1" height="1.0" fill="#edf0da"/><rect y="161.1" height="1.0" fill="#eaefde"/><rect y="162.1" height="1.0" fill="#d9e5eb"/><rect y="163.1" height="1.0" fill="#edf0db"/><rect y="164.1" height="1.0" fill="#f2f2d0"/><rect y="165.1" height="1.0" fill="#f2f2ce"/><rect y="166.1" height="1.0" fill="#e9eee0"/><rect y="167.1" height="1.0" fill="#ebf0dd"/><rect y="168.1" height="1.0" fill="#e7ede2"/><rect y="169.1" height="1.0" fill="#eef1d8"/><rect y="170.1" height="1.0" fill="#f3f1cc"/><rect y="171.1" height="1.0" fill="#f1f2d1"/><rect y="172.1" height="1.0" fill="#f1f2d2"/><rect y="173.1" height="1.0" fill="#ebf0dd"/><rect y="174.1" height="1.0" fill="#eef1d8"/><rect y="175.1" height="1.0" fill="#f2f2cd"/><rect y="176.1" height="1.0" fill="#f0f1d3"/><rect y="177.1" height="1.0" fill="#f3f1cb"/><rect y="178.1" height="0.7" fill="#e8eee1"/></g><g transform="translate(125.30,0)"><rect y="155.1" height="1.0" fill="#edf0da"/><rect y="156.1" height="1.0" fill="#eef1d7"/><rect y="157.1" height="1.0" fill="#f0f1d3"/><rect y="158.1" height="1.0" fill="#eff1d7"/><rect y="159.1" height="1.0" fill="#edf0d9"/><rect y="160.1" height="1.0" fill="#eff1d6"/><rect y="161.1" height="1.0" fill="#f2f2ce"/><rect y="162.1" height="1.0" fill="#f3f1c9"/><rect y="163.1" height="1.0" fill="#f2f2cd"/><rect y="164.1" height="1.0" fill="#eff1d5"/><rect y="165.1" height="1.0" fill="#ecf0dc"/><rect y="166.1" height="1.0" fill="#f2f2cd"/><rect y="167.1" height="1.0" fill="#f2f2cf"/><rect y="168.1" height="1.0" fill="#f1f2d2"/><rect y="169.1" height="1.0" fill="#eff1d7"/><rect y="170.1" height="1.0" fill="#f3f1ca"/><rect y="171.1" height="1.0" fill="#f0f1d3"/><rect y="172.1" height="1.0" fill="#f3f1c9"/><rect y="173.1" height="1.0" fill="#f2f2d0"/><rect y="174.1" height="1.0" fill="#f2f2ce"/><rect y="175.1" height="1.0" fill="#f2f2d0"/><rect y="176.1" height="1.0" fill="#f2f2cf"/><rect y="177.1" height="1.0" fill="#eff1d7"/><rect y="178.1" height="0.7" fill="#f2f2cd"/></g><g transform="translate(132.00,0)"><rect y="155.1" height="1.0" fill="#e7ede2"/><rect y="156.1" height="1.0" fill="#ebf0dd"/><rect y="157.1" height="1.0" fill="#e3ebe7"/><rect y="158.1" height="1.0" fill="#eef1d7"/><rect y="159.1" height="1.0" fill="#e5ece5"/><rect y="160.1" height="1.0" fill="#eaefdf"/><rect y="161.1" height="1.0" fill="#f0f1d4"/><rect y="162.1" height="1.0" fill="#f1f2d3"/><rect y="163.1" height="1.0" fill="#e6ede3"/><rect y="164.1" height="1.0" fill="#ecf0dc"/><rect y="165.1" height="1.0" fill="#e7eee1"/><rect y="166.1" height="1.0" fill="#f4f0c4"/><rect y="167.1" height="1.0" fill="#ecf0dc"/><rect y="168.1" height="1.0" fill="#eaefde"/><rect y="169.1" height="1.0" fill="#e5ede4"/><rect y="170.1" height="1.0" fill="#ebefde"/><rect y="171.1" height="1.0" fill="#ecf0dc"/><rect y="172.1" height="1.0" fill="#e5ece4"/><rect y="173.1" height="1.0" fill="#eaefde"/><rect y="174.1" height="1.0" fill="#e5ede4"/><rect y="175.1" height="1.0" fill="#eff1d5"/><rect y="176.1" height="1.0" fill="#ebf0dd"/><rect y="177.1" height="1.0" fill="#e5ede4"/><rect y="178.1" height="0.7" fill="#e5ece4"/></g><g transform="translate(138.70,0)"><rect y="155.1" height="1.0" fill="#e7ede2"/><rect y="156.1" height="1.0" fill="#ecf0dd"/><rect y="157.1" height="1.0" fill="#e9efdf"/><rect y="158.1" height="1.0" fill="#f4f0c4"/><rect y="159.1" height="1.0" fill="#eff1d6"/><rect y="160.1" height="1.0" fill="#e7ede2"/><rect y="161.1" height="1.0" fill="#edf0d9"/><rect y="162.1" height="1.0" fill="#e4ece5"/><rect y="163.1" height="1.0" fill="#edf0db"/><rect y="164.1" height="1.0" fill="#eaefde"/><rect y="165.1" height="1.0" fill="#eef1d8"/><rect y="166.1" height="1.0" fill="#f2f2cc"/><rect y="167.1" height="1.0" fill="#e8eee0"/><rect y="168.1" height="1.0" fill="#ebefdd"/><rect y="169.1" height="2.0" fill="#e8eee1"/><rect y="171.1" height="1.0" fill="#ecf0dc"/><rect y="172.1" height="1.0" fill="#f2f2cf"/><rect y="173.1" height="1.0" fill="#f1f2d2"/><rect y="174.1" height="1.0" fill="#eef1d8"/><rect y="175.1" height="1.0" fill="#f1f2d1"/><rect y="176.1" height="2.0" fill="#ecf0db"/><rect y="178.1" height="0.7" fill="#eff1d7"/></g><g transform="translate(145.40,0)"><rect y="155.1" height="1.0" fill="#ecf0dc"/><rect y="156.1" height="1.0" fill="#ebefdd"/><rect y="157.1" height="1.0" fill="#eef1d8"/><rect y="158.1" height="1.0" fill="#e3ece6"/><rect y="159.1" height="1.0" fill="#eff1d6"/><rect y="160.1" height="1.0" fill="#f1f2d1"/><rect y="161.1" height="1.0" fill="#eaefdf"/><rect y="162.1" height="1.0" fill="#edf0da"/><rect y="163.1" height="1.0" fill="#ecf0dc"/><rect y="164.1" height="1.0" fill="#eef1d9"/><rect y="165.1" height="1.0" fill="#ebefdd"/><rect y="166.1" height="1.0" fill="#eef1d8"/><rect y="167.1" height="1.0" fill="#e7eee2"/><rect y="168.1" height="1.0" fill="#e8eee1"/><rect y="169.1" height="1.0" fill="#ebefde"/><rect y="170.1" height="1.0" fill="#e6ede4"/><rect y="171.1" height="1.0" fill="#e6ede3"/><rect y="172.1" height="1.0" fill="#e8eee0"/><rect y="173.1" height="1.0" fill="#ebf0dd"/><rect y="174.1" height="1.0" fill="#eaefde"/><rect y="175.1" height="1.0" fill="#eef1d7"/><rect y="176.1" height="1.0" fill="#e9eee0"/><rect y="177.1" height="1.0" fill="#f1f2d3"/><rect y="178.1" height="0.7" fill="#edf0db"/></g><g transform="translate(152.10,0)"><rect y="155.1" height="1.0" fill="#f4e6ac"/><rect y="156.1" height="1.0" fill="#f4dea0"/><rect y="157.1" height="2.0" fill="#f4e4a8"/><rect y="159.1" height="1.0" fill="#f4e0a3"/><rect y="160.1" height="1.0" fill="#f4e1a4"/><rect y="161.1" height="1.0" fill="#f4e9af"/><rect y="162.1" height="1.0" fill="#f4e4a8"/><rect y="163.1" height="1.0" fill="#f4e7ac"/><rect y="164.1" height="1.0" fill="#f4e5aa"/><rect y="165.1" height="1.0" fill="#f4dfa1"/><rect y="166.1" height="1.0" fill="#f4e7ad"/><rect y="167.1" height="1.0" fill="#f4e4a8"/><rect y="168.1" height="1.0" fill="#f4e2a6"/><rect y="169.1" height="1.0" fill="#f4e1a4"/><rect y="170.1" height="1.0" fill="#f4e4a9"/><rect y="171.1" height="1.0" fill="#f4e1a4"/><rect y="172.1" height="1.0" fill="#f4e0a3"/><rect y="173.1" height="1.0" fill="#f4e8ae"/><rect y="174.1" height="1.0" fill="#f4e9b0"/><rect y="175.1" height="1.0" fill="#f4e0a2"/><rect y="176.1" height="1.0" fill="#f4e3a6"/><rect y="177.1" height="1.0" fill="#f4eab1"/><rect y="178.1" height="0.7" fill="#f4e4a9"/></g><g transform="translate(158.80,0)"><rect y="155.1" height="1.0" fill="#f3d697"/><rect y="156.1" height="1.0" fill="#f4e2a6"/><rect y="157.1" height="1.0" fill="#f4e0a3"/><rect y="158.1" height="1.0" fill="#f2cf90"/><rect y="159.1" height="1.0" fill="#f4e0a3"/><rect y="160.1" height="1.0" fill="#f3d596"/><rect y="161.1" height="1.0" fill="#f4e4a8"/><rect y="162.1" height="1.0" fill="#f3d596"/><rect y="163.1" height="1.0" fill="#f4e5aa"/><rect y="164.1" height="1.0" fill="#f4e1a4"/><rect y="165.1" height="1.0" fill="#f3d292"/><rect y="166.1" height="1.0" fill="#f4dd9f"/><rect y="167.1" height="1.0" fill="#f4dc9e"/><rect y="168.1" height="1.0" fill="#f4e0a3"/><rect y="169.1" height="1.0" fill="#f4db9d"/><rect y="170.1" height="1.0" fill="#f4e2a5"/><rect y="171.1" height="1.0" fill="#f4db9d"/><rect y="172.1" height="1.0" fill="#f4dd9f"/><rect y="173.1" height="1.0" fill="#f4dfa2"/><rect y="174.1" height="1.0" fill="#f4da9b"/><rect y="175.1" height="1.0" fill="#f3d596"/><rect y="176.1" height="1.0" fill="#f4e2a6"/><rect y="177.1" height="1.0" fill="#f4e0a3"/><rect y="178.1" height="0.7" fill="#f3d798"/></g><g transform="translate(165.50,0)"><rect y="155.1" height="1.0" fill="#f4efbe"/><rect y="156.1" height="1.0" fill="#f3f1cb"/><rect y="157.1" height="1.0" fill="#f4f0c3"/><rect y="158.1" height="1.0" fill="#f4f0c4"/><rect y="159.1" height="1.0" fill="#f4eebc"/><rect y="160.1" height="1.0" fill="#f3f1c9"/><rect y="161.1" height="1.0" fill="#f3f1c8"/><rect y="162.1" height="1.0" fill="#f3f1c7"/><rect y="163.1" height="1.0" fill="#f2f2ce"/><rect y="164.1" height="1.0" fill="#f3f1c9"/><rect y="165.1" height="1.0" fill="#f2f2cd"/><rect y="166.1" height="1.0" fill="#f3f1cb"/><rect y="167.1" height="1.0" fill="#f3f1ca"/><rect y="168.1" height="1.0" fill="#f2f2d0"/><rect y="169.1" height="1.0" fill="#f4f0c0"/><rect y="170.1" height="1.0" fill="#f3f1c6"/><rect y="171.1" height="1.0" fill="#f4f0bf"/><rect y="172.1" height="1.0" fill="#f0f1d3"/><rect y="173.1" height="1.0" fill="#f2f2cc"/><rect y="174.1" height="1.0" fill="#f3f1c8"/><rect y="175.1" height="1.0" fill="#f4e5aa"/><rect y="176.1" height="2.0" fill="#f3f1c8"/><rect y="178.1" height="0.7" fill="#edf0da"/></g><g transform="translate(172.20,0)"><rect y="155.1" height="1.0" fill="#f4ecb4"/><rect y="156.1" height="1.0" fill="#f4efbd"/><rect y="157.1" height="1.0" fill="#f4e3a7"/><rect y="158.1" height="1.0" fill="#f4eab0"/><rect y="159.1" height="1.0" fill="#f4e7ad"/><rect y="160.1" height="1.0" fill="#f4ebb3"/><rect y="161.1" height="1.0" fill="#f4e8ae"/><rect y="162.1" height="1.0" fill="#f4ebb2"/><rect y="163.1" height="1.0" fill="#f4ecb6"/><rect y="164.1" height="1.0" fill="#f4e6ac"/><rect y="165.1" height="1.0" fill="#f4ecb5"/><rect y="166.1" height="1.0" fill="#f4eeba"/><rect y="167.1" height="1.0" fill="#f4ecb3"/><rect y="168.1" height="1.0" fill="#f4edb8"/><rect y="169.1" height="1.0" fill="#f4e0a2"/><rect y="170.1" height="1.0" fill="#f4edb8"/><rect y="171.1" height="1.0" fill="#f4ecb6"/><rect y="172.1" height="1.0" fill="#f4ecb4"/><rect y="173.1" height="1.0" fill="#f4e3a7"/><rect y="174.1" height="1.0" fill="#f4e6ab"/><rect y="175.1" height="1.0" fill="#f4ecb4"/><rect y="176.1" height="1.0" fill="#f4e9af"/><rect y="177.1" height="1.0" fill="#f4eab0"/><rect y="178.1" height="0.7" fill="#f4edb8"/></g><g transform="translate(178.90,0)"><rect y="155.1" height="1.0" fill="#f4ecb5"/><rect y="156.1" height="1.0" fill="#f4f0bf"/><rect y="157.1" height="1.0" fill="#f4ebb2"/><rect y="158.1" height="1.0" fill="#f4efbc"/><rect y="159.1" height="1.0" fill="#f4f0c2"/><rect y="160.1" height="1.0" fill="#f4edb7"/><rect y="161.1" height="1.0" fill="#f4eeba"/><rect y="162.1" height="1.0" fill="#f4efbc"/><rect y="163.1" height="1.0" fill="#f4ebb3"/><rect y="164.1" height="1.0" fill="#f4eab0"/><rect y="165.1" height="1.0" fill="#f4f0c3"/><rect y="166.1" height="1.0" fill="#f1f2d3"/><rect y="167.1" height="1.0" fill="#f4efbe"/><rect y="168.1" height="1.0" fill="#f4efbc"/><rect y="169.1" height="1.0" fill="#f4f0bf"/><rect y="170.1" height="1.0" fill="#f3f1c5"/><rect y="171.1" height="1.0" fill="#f4e9b0"/><rect y="172.1" height="1.0" fill="#f4eeb9"/><rect y="173.1" height="1.0" fill="#f4eebc"/><rect y="174.1" height="1.0" fill="#f4edb7"/><rect y="175.1" height="1.0" fill="#f4ecb3"/><rect y="176.1" height="1.0" fill="#f4f0bf"/><rect y="177.1" height="1.0" fill="#f4ecb5"/><rect y="178.1" height="0.7" fill="#f4edb7"/></g><g transform="translate(185.60,0)"><rect y="155.1" height="1.0" fill="#f4ebb2"/><rect y="156.1" height="1.0" fill="#f4f0c1"/><rect y="157.1" height="1.0" fill="#f4efbd"/><rect y="158.1" height="1.0" fill="#f4eebb"/><rect y="159.1" height="1.0" fill="#f4f0c1"/><rect y="160.1" height="1.0" fill="#f4f0c3"/><rect y="161.1" height="1.0" fill="#f4efbc"/><rect y="162.1" height="1.0" fill="#f4efbe"/><rect y="163.1" height="1.0" fill="#f4edb8"/><rect y="164.1" height="1.0" fill="#f4eebb"/><rect y="165.1" height="1.0" fill="#f4f0c3"/><rect y="166.1" height="1.0" fill="#f4efbe"/><rect y="167.1" height="1.0" fill="#f4eebb"/><rect y="168.1" height="1.0" fill="#f4f0c2"/><rect y="169.1" height="1.0" fill="#f4efbd"/><rect y="170.1" height="1.0" fill="#f4f0c2"/><rect y="171.1" height="1.0" fill="#f4efbe"/><rect y="172.1" height="1.0" fill="#f3f1c5"/><rect y="173.1" height="1.0" fill="#f4eebb"/><rect y="174.1" height="1.0" fill="#f3f1c6"/><rect y="175.1" height="1.0" fill="#f4f0bf"/><rect y="176.1" height="1.0" fill="#f4f0c4"/><rect y="177.1" height="1.0" fill="#f4f0c1"/><rect y="178.1" height="0.7" fill="#f4efbe"/></g><g transform="translate(192.30,0)"><rect y="155.1" height="1.0" fill="#f2f2cf"/><rect y="156.1" height="1.0" fill="#f4eeba"/><rect y="157.1" height="1.0" fill="#f3f1c5"/><rect y="158.1" height="1.0" fill="#f4eeb9"/><rect y="159.1" height="1.0" fill="#f4e9af"/><rect y="160.1" height="1.0" fill="#f4f0bf"/><rect y="161.1" height="1.0" fill="#f4f0c1"/><rect y="162.1" height="1.0" fill="#f4eeb9"/><rect y="163.1" height="1.0" fill="#f4edb9"/><rect y="164.1" height="1.0" fill="#f4eab1"/><rect y="165.1" height="1.0" fill="#f4e9b0"/><rect y="166.1" height="1.0" fill="#f4f0c4"/><rect y="167.1" height="1.0" fill="#f4f0c2"/><rect y="168.1" height="1.0" fill="#f4eeba"/><rect y="169.1" height="1.0" fill="#f4ebb2"/><rect y="170.1" height="1.0" fill="#f4f0c0"/><rect y="171.1" height="1.0" fill="#f4efbd"/><rect y="172.1" height="1.0" fill="#f4f0bf"/><rect y="173.1" height="1.0" fill="#f3f1c6"/><rect y="174.1" height="1.0" fill="#f4eebb"/><rect y="175.1" height="1.0" fill="#f4f0bf"/><rect y="176.1" height="1.0" fill="#f3f1c5"/><rect y="177.1" height="1.0" fill="#f4eeb9"/><rect y="178.1" height="0.7" fill="#f4f0c3"/></g><g transform="translate(199.00,0)"><rect y="155.1" height="1.0" fill="#f4dd9f"/><rect y="156.1" height="1.0" fill="#f4e4a8"/><rect y="157.1" height="1.0" fill="#f4e3a7"/><rect y="158.1" height="1.0" fill="#f4eab0"/><rect y="159.1" height="1.0" fill="#f4ecb4"/><rect y="160.1" height="1.0" fill="#f4e3a8"/><rect y="161.1" height="1.0" fill="#f4e5aa"/><rect y="162.1" height="1.0" fill="#f4e0a3"/><rect y="163.1" height="1.0" fill="#f4ebb3"/><rect y="164.1" height="1.0" fill="#f4ecb4"/><rect y="165.1" height="1.0" fill="#f4e7ac"/><rect y="166.1" height="1.0" fill="#f4eab0"/><rect y="167.1" height="1.0" fill="#f4e8ae"/><rect y="168.1" height="1.0" fill="#f4edb8"/><rect y="169.1" height="1.0" fill="#f4eab1"/><rect y="170.1" height="1.0" fill="#f4f0c2"/><rect y="171.1" height="1.0" fill="#f4e4a8"/><rect y="172.1" height="1.0" fill="#f4e1a4"/><rect y="173.1" height="1.0" fill="#f4e0a3"/><rect y="174.1" height="1.0" fill="#f4e3a7"/><rect y="175.1" height="1.0" fill="#f4ebb2"/><rect y="176.1" height="1.0" fill="#f4e4a9"/><rect y="177.1" height="1.0" fill="#f4e7ac"/><rect y="178.1" height="0.7" fill="#f4e1a4"/></g><g transform="translate(58.30,0)"><rect y="178.8" height="1.0" fill="#eff1d7"/><rect y="179.8" height="1.0" fill="#eaefdf"/><rect y="180.8" height="1.0" fill="#e8eee0"/><rect y="181.8" height="1.0" fill="#eaefde"/><rect y="182.8" height="1.0" fill="#eff1d6"/><rect y="183.8" height="1.0" fill="#dee9ea"/><rect y="184.8" height="4.0" fill="#eaefde"/><rect y="188.8" height="1.0" fill="#ecf0dc"/><rect y="189.8" height="2.0" fill="#eef1d8"/><rect y="191.8" height="1.0" fill="#ebf0dd"/><rect y="192.8" height="1.0" fill="#eff1d6"/><rect y="193.8" height="1.0" fill="#edf0da"/><rect y="194.8" height="1.0" fill="#f0f1d3"/><rect y="195.8" height="1.0" fill="#e9efdf"/><rect y="196.8" height="1.0" fill="#e5ece5"/><rect y="197.8" height="1.0" fill="#e8eee0"/><rect y="198.8" height="1.0" fill="#ebf0dd"/><rect y="199.8" height="1.0" fill="#e6ede2"/><rect y="200.8" height="1.0" fill="#eff1d7"/><rect y="201.8" height="1.0" fill="#f0f1d4"/><rect y="202.8" height="1.0" fill="#e5ece4"/><rect y="203.8" height="1.0" fill="#edf0db"/><rect y="204.8" height="1.0" fill="#eef1d8"/><rect y="205.8" height="1.0" fill="#eef1d7"/><rect y="206.8" height="1.0" fill="#e9eee0"/><rect y="207.8" height="1.0" fill="#ecf0dc"/><rect y="208.8" height="1.0" fill="#ebf0dd"/><rect y="209.8" height="1.0" fill="#ebefde"/><rect y="210.8" height="1.0" fill="#eef1d8"/><rect y="211.8" height="1.0" fill="#e8eee1"/><rect y="212.8" height="1.0" fill="#d0e0eb"/><rect y="213.8" height="1.0" fill="#eff1d5"/><rect y="214.8" height="1.0" fill="#e8eee0"/><rect y="215.8" height="1.0" fill="#e8eee1"/><rect y="216.8" height="1.0" fill="#f2f2ce"/><rect y="217.8" height="1.0" fill="#edf0da"/><rect y="218.8" height="1.0" fill="#f2f2d0"/><rect y="219.8" height="1.0" fill="#eff1d6"/><rect y="220.8" height="1.0" fill="#eef1d7"/><rect y="221.8" height="1.0" fill="#f2f2ce"/><rect y="222.8" height="1.0" fill="#e5ede4"/><rect y="223.8" height="1.0" fill="#f2f2d0"/><rect y="224.8" height="1.0" fill="#ebefde"/><rect y="225.8" height="1.0" fill="#e9efdf"/><rect y="226.8" height="1.0" fill="#edf0db"/><rect y="227.8" height="1.0" fill="#eaefdf"/><rect y="228.8" height="0.2" fill="#e8eee0"/></g><g transform="translate(65.00,0)"><rect y="178.8" height="1.0" fill="#f2f2d0"/><rect y="179.8" height="1.0" fill="#f3f1c8"/><rect y="180.8" height="1.0" fill="#f2f2cd"/><rect y="181.8" height="1.0" fill="#f3f1c8"/><rect y="182.8" height="1.0" fill="#f3f1c4"/><rect y="183.8" height="1.0" fill="#f4f0c0"/><rect y="184.8" height="1.0" fill="#f2f2cf"/><rect y="185.8" height="1.0" fill="#e5ece4"/><rect y="186.8" height="1.0" fill="#f2f2cd"/><rect y="187.8" height="1.0" fill="#f3f1c8"/><rect y="188.8" height="1.0" fill="#f3f1cb"/><rect y="189.8" height="1.0" fill="#eef1d9"/><rect y="190.8" height="1.0" fill="#f4f0c0"/><rect y="191.8" height="1.0" fill="#f2f2d0"/><rect y="192.8" height="1.0" fill="#f3f1cc"/><rect y="193.8" height="1.0" fill="#f4f0c3"/><rect y="194.8" height="1.0" fill="#f4f0bf"/><rect y="195.8" height="1.0" fill="#f3f1c6"/><rect y="196.8" height="1.0" fill="#f3f1c9"/><rect y="197.8" height="1.0" fill="#f3f1c4"/><rect y="198.8" height="1.0" fill="#f4f0c2"/><rect y="199.8" height="1.0" fill="#f0f1d3"/><rect y="200.8" height="1.0" fill="#f3f1c6"/><rect y="201.8" height="1.0" fill="#f2f2cd"/><rect y="202.8" height="1.0" fill="#f3f1c5"/><rect y="203.8" height="1.0" fill="#f1f2d3"/><rect y="204.8" height="1.0" fill="#f4f0c4"/><rect y="205.8" height="1.0" fill="#f3f1c9"/><rect y="206.8" height="2.0" fill="#f3f1ca"/><rect y="208.8" height="2.0" fill="#f3f1cb"/><rect y="210.8" height="1.0" fill="#f3f1c8"/><rect y="211.8" height="1.0" fill="#f4f0c0"/><rect y="212.8" height="1.0" fill="#f3f1c9"/><rect y="213.8" height="1.0" fill="#f2f2ce"/><rect y="214.8" height="1.0" fill="#f2f2cd"/><rect y="215.8" height="1.0" fill="#f3f1cb"/><rect y="216.8" height="1.0" fill="#f3f1c5"/><rect y="217.8" height="1.0" fill="#f2f2d0"/><rect y="218.8" height="1.0" fill="#f4f0c3"/><rect y="219.8" height="1.0" fill="#f4eeba"/><rect y="220.8" height="1.0" fill="#f3f1cb"/><rect y="221.8" height="1.0" fill="#f4f0c2"/><rect y="222.8" height="1.0" fill="#f4f0c1"/><rect y="223.8" height="1.0" fill="#f4f0bf"/><rect y="224.8" height="1.0" fill="#f3f1c6"/><rect y="225.8" height="1.0" fill="#f2f2cc"/><rect y="226.8" height="1.0" fill="#f1f2d3"/><rect y="227.8" height="1.0" fill="#eff1d6"/><rect y="228.8" height="0.2" fill="#f2f2ce"/></g><g transform="translate(71.70,0)"><rect y="178.8" height="1.0" fill="#f2f2cf"/><rect y="179.8" height="1.0" fill="#f3f1c8"/><rect y="180.8" height="1.0" fill="#f2f2cd"/><rect y="181.8" height="1.0" fill="#f3f1c9"/><rect y="182.8" height="1.0" fill="#f3f1c8"/><rect y="183.8" height="1.0" fill="#f2f2d1"/><rect y="184.8" height="1.0" fill="#f4eebb"/><rect y="185.8" height="1.0" fill="#eef1d9"/><rect y="186.8" height="1.0" fill="#f3f1c8"/><rect y="187.8" height="1.0" fill="#f3f1c5"/><rect y="188.8" height="1.0" fill="#f2f2cd"/><rect y="189.8" height="1.0" fill="#f3f1c8"/><rect y="190.8" height="1.0" fill="#f1f2d1"/><rect y="191.8" height="1.0" fill="#f4efbe"/><rect y="192.8" height="1.0" fill="#f4f0c3"/><rect y="193.8" height="1.0" fill="#f1f2d2"/><rect y="194.8" height="1.0" fill="#f3f1cc"/><rect y="195.8" height="1.0" fill="#f4eeba"/><rect y="196.8" height="1.0" fill="#f4efbe"/><rect y="197.8" height="1.0" fill="#f2f2cd"/><rect y="198.8" height="1.0" fill="#f4efbd"/><rect y="199.8" height="1.0" fill="#eff1d6"/><rect y="200.8" height="1.0" fill="#f3f1c5"/><rect y="201.8" height="1.0" fill="#f3f1cb"/><rect y="202.8" height="1.0" fill="#f1f2d1"/><rect y="203.8" height="1.0" fill="#f3f1c9"/><rect y="204.8" height="1.0" fill="#f4f0c1"/><rect y="205.8" height="2.0" fill="#f4f0c0"/><rect y="207.8" height="1.0" fill="#eff1d7"/><rect y="208.8" height="1.0" fill="#f4f0c2"/><rect y="209.8" height="1.0" fill="#f3f1c5"/><rect y="210.8" height="1.0" fill="#f3f1c9"/><rect y="211.8" height="1.0" fill="#eef1d8"/><rect y="212.8" height="1.0" fill="#f4eebb"/><rect y="213.8" height="1.0" fill="#f3f1cb"/><rect y="214.8" height="1.0" fill="#f2f2d0"/><rect y="215.8" height="1.0" fill="#f3f1c6"/><rect y="216.8" height="1.0" fill="#f4efbd"/><rect y="217.8" height="1.0" fill="#f4ecb6"/><rect y="218.8" height="1.0" fill="#eff1d7"/><rect y="219.8" height="1.0" fill="#f4f0c1"/><rect y="220.8" height="1.0" fill="#f3f1c8"/><rect y="221.8" height="1.0" fill="#f3f1c6"/><rect y="222.8" height="1.0" fill="#eff1d7"/><rect y="223.8" height="1.0" fill="#f4efbd"/><rect y="224.8" height="1.0" fill="#f4f0c0"/><rect y="225.8" height="1.0" fill="#f3f1c6"/><rect y="226.8" height="1.0" fill="#f2f2cf"/><rect y="227.8" height="1.0" fill="#f3f1cc"/><rect y="228.8" height="0.2" fill="#f3f1c9"/></g><g transform="translate(78.40,0)"><rect y="178.8" height="1.0" fill="#f0f1d4"/><rect y="179.8" height="1.0" fill="#f2f2d1"/><rect y="180.8" height="1.0" fill="#f3f1c6"/><rect y="181.8" height="1.0" fill="#f2f2ce"/><rect y="182.8" height="1.0" fill="#f0f1d3"/><rect y="183.8" height="1.0" fill="#e5ede4"/><rect y="184.8" height="1.0" fill="#f2f2cc"/><rect y="185.8" height="1.0" fill="#f2f2cf"/><rect y="186.8" height="1.0" fill="#f2f2cc"/><rect y="187.8" height="1.0" fill="#e8eee1"/><rect y="188.8" height="1.0" fill="#f2f2d1"/><rect y="189.8" height="1.0" fill="#f2f2ce"/><rect y="190.8" height="1.0" fill="#f1f2d3"/><rect y="191.8" height="1.0" fill="#dfe9ea"/><rect y="192.8" height="2.0" fill="#f0f1d4"/><rect y="194.8" height="1.0" fill="#f2f2d0"/><rect y="195.8" height="1.0" fill="#f2f2cd"/><rect y="196.8" height="1.0" fill="#f2f2ce"/><rect y="197.8" height="1.0" fill="#eef1d7"/><rect y="198.8" height="1.0" fill="#f1f2d2"/><rect y="199.8" height="1.0" fill="#f2f2cf"/><rect y="200.8" height="1.0" fill="#f3f1c7"/><rect y="201.8" height="1.0" fill="#edf0d9"/><rect y="202.8" height="2.0" fill="#f2f2cc"/><rect y="204.8" height="1.0" fill="#f3f1c8"/><rect y="205.8" height="1.0" fill="#f2f2d0"/><rect y="206.8" height="1.0" fill="#f1f2d2"/><rect y="207.8" height="1.0" fill="#ecf0dc"/><rect y="208.8" height="1.0" fill="#eef1d8"/><rect y="209.8" height="1.0" fill="#f1f2d1"/><rect y="210.8" height="1.0" fill="#f3f1cb"/><rect y="211.8" height="1.0" fill="#f2f2ce"/><rect y="212.8" height="1.0" fill="#f3f1c4"/><rect y="213.8" height="1.0" fill="#f2f2d0"/><rect y="214.8" height="1.0" fill="#f4f0c3"/><rect y="215.8" height="1.0" fill="#f2f2d0"/><rect y="216.8" height="1.0" fill="#f4eeba"/><rect y="217.8" height="1.0" fill="#ecf0db"/><rect y="218.8" height="1.0" fill="#f2f2cc"/><rect y="219.8" height="1.0" fill="#f2f2ce"/><rect y="220.8" height="1.0" fill="#ecf0db"/><rect y="221.8" height="1.0" fill="#f4ebb2"/><rect y="222.8" height="1.0" fill="#f3f1cb"/><rect y="223.8" height="1.0" fill="#f3f1c9"/><rect y="224.8" height="1.0" fill="#f0f1d4"/><rect y="225.8" height="1.0" fill="#e9efdf"/><rect y="226.8" height="1.0" fill="#f4e9b0"/><rect y="227.8" height="1.2" fill="#f2f2cf"/></g><g transform="translate(85.10,0)"><rect y="178.8" height="1.0" fill="#f2f2d0"/><rect y="179.8" height="1.0" fill="#f3f1cc"/><rect y="180.8" height="1.0" fill="#f1f2d3"/><rect y="181.8" height="1.0" fill="#f4eeb9"/><rect y="182.8" height="1.0" fill="#e6ede3"/><rect y="183.8" height="1.0" fill="#edf0d9"/><rect y="184.8" height="1.0" fill="#f2f2cf"/><rect y="185.8" height="1.0" fill="#eff1d5"/><rect y="186.8" height="1.0" fill="#f4f0c1"/><rect y="187.8" height="1.0" fill="#edf0da"/><rect y="188.8" height="1.0" fill="#f3f1c9"/><rect y="189.8" height="1.0" fill="#f1f2d2"/><rect y="190.8" height="1.0" fill="#eff1d6"/><rect y="191.8" height="1.0" fill="#f0f1d4"/><rect y="192.8" height="1.0" fill="#f3f1c9"/><rect y="193.8" height="1.0" fill="#ecf0db"/><rect y="194.8" height="1.0" fill="#eff1d5"/><rect y="195.8" height="1.0" fill="#f0f1d4"/><rect y="196.8" height="1.0" fill="#f3f1c7"/><rect y="197.8" height="1.0" fill="#eef1d7"/><rect y="198.8" height="1.0" fill="#f2f2cf"/><rect y="199.8" height="1.0" fill="#f2f2cc"/><rect y="200.8" height="1.0" fill="#eff1d7"/><rect y="201.8" height="1.0" fill="#f0f1d4"/><rect y="202.8" height="1.0" fill="#eef1d7"/><rect y="203.8" height="1.0" fill="#f4f0c2"/><rect y="204.8" height="1.0" fill="#f2f2d1"/><rect y="205.8" height="1.0" fill="#f0f1d4"/><rect y="206.8" height="1.0" fill="#f1f2d2"/><rect y="207.8" height="1.0" fill="#f3f1cb"/><rect y="208.8" height="1.0" fill="#f0f1d3"/><rect y="209.8" height="1.0" fill="#f3f1c8"/><rect y="210.8" height="1.0" fill="#f0f1d5"/><rect y="211.8" height="1.0" fill="#f3f1cb"/><rect y="212.8" height="1.0" fill="#f4f0c3"/><rect y="213.8" height="1.0" fill="#f3f1cb"/><rect y="214.8" height="1.0" fill="#f2f2cd"/><rect y="215.8" height="1.0" fill="#f2f2ce"/><rect y="216.8" height="1.0" fill="#f4f0bf"/><rect y="217.8" height="1.0" fill="#f2f2d0"/><rect y="218.8" height="1.0" fill="#f2f2ce"/><rect y="219.8" height="1.0" fill="#f3f1c7"/><rect y="220.8" height="1.0" fill="#f0f1d3"/><rect y="221.8" height="1.0" fill="#eff1d6"/><rect y="222.8" height="1.0" fill="#f2f2cc"/><rect y="223.8" height="1.0" fill="#eef1d8"/><rect y="224.8" height="1.0" fill="#eff1d7"/><rect y="225.8" height="1.0" fill="#edf0da"/><rect y="226.8" height="1.0" fill="#f0f1d3"/><rect y="227.8" height="1.2" fill="#f2f2d0"/></g><g transform="translate(91.80,0)"><rect y="178.8" height="1.0" fill="#f4e2a5"/><rect y="179.8" height="1.0" fill="#f4e0a3"/><rect y="180.8" height="1.0" fill="#f4e7ac"/><rect y="181.8" height="1.0" fill="#f4e2a6"/><rect y="182.8" height="1.0" fill="#f4e1a4"/><rect y="183.8" height="1.0" fill="#f4dea1"/><rect y="184.8" height="1.0" fill="#f4e2a6"/><rect y="185.8" height="1.0" fill="#f4edb7"/><rect y="186.8" height="1.0" fill="#f4e9af"/><rect y="187.8" height="1.0" fill="#f4e8ae"/><rect y="188.8" height="1.0" fill="#f4ebb2"/><rect y="189.8" height="1.0" fill="#f4e5aa"/><rect y="190.8" height="1.0" fill="#f4e0a3"/><rect y="191.8" height="1.0" fill="#f4dd9e"/><rect y="192.8" height="1.0" fill="#f4ecb4"/><rect y="193.8" height="1.0" fill="#f4e3a7"/><rect y="194.8" height="1.0" fill="#f4e4a8"/><rect y="195.8" height="1.0" fill="#f4dfa2"/><rect y="196.8" height="1.0" fill="#f4e8ae"/><rect y="197.8" height="1.0" fill="#f4e5aa"/><rect y="198.8" height="1.0" fill="#f4e7ac"/><rect y="199.8" height="1.0" fill="#f4dc9e"/><rect y="200.8" height="1.0" fill="#f4e2a5"/><rect y="201.8" height="1.0" fill="#f4ebb2"/><rect y="202.8" height="1.0" fill="#f4e4a8"/><rect y="203.8" height="1.0" fill="#f4eeba"/><rect y="204.8" height="1.0" fill="#f4e8ae"/><rect y="205.8" height="1.0" fill="#f4e7ad"/><rect y="206.8" height="1.0" fill="#f4f0bf"/><rect y="207.8" height="1.0" fill="#f4ecb4"/><rect y="208.8" height="1.0" fill="#f4e9af"/><rect y="209.8" height="1.0" fill="#f4dea1"/><rect y="210.8" height="1.0" fill="#f4e8ad"/><rect y="211.8" height="1.0" fill="#f4e7ad"/><rect y="212.8" height="1.0" fill="#f4ebb2"/><rect y="213.8" height="1.0" fill="#f4eab1"/><rect y="214.8" height="1.0" fill="#f4ebb2"/><rect y="215.8" height="1.0" fill="#f4eab1"/><rect y="216.8" height="1.0" fill="#f4dfa1"/><rect y="217.8" height="1.0" fill="#f4e5a9"/><rect y="218.8" height="1.0" fill="#f4e6ab"/><rect y="219.8" height="1.0" fill="#f4dd9e"/><rect y="220.8" height="1.0" fill="#f4e1a5"/><rect y="221.8" height="1.0" fill="#f4e3a7"/><rect y="222.8" height="1.0" fill="#f4eab1"/><rect y="223.8" height="1.0" fill="#f4eeba"/><rect y="224.8" height="1.0" fill="#f4e3a8"/><rect y="225.8" height="1.0" fill="#f4e8ae"/><rect y="226.8" height="1.0" fill="#f4e6ab"/><rect y="227.8" height="1.0" fill="#f4e5a9"/><rect y="228.8" height="0.2" fill="#f4eab1"/></g><g transform="translate(98.50,0)"><rect y="178.8" height="1.0" fill="#f4eab1"/><rect y="179.8" height="1.0" fill="#f3d596"/><rect y="180.8" height="1.0" fill="#f3d99a"/><rect y="181.8" height="1.0" fill="#f4da9b"/><rect y="182.8" height="1.0" fill="#f4da9c"/><rect y="183.8" height="1.0" fill="#f4e6ab"/><rect y="184.8" height="1.0" fill="#f4e0a3"/><rect y="185.8" height="1.0" fill="#f4e5aa"/><rect y="186.8" height="1.0" fill="#f4e0a3"/><rect y="187.8" height="1.0" fill="#f4da9b"/><rect y="188.8" height="1.0" fill="#f3d293"/><rect y="189.8" height="1.0" fill="#f4e2a5"/><rect y="190.8" height="1.0" fill="#f3d596"/><rect y="191.8" height="1.0" fill="#f3d597"/><rect y="192.8" height="1.0" fill="#f4dfa2"/><rect y="193.8" height="1.0" fill="#f4da9c"/><rect y="194.8" height="1.0" fill="#f4e7ac"/><rect y="195.8" height="1.0" fill="#f4e6ab"/><rect y="196.8" height="1.0" fill="#f4e2a5"/><rect y="197.8" height="1.0" fill="#f4dd9f"/><rect y="198.8" height="1.0" fill="#f4dea0"/><rect y="199.8" height="1.0" fill="#f4e1a4"/><rect y="200.8" height="1.0" fill="#f4db9c"/><rect y="201.8" height="1.0" fill="#f4e2a6"/><rect y="202.8" height="1.0" fill="#f4dea0"/><rect y="203.8" height="1.0" fill="#f4e0a2"/><rect y="204.8" height="1.0" fill="#f3d799"/><rect y="205.8" height="1.0" fill="#f4e3a7"/><rect y="206.8" height="1.0" fill="#f4da9c"/><rect y="207.8" height="1.0" fill="#f4e2a5"/><rect y="208.8" height="1.0" fill="#f3d99a"/><rect y="209.8" height="1.0" fill="#f4db9d"/><rect y="210.8" height="1.0" fill="#f4e3a7"/><rect y="211.8" height="1.0" fill="#f3d99b"/><rect y="212.8" height="1.0" fill="#f4db9c"/><rect y="213.8" height="2.0" fill="#f4e0a3"/><rect y="215.8" height="1.0" fill="#f4dd9f"/><rect y="216.8" height="1.0" fill="#f4dc9e"/><rect y="217.8" height="1.0" fill="#f3d99a"/><rect y="218.8" height="1.0" fill="#f4dfa1"/><rect y="219.8" height="1.0" fill="#f4db9d"/><rect y="220.8" height="1.0" fill="#f4e1a4"/><rect y="221.8" height="1.0" fill="#f4dea0"/><rect y="222.8" height="1.0" fill="#f4e4a9"/><rect y="223.8" height="1.0" fill="#f4e2a5"/><rect y="224.8" height="1.0" fill="#f4dc9e"/><rect y="225.8" height="1.0" fill="#f4dd9f"/><rect y="226.8" height="1.0" fill="#f4dea0"/><rect y="227.8" height="1.0" fill="#f4dfa2"/><rect y="228.8" height="0.2" fill="#f4de9f"/></g><g transform="translate(105.20,0)"><rect y="178.8" height="1.0" fill="#f4ecb4"/><rect y="179.8" height="1.0" fill="#f4e6ab"/><rect y="180.8" height="1.0" fill="#f4e5aa"/><rect y="181.8" height="1.0" fill="#f4efbc"/><rect y="182.8" height="1.0" fill="#f4e7ac"/><rect y="183.8" height="1.0" fill="#f4eab0"/><rect y="184.8" height="1.0" fill="#f4e6ac"/><rect y="185.8" height="1.0" fill="#f4e0a3"/><rect y="186.8" height="1.0" fill="#f4e5a9"/><rect y="187.8" height="1.0" fill="#f3f1c7"/><rect y="188.8" height="1.0" fill="#f4edb7"/><rect y="189.8" height="1.0" fill="#f4e5aa"/><rect y="190.8" height="1.0" fill="#f4edb9"/><rect y="191.8" height="1.0" fill="#f4e8ae"/><rect y="192.8" height="1.0" fill="#f4e7ac"/><rect y="193.8" height="1.0" fill="#f4eab1"/><rect y="194.8" height="1.0" fill="#f4e6ab"/><rect y="195.8" height="1.0" fill="#f4e4a8"/><rect y="196.8" height="1.0" fill="#f4e7ac"/><rect y="197.8" height="1.0" fill="#f4e4a9"/><rect y="198.8" height="1.0" fill="#f4e2a6"/><rect y="199.8" height="1.0" fill="#f4e3a7"/><rect y="200.8" height="1.0" fill="#f4e6ac"/><rect y="201.8" height="2.0" fill="#f4e1a4"/><rect y="203.8" height="1.0" fill="#f4e2a5"/><rect y="204.8" height="1.0" fill="#f4e5aa"/><rect y="205.8" height="1.0" fill="#f4e2a6"/><rect y="206.8" height="1.0" fill="#f4e4a8"/><rect y="207.8" height="1.0" fill="#f4e2a6"/><rect y="208.8" height="1.0" fill="#f4e5aa"/><rect y="209.8" height="1.0" fill="#f4e9af"/><rect y="210.8" height="1.0" fill="#f4e7ad"/><rect y="211.8" height="1.0" fill="#f4e4a9"/><rect y="212.8" height="1.0" fill="#f2cf8f"/><rect y="213.8" height="1.0" fill="#f4e5a9"/><rect y="214.8" height="1.0" fill="#f4ebb1"/><rect y="215.8" height="1.0" fill="#f4e9af"/><rect y="216.8" height="1.0" fill="#f4f0c1"/><rect y="217.8" height="1.0" fill="#f4eab1"/><rect y="218.8" height="1.0" fill="#f4efbd"/><rect y="219.8" height="1.0" fill="#f4ebb2"/><rect y="220.8" height="1.0" fill="#f4e1a4"/><rect y="221.8" height="1.0" fill="#f4e2a6"/><rect y="222.8" height="1.0" fill="#f4e5aa"/><rect y="223.8" height="1.0" fill="#f4e8af"/><rect y="224.8" height="1.0" fill="#f4e5a9"/><rect y="225.8" height="1.0" fill="#f4e5aa"/><rect y="226.8" height="1.0" fill="#f4ebb1"/><rect y="227.8" height="1.0" fill="#f4eab1"/><rect y="228.8" height="0.2" fill="#f4e6ab"/></g><g transform="translate(111.90,0)"><rect y="178.8" height="1.0" fill="#f4e4a9"/><rect y="179.8" height="1.0" fill="#f4ebb2"/><rect y="180.8" height="1.0" fill="#f4e7ad"/><rect y="181.8" height="1.0" fill="#f4e4a8"/><rect y="182.8" height="1.0" fill="#f4e3a7"/><rect y="183.8" height="1.0" fill="#f4dfa1"/><rect y="184.8" height="1.0" fill="#f4ebb2"/><rect y="185.8" height="1.0" fill="#f3d393"/><rect y="186.8" height="1.0" fill="#f4ebb2"/><rect y="187.8" height="1.0" fill="#f4e4a8"/><rect y="188.8" height="1.0" fill="#f4e5aa"/><rect y="189.8" height="1.0" fill="#f4e4a9"/><rect y="190.8" height="1.0" fill="#f4edb7"/><rect y="191.8" height="1.0" fill="#f4e8ad"/><rect y="192.8" height="1.0" fill="#f4e4a8"/><rect y="193.8" height="1.0" fill="#f4e2a6"/><rect y="194.8" height="1.0" fill="#f4e1a5"/><rect y="195.8" height="1.0" fill="#f4e4a8"/><rect y="196.8" height="1.0" fill="#f4e8ad"/><rect y="197.8" height="1.0" fill="#f4db9d"/><rect y="198.8" height="2.0" fill="#f4e6ab"/><rect y="200.8" height="1.0" fill="#f4e0a3"/><rect y="201.8" height="1.0" fill="#f4e2a5"/><rect y="202.8" height="1.0" fill="#f4ebb3"/><rect y="203.8" height="1.0" fill="#f4ebb2"/><rect y="204.8" height="1.0" fill="#f4e2a5"/><rect y="205.8" height="1.0" fill="#f4dea1"/><rect y="206.8" height="1.0" fill="#f4e7ad"/><rect y="207.8" height="1.0" fill="#f4e3a7"/><rect y="208.8" height="1.0" fill="#f4ebb2"/><rect y="209.8" height="1.0" fill="#f4e7ad"/><rect y="210.8" height="1.0" fill="#f4e8ad"/><rect y="211.8" height="1.0" fill="#f4e7ad"/><rect y="212.8" height="1.0" fill="#f4e6ab"/><rect y="213.8" height="1.0" fill="#f4e7ac"/><rect y="214.8" height="1.0" fill="#f4e8ad"/><rect y="215.8" height="1.0" fill="#f4dd9e"/><rect y="216.8" height="1.0" fill="#f4e3a7"/><rect y="217.8" height="1.0" fill="#f4e5a9"/><rect y="218.8" height="1.0" fill="#f4dd9f"/><rect y="219.8" height="1.0" fill="#f4e3a7"/><rect y="220.8" height="1.0" fill="#f4e2a6"/><rect y="221.8" height="1.0" fill="#f4e4a9"/><rect y="222.8" height="1.0" fill="#f4e8ae"/><rect y="223.8" height="1.0" fill="#f4e4a8"/><rect y="224.8" height="1.0" fill="#f4dc9e"/><rect y="225.8" height="1.0" fill="#f4e6ab"/><rect y="226.8" height="1.0" fill="#f4e0a3"/><rect y="227.8" height="1.0" fill="#f4e8ae"/><rect y="228.8" height="0.2" fill="#f4e6ab"/></g><g transform="translate(118.60,0)"><rect y="178.8" height="1.0" fill="#f4da9c"/><rect y="179.8" height="1.0" fill="#f4e1a5"/><rect y="180.8" height="1.0" fill="#f3d596"/><rect y="181.8" height="1.0" fill="#f3d495"/><rect y="182.8" height="1.0" fill="#f3d899"/><rect y="183.8" height="1.0" fill="#f4dd9f"/><rect y="184.8" height="1.0" fill="#f3d596"/><rect y="185.8" height="1.0" fill="#f4e0a3"/><rect y="186.8" height="1.0" fill="#f4dfa2"/><rect y="187.8" height="1.0" fill="#f3d697"/><rect y="188.8" height="1.0" fill="#f4dd9f"/><rect y="189.8" height="1.0" fill="#f4e0a3"/><rect y="190.8" height="2.0" fill="#f3d899"/><rect y="192.8" height="1.0" fill="#f4db9d"/><rect y="193.8" height="1.0" fill="#f4dea0"/><rect y="194.8" height="1.0" fill="#f4da9c"/><rect y="195.8" height="1.0" fill="#f4e4a8"/><rect y="196.8" height="1.0" fill="#f3d596"/><rect y="197.8" height="1.0" fill="#f4dfa1"/><rect y="198.8" height="1.0" fill="#f4dea0"/><rect y="199.8" height="1.0" fill="#f3d99a"/><rect y="200.8" height="1.0" fill="#f3d99b"/><rect y="201.8" height="1.0" fill="#f4e0a3"/><rect y="202.8" height="1.0" fill="#f3d292"/><rect y="203.8" height="1.0" fill="#f3d99a"/><rect y="204.8" height="1.0" fill="#f4e6ab"/><rect y="205.8" height="1.0" fill="#f3d697"/><rect y="206.8" height="1.0" fill="#f4e5a9"/><rect y="207.8" height="1.0" fill="#f4dea0"/><rect y="208.8" height="1.0" fill="#f3d394"/><rect y="209.8" height="1.0" fill="#f3d596"/><rect y="210.8" height="1.0" fill="#f4e2a6"/><rect y="211.8" height="1.0" fill="#f4e4a9"/><rect y="212.8" height="1.0" fill="#f4e1a4"/><rect y="213.8" height="1.0" fill="#f4e3a7"/><rect y="214.8" height="1.0" fill="#f4dea0"/><rect y="215.8" height="1.0" fill="#f3d899"/><rect y="216.8" height="1.0" fill="#f4e5a9"/><rect y="217.8" height="1.0" fill="#f4e4a8"/><rect y="218.8" height="1.0" fill="#f2cf8f"/><rect y="219.8" height="1.0" fill="#f4e2a5"/><rect y="220.8" height="1.0" fill="#f4dc9e"/><rect y="221.8" height="1.0" fill="#f4e0a3"/><rect y="222.8" height="1.0" fill="#f4dd9f"/><rect y="223.8" height="1.0" fill="#f4e0a3"/><rect y="224.8" height="1.0" fill="#f4dc9e"/><rect y="225.8" height="1.0" fill="#f4e4a8"/><rect y="226.8" height="1.0" fill="#f4dfa2"/><rect y="227.8" height="1.0" fill="#f4dc9d"/><rect y="228.8" height="0.2" fill="#f4dea0"/></g><g transform="translate(125.30,0)"><rect y="178.8" height="1.0" fill="#f3d99b"/><rect y="179.8" height="1.0" fill="#f4dd9f"/><rect y="180.8" height="1.0" fill="#f4e0a2"/><rect y="181.8" height="1.0" fill="#f4e8ae"/><rect y="182.8" height="1.0" fill="#f4eab1"/><rect y="183.8" height="1.0" fill="#f4e5aa"/><rect y="184.8" height="1.0" fill="#f4e2a6"/><rect y="185.8" height="1.0" fill="#f4dfa2"/><rect y="186.8" height="1.0" fill="#f4e3a7"/><rect y="187.8" height="1.0" fill="#f4e2a6"/><rect y="188.8" height="1.0" fill="#f4e0a3"/><rect y="189.8" height="1.0" fill="#f4e1a4"/><rect y="190.8" height="1.0" fill="#f4e0a2"/><rect y="191.8" height="1.0" fill="#f4e3a6"/><rect y="192.8" height="1.0" fill="#f4e3a7"/><rect y="193.8" height="1.0" fill="#f4dc9e"/><rect y="194.8" height="1.0" fill="#f4eab1"/><rect y="195.8" height="1.0" fill="#f3d899"/><rect y="196.8" height="1.0" fill="#f4e3a7"/><rect y="197.8" height="1.0" fill="#f4dd9f"/><rect y="198.8" height="1.0" fill="#f4dc9e"/><rect y="199.8" height="1.0" fill="#f4e6ab"/><rect y="200.8" height="1.0" fill="#f4e2a6"/><rect y="201.8" height="1.0" fill="#f4e6ab"/><rect y="202.8" height="1.0" fill="#f4e7ad"/><rect y="203.8" height="1.0" fill="#f4e6aa"/><rect y="204.8" height="1.0" fill="#f4dc9e"/><rect y="205.8" height="1.0" fill="#f4dfa2"/><rect y="206.8" height="1.0" fill="#f4e5aa"/><rect y="207.8" height="1.0" fill="#f4dea1"/><rect y="208.8" height="1.0" fill="#f4dfa1"/><rect y="209.8" height="1.0" fill="#f4e3a8"/><rect y="210.8" height="1.0" fill="#f4da9b"/><rect y="211.8" height="1.0" fill="#f4db9d"/><rect y="212.8" height="1.0" fill="#f4e7ad"/><rect y="213.8" height="1.0" fill="#f3d99a"/><rect y="214.8" height="1.0" fill="#f4de9f"/><rect y="215.8" height="1.0" fill="#f4e1a5"/><rect y="216.8" height="1.0" fill="#f4e2a6"/><rect y="217.8" height="1.0" fill="#f4e1a5"/><rect y="218.8" height="1.0" fill="#f4e2a6"/><rect y="219.8" height="1.0" fill="#f4e3a8"/><rect y="220.8" height="1.0" fill="#f4dfa2"/><rect y="221.8" height="2.0" fill="#f4e0a3"/><rect y="223.8" height="1.0" fill="#f4e2a6"/><rect y="224.8" height="1.0" fill="#f4e3a7"/><rect y="225.8" height="1.0" fill="#f4e4a9"/><rect y="226.8" height="1.0" fill="#f3d596"/><rect y="227.8" height="1.0" fill="#f4dea0"/><rect y="228.8" height="0.2" fill="#f4e1a4"/></g><g transform="translate(132.00,0)"><rect y="178.8" height="1.0" fill="#f4e3a6"/><rect y="179.8" height="1.0" fill="#f4dd9f"/><rect y="180.8" height="1.0" fill="#f4dc9d"/><rect y="181.8" height="1.0" fill="#f4e4a8"/><rect y="182.8" height="1.0" fill="#f4e1a4"/><rect y="183.8" height="1.0" fill="#f4e3a7"/><rect y="184.8" height="1.0" fill="#f4e7ac"/><rect y="185.8" height="1.0" fill="#f4e0a3"/><rect y="186.8" height="1.0" fill="#f4e6ab"/><rect y="187.8" height="1.0" fill="#f4e1a4"/><rect y="188.8" height="1.0" fill="#f4e6ac"/><rect y="189.8" height="2.0" fill="#f4e1a4"/><rect y="191.8" height="1.0" fill="#f4e2a5"/><rect y="192.8" height="1.0" fill="#f4e4a8"/><rect y="193.8" height="1.0" fill="#f4e5aa"/><rect y="194.8" height="1.0" fill="#f4e3a8"/><rect y="195.8" height="1.0" fill="#f4dd9f"/><rect y="196.8" height="1.0" fill="#f4e5a9"/><rect y="197.8" height="2.0" fill="#f4dfa1"/><rect y="199.8" height="1.0" fill="#f4e5a9"/><rect y="200.8" height="1.0" fill="#f4e1a4"/><rect y="201.8" height="1.0" fill="#f4e6ab"/><rect y="202.8" height="1.0" fill="#f4dc9e"/><rect y="203.8" height="2.0" fill="#f4e9af"/><rect y="205.8" height="1.0" fill="#f4e0a3"/><rect y="206.8" height="2.0" fill="#f4e5a9"/><rect y="208.8" height="1.0" fill="#f4dfa2"/><rect y="209.8" height="1.0" fill="#f3d89a"/><rect y="210.8" height="1.0" fill="#f4e7ad"/><rect y="211.8" height="1.0" fill="#f4e2a5"/><rect y="212.8" height="1.0" fill="#f4e1a4"/><rect y="213.8" height="1.0" fill="#f4dfa2"/><rect y="214.8" height="1.0" fill="#f4dd9e"/><rect y="215.8" height="1.0" fill="#f4e4a8"/><rect y="216.8" height="1.0" fill="#f4e0a2"/><rect y="217.8" height="1.0" fill="#f3d799"/><rect y="218.8" height="1.0" fill="#f4e0a3"/><rect y="219.8" height="1.0" fill="#f4e2a6"/><rect y="220.8" height="1.0" fill="#f4dea0"/><rect y="221.8" height="1.0" fill="#f4da9c"/><rect y="222.8" height="1.0" fill="#f4e3a6"/><rect y="223.8" height="1.0" fill="#f4e2a6"/><rect y="224.8" height="1.0" fill="#f4dc9e"/><rect y="225.8" height="1.0" fill="#f4e3a6"/><rect y="226.8" height="1.0" fill="#f4e2a6"/><rect y="227.8" height="1.0" fill="#f4dfa1"/><rect y="228.8" height="0.2" fill="#f4e8ad"/></g><g transform="translate(138.70,0)"><rect y="178.8" height="1.0" fill="#f4dfa2"/><rect y="179.8" height="1.0" fill="#f4e3a7"/><rect y="180.8" height="1.0" fill="#f4e0a3"/><rect y="181.8" height="1.0" fill="#f4db9d"/><rect y="182.8" height="1.0" fill="#f4e2a6"/><rect y="183.8" height="1.0" fill="#f4e5aa"/><rect y="184.8" height="1.0" fill="#f4e4a8"/><rect y="185.8" height="1.0" fill="#f4e6ac"/><rect y="186.8" height="1.0" fill="#f4eebc"/><rect y="187.8" height="1.0" fill="#f4e8ae"/><rect y="188.8" height="1.0" fill="#f4e5aa"/><rect y="189.8" height="1.0" fill="#f4edb9"/><rect y="190.8" height="1.0" fill="#f4e2a6"/><rect y="191.8" height="1.0" fill="#f4ebb2"/><rect y="192.8" height="1.0" fill="#f4e4a8"/><rect y="193.8" height="1.0" fill="#f4eab1"/><rect y="194.8" height="1.0" fill="#f4e5aa"/><rect y="195.8" height="1.0" fill="#f4e7ac"/><rect y="196.8" height="1.0" fill="#f4e5a9"/><rect y="197.8" height="1.0" fill="#f4e5aa"/><rect y="198.8" height="1.0" fill="#f4e8ae"/><rect y="199.8" height="1.0" fill="#f4e1a4"/><rect y="200.8" height="1.0" fill="#f4e8ad"/><rect y="201.8" height="1.0" fill="#f4e9af"/><rect y="202.8" height="1.0" fill="#f4dfa2"/><rect y="203.8" height="1.0" fill="#f4e3a7"/><rect y="204.8" height="1.0" fill="#f4e7ac"/><rect y="205.8" height="1.0" fill="#f4e3a6"/><rect y="206.8" height="1.0" fill="#f4e1a4"/><rect y="207.8" height="1.0" fill="#f4e8ad"/><rect y="208.8" height="1.0" fill="#f4ebb3"/><rect y="209.8" height="1.0" fill="#f4e5aa"/><rect y="210.8" height="1.0" fill="#f4dfa2"/><rect y="211.8" height="1.0" fill="#f4da9c"/><rect y="212.8" height="1.0" fill="#f4e6ab"/><rect y="213.8" height="1.0" fill="#f4e3a7"/><rect y="214.8" height="1.0" fill="#f4e0a2"/><rect y="215.8" height="1.0" fill="#f4e8ae"/><rect y="216.8" height="1.0" fill="#f4e4a9"/><rect y="217.8" height="2.0" fill="#f4e7ac"/><rect y="219.8" height="1.0" fill="#f4e6ab"/><rect y="220.8" height="1.0" fill="#f4e5aa"/><rect y="221.8" height="1.0" fill="#f4ebb2"/><rect y="222.8" height="1.0" fill="#f4e4a8"/><rect y="223.8" height="1.0" fill="#f4ebb1"/><rect y="224.8" height="1.0" fill="#f4e4a9"/><rect y="225.8" height="1.0" fill="#f4e5aa"/><rect y="226.8" height="1.0" fill="#f4e1a4"/><rect y="227.8" height="1.0" fill="#f4e3a6"/><rect y="228.8" height="0.2" fill="#f4e0a3"/></g><g transform="translate(145.40,0)"><rect y="178.8" height="1.0" fill="#f4e9af"/><rect y="179.8" height="1.0" fill="#f4e3a7"/><rect y="180.8" height="1.0" fill="#f4eebb"/><rect y="181.8" height="2.0" fill="#f4e9af"/><rect y="183.8" height="1.0" fill="#f4e6ab"/><rect y="184.8" height="1.0" fill="#f4ecb5"/><rect y="185.8" height="1.0" fill="#f4ebb2"/><rect y="186.8" height="1.0" fill="#f2f2cf"/><rect y="187.8" height="1.0" fill="#f4e6ab"/><rect y="188.8" height="1.0" fill="#f4dfa1"/><rect y="189.8" height="1.0" fill="#f4ebb2"/><rect y="190.8" height="2.0" fill="#f4e6ab"/><rect y="192.8" height="1.0" fill="#f4eab0"/><rect y="193.8" height="1.0" fill="#f4e9b0"/><rect y="194.8" height="1.0" fill="#f4eeba"/><rect y="195.8" height="1.0" fill="#f4ebb3"/><rect y="196.8" height="1.0" fill="#f4ebb2"/><rect y="197.8" height="1.0" fill="#f4f0c0"/><rect y="198.8" height="1.0" fill="#f4e1a4"/><rect y="199.8" height="1.0" fill="#f4edb9"/><rect y="200.8" height="1.0" fill="#f4e9af"/><rect y="201.8" height="1.0" fill="#f4e7ad"/><rect y="202.8" height="1.0" fill="#f4e9af"/><rect y="203.8" height="1.0" fill="#f4efbc"/><rect y="204.8" height="1.0" fill="#f4ebb2"/><rect y="205.8" height="1.0" fill="#f4eeb9"/><rect y="206.8" height="1.0" fill="#f4e6ac"/><rect y="207.8" height="1.0" fill="#f4e8ae"/><rect y="208.8" height="2.0" fill="#f4ebb2"/><rect y="210.8" height="1.0" fill="#f4ebb3"/><rect y="211.8" height="1.0" fill="#f4e1a4"/><rect y="212.8" height="1.0" fill="#f4edb7"/><rect y="213.8" height="1.0" fill="#f4e7ac"/><rect y="214.8" height="1.0" fill="#f4db9c"/><rect y="215.8" height="1.0" fill="#f4eab1"/><rect y="216.8" height="1.0" fill="#f4eab0"/><rect y="217.8" height="1.0" fill="#f4ecb3"/><rect y="218.8" height="1.0" fill="#f4ecb6"/><rect y="219.8" height="1.0" fill="#f4ebb2"/><rect y="220.8" height="1.0" fill="#f4e3a7"/><rect y="221.8" height="1.0" fill="#f4edb8"/><rect y="222.8" height="1.0" fill="#f4e9b0"/><rect y="223.8" height="1.0" fill="#f4e8ae"/><rect y="224.8" height="1.0" fill="#f4e9b0"/><rect y="225.8" height="1.0" fill="#f4eeba"/><rect y="226.8" height="1.0" fill="#f4e4a9"/><rect y="227.8" height="1.0" fill="#f4e6ab"/><rect y="228.8" height="0.2" fill="#f4edb8"/></g><g transform="translate(152.10,0)"><rect y="178.8" height="1.0" fill="#e9eee0"/><rect y="179.8" height="1.0" fill="#f3f1cb"/><rect y="180.8" height="1.0" fill="#ecf0dc"/><rect y="181.8" height="1.0" fill="#eaefdf"/><rect y="182.8" height="1.0" fill="#e8eee1"/><rect y="183.8" height="1.0" fill="#eef1d7"/><rect y="184.8" height="1.0" fill="#e6ede3"/><rect y="185.8" height="1.0" fill="#f2f2cd"/><rect y="186.8" height="1.0" fill="#ecf0dc"/><rect y="187.8" height="1.0" fill="#dfe9ea"/><rect y="188.8" height="1.0" fill="#ebefde"/><rect y="189.8" height="1.0" fill="#ecf0db"/><rect y="190.8" height="1.0" fill="#eaefde"/><rect y="191.8" height="1.0" fill="#edf0d9"/><rect y="192.8" height="1.0" fill="#eaefdf"/><rect y="193.8" height="1.0" fill="#eaefde"/><rect y="194.8" height="1.0" fill="#edf0db"/><rect y="195.8" height="1.0" fill="#ecf0dc"/><rect y="196.8" height="1.0" fill="#f2f2cd"/><rect y="197.8" height="1.0" fill="#ecf0db"/><rect y="198.8" height="1.0" fill="#eff1d6"/><rect y="199.8" height="1.0" fill="#f2f2cd"/><rect y="200.8" height="1.0" fill="#ecf0db"/><rect y="201.8" height="1.0" fill="#eff1d5"/><rect y="202.8" height="1.0" fill="#eff1d6"/><rect y="203.8" height="1.0" fill="#eaefdf"/><rect y="204.8" height="1.0" fill="#f0f1d4"/><rect y="205.8" height="1.0" fill="#f0f1d5"/><rect y="206.8" height="1.0" fill="#ebefde"/><rect y="207.8" height="1.0" fill="#ebf0dd"/><rect y="208.8" height="1.0" fill="#e8eee1"/><rect y="209.8" height="1.0" fill="#e9eee0"/><rect y="210.8" height="1.0" fill="#ebf0dd"/><rect y="211.8" height="1.0" fill="#f0f1d5"/><rect y="212.8" height="1.0" fill="#edf0db"/><rect y="213.8" height="1.0" fill="#e9eee0"/><rect y="214.8" height="1.0" fill="#eef1d9"/><rect y="215.8" height="1.0" fill="#ecf0dc"/><rect y="216.8" height="1.0" fill="#eef1d9"/><rect y="217.8" height="1.0" fill="#f1f2d2"/><rect y="218.8" height="1.0" fill="#eef1d8"/><rect y="219.8" height="1.0" fill="#e6ede3"/><rect y="220.8" height="1.0" fill="#e8eee0"/><rect y="221.8" height="1.0" fill="#edf0d9"/><rect y="222.8" height="1.0" fill="#eef1d9"/><rect y="223.8" height="1.0" fill="#edf0da"/><rect y="224.8" height="1.0" fill="#ecf0db"/><rect y="225.8" height="1.0" fill="#ebf0dd"/><rect y="226.8" height="1.0" fill="#e8eee0"/><rect y="227.8" height="1.0" fill="#e2ebe8"/><rect y="228.8" height="0.2" fill="#f2f2ce"/></g><g transform="translate(158.80,0)"><rect y="178.8" height="1.0" fill="#e9efdf"/><rect y="179.8" height="1.0" fill="#f4efbc"/><rect y="180.8" height="1.0" fill="#e8eee0"/><rect y="181.8" height="1.0" fill="#ecf0db"/><rect y="182.8" height="1.0" fill="#edf0da"/><rect y="183.8" height="1.0" fill="#eff1d6"/><rect y="184.8" height="1.0" fill="#f3f1cb"/><rect y="185.8" height="1.0" fill="#eff1d6"/><rect y="186.8" height="1.0" fill="#eaefde"/><rect y="187.8" height="1.0" fill="#e6ede3"/><rect y="188.8" height="1.0" fill="#ebefde"/><rect y="189.8" height="1.0" fill="#e9efdf"/><rect y="190.8" height="1.0" fill="#ecf0dc"/><rect y="191.8" height="1.0" fill="#eff1d6"/><rect y="192.8" height="1.0" fill="#f0f1d4"/><rect y="193.8" height="1.0" fill="#eef1d8"/><rect y="194.8" height="1.0" fill="#ecf0dc"/><rect y="195.8" height="1.0" fill="#e8eee0"/><rect y="196.8" height="1.0" fill="#f1f2d3"/><rect y="197.8" height="1.0" fill="#ecf0dc"/><rect y="198.8" height="1.0" fill="#f2f2d0"/><rect y="199.8" height="1.0" fill="#f0f1d5"/><rect y="200.8" height="1.0" fill="#edf0d9"/><rect y="201.8" height="1.0" fill="#edf0db"/><rect y="202.8" height="1.0" fill="#eef1d7"/><rect y="203.8" height="1.0" fill="#ebefde"/><rect y="204.8" height="1.0" fill="#ecf0db"/><rect y="205.8" height="1.0" fill="#eaefde"/><rect y="206.8" height="1.0" fill="#e2ebe7"/><rect y="207.8" height="1.0" fill="#f2f2d1"/><rect y="208.8" height="1.0" fill="#ebf0dd"/><rect y="209.8" height="1.0" fill="#eaefde"/><rect y="210.8" height="1.0" fill="#ecf0dc"/><rect y="211.8" height="1.0" fill="#edf0d9"/><rect y="212.8" height="1.0" fill="#ebf0dd"/><rect y="213.8" height="1.0" fill="#f2f2d0"/><rect y="214.8" height="1.0" fill="#f2f2ce"/><rect y="215.8" height="1.0" fill="#f1f2d2"/><rect y="216.8" height="1.0" fill="#f3f1cb"/><rect y="217.8" height="1.0" fill="#e7ede2"/><rect y="218.8" height="1.0" fill="#ecf0db"/><rect y="219.8" height="1.0" fill="#e9eee0"/><rect y="220.8" height="1.0" fill="#ebefdd"/><rect y="221.8" height="1.0" fill="#ecf0db"/><rect y="222.8" height="1.0" fill="#eaefde"/><rect y="223.8" height="1.0" fill="#edf0da"/><rect y="224.8" height="1.0" fill="#eef1d9"/><rect y="225.8" height="1.0" fill="#f2f2d0"/><rect y="226.8" height="1.0" fill="#ebf0dd"/><rect y="227.8" height="1.0" fill="#edf0da"/><rect y="228.8" height="0.2" fill="#f1f2d1"/></g><g transform="translate(165.50,0)"><rect y="178.8" height="1.0" fill="#f4eebb"/><rect y="179.8" height="1.0" fill="#f3f1c5"/><rect y="180.8" height="1.0" fill="#f3f1ca"/><rect y="181.8" height="1.0" fill="#ecf0db"/><rect y="182.8" height="1.0" fill="#eff1d6"/><rect y="183.8" height="1.0" fill="#f3f1c7"/><rect y="184.8" height="1.0" fill="#f2f2d0"/><rect y="185.8" height="1.0" fill="#f4f0c2"/><rect y="186.8" height="1.0" fill="#f0f1d4"/><rect y="187.8" height="1.0" fill="#f4eab1"/><rect y="188.8" height="1.0" fill="#f3f1c6"/><rect y="189.8" height="1.0" fill="#f2f2cd"/><rect y="190.8" height="1.0" fill="#f3f1c9"/><rect y="191.8" height="1.0" fill="#f3f1c6"/><rect y="192.8" height="1.0" fill="#f3f1c5"/><rect y="193.8" height="1.0" fill="#f3f1c4"/><rect y="194.8" height="1.0" fill="#f3f1cb"/><rect y="195.8" height="1.0" fill="#f4f0c3"/><rect y="196.8" height="1.0" fill="#f3f1cb"/><rect y="197.8" height="1.0" fill="#f2f2ce"/><rect y="198.8" height="1.0" fill="#f3f1cb"/><rect y="199.8" height="1.0" fill="#f4e6ab"/><rect y="200.8" height="1.0" fill="#f4eebc"/><rect y="201.8" height="1.0" fill="#f3f1c8"/><rect y="202.8" height="1.0" fill="#f2f2cf"/><rect y="203.8" height="1.0" fill="#f3f1c8"/><rect y="204.8" height="2.0" fill="#f3f1ca"/><rect y="206.8" height="1.0" fill="#f3f1c9"/><rect y="207.8" height="1.0" fill="#f4f0c2"/><rect y="208.8" height="1.0" fill="#f4edb7"/><rect y="209.8" height="1.0" fill="#f2f2ce"/><rect y="210.8" height="1.0" fill="#f3f1c4"/><rect y="211.8" height="1.0" fill="#f4f0c1"/><rect y="212.8" height="1.0" fill="#ecf0dd"/><rect y="213.8" height="1.0" fill="#f3f1ca"/><rect y="214.8" height="1.0" fill="#f3f1c5"/><rect y="215.8" height="1.0" fill="#f3f1c4"/><rect y="216.8" height="1.0" fill="#f3f1c9"/><rect y="217.8" height="1.0" fill="#f3f1ca"/><rect y="218.8" height="1.0" fill="#f4efbc"/><rect y="219.8" height="1.0" fill="#f3f1c7"/><rect y="220.8" height="1.0" fill="#f4f0bf"/><rect y="221.8" height="1.0" fill="#f2f2ce"/><rect y="222.8" height="2.0" fill="#f3f1c9"/><rect y="224.8" height="2.0" fill="#f3f1c8"/><rect y="226.8" height="2.0" fill="#f2f2cd"/><rect y="228.8" height="0.2" fill="#f4f0c2"/></g><g transform="translate(172.20,0)"><rect y="178.8" height="1.0" fill="#f3f1cc"/><rect y="179.8" height="1.0" fill="#f1f2d2"/><rect y="180.8" height="1.0" fill="#f3f1c7"/><rect y="181.8" height="1.0" fill="#f4f0c3"/><rect y="182.8" height="1.0" fill="#f3f1cc"/><rect y="183.8" height="1.0" fill="#eff1d6"/><rect y="184.8" height="1.0" fill="#f3f1c5"/><rect y="185.8" height="1.0" fill="#f2f2ce"/><rect y="186.8" height="1.0" fill="#eef1d8"/><rect y="187.8" height="1.0" fill="#f4efbe"/><rect y="188.8" height="1.0" fill="#eaefdf"/><rect y="189.8" height="1.0" fill="#f3f1ca"/><rect y="190.8" height="1.0" fill="#f3f1cb"/><rect y="191.8" height="1.0" fill="#f2f2cf"/><rect y="192.8" height="1.0" fill="#f0f1d4"/><rect y="193.8" height="1.0" fill="#f3f1c5"/><rect y="194.8" height="1.0" fill="#eff1d6"/><rect y="195.8" height="1.0" fill="#f3f1c8"/><rect y="196.8" height="1.0" fill="#f1f2d3"/><rect y="197.8" height="1.0" fill="#f3f1cc"/><rect y="198.8" height="1.0" fill="#eff1d7"/><rect y="199.8" height="1.0" fill="#f1f2d2"/><rect y="200.8" height="1.0" fill="#f4f0c3"/><rect y="201.8" height="1.0" fill="#f4f0c0"/><rect y="202.8" height="1.0" fill="#f2f2cf"/><rect y="203.8" height="1.0" fill="#f4ecb6"/><rect y="204.8" height="1.0" fill="#f3f1c7"/><rect y="205.8" height="1.0" fill="#f4f0c4"/><rect y="206.8" height="1.0" fill="#f2f2d0"/><rect y="207.8" height="1.0" fill="#f2f2cd"/><rect y="208.8" height="1.0" fill="#eff1d7"/><rect y="209.8" height="1.0" fill="#f4f0c2"/><rect y="210.8" height="1.0" fill="#eff1d7"/><rect y="211.8" height="1.0" fill="#f0f1d3"/><rect y="212.8" height="1.0" fill="#f3f1cb"/><rect y="213.8" height="1.0" fill="#eaefde"/><rect y="214.8" height="1.0" fill="#f3f1c6"/><rect y="215.8" height="1.0" fill="#f3f1c7"/><rect y="216.8" height="1.0" fill="#f2f2cd"/><rect y="217.8" height="1.0" fill="#f1f2d2"/><rect y="218.8" height="1.0" fill="#f2f2d0"/><rect y="219.8" height="1.0" fill="#f2f2ce"/><rect y="220.8" height="1.0" fill="#f2f2d1"/><rect y="221.8" height="1.0" fill="#edf0da"/><rect y="222.8" height="1.0" fill="#dde8ea"/><rect y="223.8" height="1.0" fill="#f1f2d3"/><rect y="224.8" height="1.0" fill="#eff1d6"/><rect y="225.8" height="1.0" fill="#f4f0c4"/><rect y="226.8" height="1.0" fill="#f3f1cb"/><rect y="227.8" height="1.0" fill="#f2f2cf"/><rect y="228.8" height="0.2" fill="#f3f1c5"/></g><g transform="translate(178.90,0)"><rect y="178.8" height="1.0" fill="#f0f1d4"/><rect y="179.8" height="1.0" fill="#f4f0c1"/><rect y="180.8" height="1.0" fill="#f3f1c6"/><rect y="181.8" height="1.0" fill="#f2f2d1"/><rect y="182.8" height="1.0" fill="#f3f1c7"/><rect y="183.8" height="1.0" fill="#eff1d7"/><rect y="184.8" height="1.0" fill="#f3f1c7"/><rect y="185.8" height="1.0" fill="#f4f0c3"/><rect y="186.8" height="1.0" fill="#f1f2d2"/><rect y="187.8" height="1.0" fill="#f4e8ad"/><rect y="188.8" height="1.0" fill="#f3f1c8"/><rect y="189.8" height="1.0" fill="#f3f1c6"/><rect y="190.8" height="1.0" fill="#edf0d9"/><rect y="191.8" height="1.0" fill="#f0f1d5"/><rect y="192.8" height="1.0" fill="#f3f1cb"/><rect y="193.8" height="1.0" fill="#f3f1cc"/><rect y="194.8" height="1.0" fill="#f3f1ca"/><rect y="195.8" height="1.0" fill="#f2f2cf"/><rect y="196.8" height="1.0" fill="#f2f2d0"/><rect y="197.8" height="1.0" fill="#f3f1c4"/><rect y="198.8" height="1.0" fill="#f3f1cb"/><rect y="199.8" height="1.0" fill="#f4f0c4"/><rect y="200.8" height="1.0" fill="#f3f1c6"/><rect y="201.8" height="1.0" fill="#f3f1cc"/><rect y="202.8" height="1.0" fill="#f4f0c4"/><rect y="203.8" height="1.0" fill="#f2f2cf"/><rect y="204.8" height="1.0" fill="#f4efbf"/><rect y="205.8" height="1.0" fill="#f4f0c0"/><rect y="206.8" height="1.0" fill="#f4f0c1"/><rect y="207.8" height="1.0" fill="#f2f2d0"/><rect y="208.8" height="1.0" fill="#f4f0c3"/><rect y="209.8" height="1.0" fill="#f3f1c5"/><rect y="210.8" height="1.0" fill="#f3f1ca"/><rect y="211.8" height="1.0" fill="#f4f0c1"/><rect y="212.8" height="1.0" fill="#f3f1c5"/><rect y="213.8" height="1.0" fill="#f2f2cd"/><rect y="214.8" height="1.0" fill="#f3f1c6"/><rect y="215.8" height="1.0" fill="#f3f1c5"/><rect y="216.8" height="1.0" fill="#f4efbc"/><rect y="217.8" height="1.0" fill="#f4edb7"/><rect y="218.8" height="1.0" fill="#f1f2d2"/><rect y="219.8" height="1.0" fill="#f3f1c9"/><rect y="220.8" height="1.0" fill="#f3f1c5"/><rect y="221.8" height="1.0" fill="#f2f2cd"/><rect y="222.8" height="1.0" fill="#f4f0c2"/><rect y="223.8" height="1.0" fill="#f3f1c9"/><rect y="224.8" height="1.0" fill="#f3f1c6"/><rect y="225.8" height="1.0" fill="#f4f0c2"/><rect y="226.8" height="1.0" fill="#f2f2ce"/><rect y="227.8" height="1.0" fill="#f3f1c7"/><rect y="228.8" height="0.2" fill="#f4f0c2"/></g><g transform="translate(185.60,0)"><rect y="178.8" height="1.0" fill="#f4f0c3"/><rect y="179.8" height="1.0" fill="#f3f1ca"/><rect y="180.8" height="1.0" fill="#f2f2cc"/><rect y="181.8" height="1.0" fill="#f2f2cf"/><rect y="182.8" height="1.0" fill="#f4eebc"/><rect y="183.8" height="1.0" fill="#f2f2ce"/><rect y="184.8" height="1.0" fill="#f4f0c3"/><rect y="185.8" height="1.0" fill="#f3f1c5"/><rect y="186.8" height="1.0" fill="#f3f1c9"/><rect y="187.8" height="1.0" fill="#f3f1c5"/><rect y="188.8" height="1.0" fill="#f2f2cd"/><rect y="189.8" height="1.0" fill="#f3f1cb"/><rect y="190.8" height="1.0" fill="#f2f2d0"/><rect y="191.8" height="1.0" fill="#f3f1c8"/><rect y="192.8" height="1.0" fill="#f2f2cd"/><rect y="193.8" height="1.0" fill="#f4eeb9"/><rect y="194.8" height="1.0" fill="#f4f0c3"/><rect y="195.8" height="1.0" fill="#f3f1ca"/><rect y="196.8" height="4.0" fill="#f3f1c6"/><rect y="200.8" height="1.0" fill="#f2f2cf"/><rect y="201.8" height="1.0" fill="#f3f1cc"/><rect y="202.8" height="1.0" fill="#f4f0c0"/><rect y="203.8" height="1.0" fill="#f4f0c4"/><rect y="204.8" height="1.0" fill="#f1f2d2"/><rect y="205.8" height="1.0" fill="#f2f2d1"/><rect y="206.8" height="1.0" fill="#eaefde"/><rect y="207.8" height="1.0" fill="#f4f0c1"/><rect y="208.8" height="1.0" fill="#f4efbd"/><rect y="209.8" height="1.0" fill="#f3f1c9"/><rect y="210.8" height="1.0" fill="#f1f2d2"/><rect y="211.8" height="1.0" fill="#f3f1ca"/><rect y="212.8" height="2.0" fill="#f3f1c4"/><rect y="214.8" height="1.0" fill="#f3f1c7"/><rect y="215.8" height="1.0" fill="#f4efbc"/><rect y="216.8" height="1.0" fill="#f3f1c6"/><rect y="217.8" height="1.0" fill="#f4eebb"/><rect y="218.8" height="1.0" fill="#f3f1c8"/><rect y="219.8" height="1.0" fill="#f3f1c7"/><rect y="220.8" height="1.0" fill="#f3f1cb"/><rect y="221.8" height="1.0" fill="#f0f1d4"/><rect y="222.8" height="1.0" fill="#f0f1d3"/><rect y="223.8" height="1.0" fill="#f4f0c3"/><rect y="224.8" height="1.0" fill="#f1f2d1"/><rect y="225.8" height="1.0" fill="#f2f2cf"/><rect y="226.8" height="1.0" fill="#f2f2cd"/><rect y="227.8" height="1.0" fill="#f3f1c7"/><rect y="228.8" height="0.2" fill="#f3f1c9"/></g><g transform="translate(192.30,0)"><rect y="178.8" height="1.0" fill="#eff1d6"/><rect y="179.8" height="1.0" fill="#eef1d8"/><rect y="180.8" height="1.0" fill="#f0f1d5"/><rect y="181.8" height="1.0" fill="#edf0db"/><rect y="182.8" height="1.0" fill="#eef1d9"/><rect y="183.8" height="1.0" fill="#eff1d6"/><rect y="184.8" height="1.0" fill="#ecf0dc"/><rect y="185.8" height="1.0" fill="#f2f2cd"/><rect y="186.8" height="1.0" fill="#e8eee0"/><rect y="187.8" height="1.0" fill="#edf0d9"/><rect y="188.8" height="1.0" fill="#edf0db"/><rect y="189.8" height="1.0" fill="#ecf0dc"/><rect y="190.8" height="1.0" fill="#eef1d9"/><rect y="191.8" height="1.0" fill="#ecf0dd"/><rect y="192.8" height="1.0" fill="#f3f1ca"/><rect y="193.8" height="1.0" fill="#f2f2cd"/><rect y="194.8" height="1.0" fill="#e5ede4"/><rect y="195.8" height="1.0" fill="#f0f1d4"/><rect y="196.8" height="1.0" fill="#f1f2d3"/><rect y="197.8" height="1.0" fill="#f2f2cd"/><rect y="198.8" height="1.0" fill="#eff1d5"/><rect y="199.8" height="1.0" fill="#ebefde"/><rect y="200.8" height="1.0" fill="#f4edb9"/><rect y="201.8" height="1.0" fill="#e6ede3"/><rect y="202.8" height="1.0" fill="#f4f0c3"/><rect y="203.8" height="1.0" fill="#f2f2d0"/><rect y="204.8" height="1.0" fill="#f0f1d4"/><rect y="205.8" height="1.0" fill="#e7ede2"/><rect y="206.8" height="2.0" fill="#f2f2cc"/><rect y="208.8" height="1.0" fill="#f0f1d4"/><rect y="209.8" height="1.0" fill="#f2f2cf"/><rect y="210.8" height="1.0" fill="#edf0db"/><rect y="211.8" height="1.0" fill="#f2f2d0"/><rect y="212.8" height="1.0" fill="#ebefdd"/><rect y="213.8" height="2.0" fill="#f3f1ca"/><rect y="215.8" height="1.0" fill="#ebefdd"/><rect y="216.8" height="1.0" fill="#f0f1d4"/><rect y="217.8" height="1.0" fill="#eef1d8"/><rect y="218.8" height="1.0" fill="#ebf0dd"/><rect y="219.8" height="1.0" fill="#ebefde"/><rect y="220.8" height="1.0" fill="#f1f2d2"/><rect y="221.8" height="1.0" fill="#e8eee1"/><rect y="222.8" height="1.0" fill="#f3f1c8"/><rect y="223.8" height="1.0" fill="#edf0db"/><rect y="224.8" height="1.0" fill="#eef1d7"/><rect y="225.8" height="1.0" fill="#edf0da"/><rect y="226.8" height="1.0" fill="#f0f1d5"/><rect y="227.8" height="1.0" fill="#f2f2cd"/><rect y="228.8" height="0.2" fill="#f4f0c3"/></g><g transform="translate(199.00,0)"><rect y="178.8" height="1.0" fill="#edf0d9"/><rect y="179.8" height="1.0" fill="#f3f1c8"/><rect y="180.8" height="1.0" fill="#f1f2d2"/><rect y="181.8" height="1.0" fill="#f3f1cc"/><rect y="182.8" height="2.0" fill="#f2f2cd"/><rect y="184.8" height="1.0" fill="#f3f1c8"/><rect y="185.8" height="1.0" fill="#f2f2ce"/><rect y="186.8" height="1.0" fill="#f3f1ca"/><rect y="187.8" height="1.0" fill="#f3f1c8"/><rect y="188.8" height="1.0" fill="#f3f1cc"/><rect y="189.8" height="1.0" fill="#f3f1c8"/><rect y="190.8" height="1.0" fill="#f4f0c1"/><rect y="191.8" height="1.0" fill="#f3f1c8"/><rect y="192.8" height="1.0" fill="#f4f0c3"/><rect y="193.8" height="1.0" fill="#f3f1ca"/><rect y="194.8" height="1.0" fill="#f3f1c4"/><rect y="195.8" height="1.0" fill="#f0f1d3"/><rect y="196.8" height="1.0" fill="#e8eee1"/><rect y="197.8" height="1.0" fill="#f3f1c9"/><rect y="198.8" height="1.0" fill="#eff1d6"/><rect y="199.8" height="1.0" fill="#eef1d9"/><rect y="200.8" height="1.0" fill="#f4f0c4"/><rect y="201.8" height="1.0" fill="#f3f1ca"/><rect y="202.8" height="1.0" fill="#f2f2ce"/><rect y="203.8" height="1.0" fill="#f4f0c2"/><rect y="204.8" height="1.0" fill="#f3f1cb"/><rect y="205.8" height="1.0" fill="#f2f2cd"/><rect y="206.8" height="1.0" fill="#eef1d8"/><rect y="207.8" height="1.0" fill="#f1f2d2"/><rect y="208.8" height="2.0" fill="#f3f1ca"/><rect y="210.8" height="1.0" fill="#f2f2d0"/><rect y="211.8" height="1.0" fill="#f3f1cb"/><rect y="212.8" height="1.0" fill="#f3f1ca"/><rect y="213.8" height="1.0" fill="#f2f2ce"/><rect y="214.8" height="1.0" fill="#f3f1c5"/><rect y="215.8" height="1.0" fill="#f3f1c9"/><rect y="216.8" height="1.0" fill="#f2f2d0"/><rect y="217.8" height="1.0" fill="#f4f0c1"/><rect y="218.8" height="1.0" fill="#f2f2d0"/><rect y="219.8" height="1.0" fill="#f4f0bf"/><rect y="220.8" height="1.0" fill="#f4f0c0"/><rect y="221.8" height="1.0" fill="#f1f2d1"/><rect y="222.8" height="1.0" fill="#f3f1c7"/><rect y="223.8" height="1.0" fill="#f4f0c3"/><rect y="224.8" height="1.0" fill="#f0f1d4"/><rect y="225.8" height="1.0" fill="#f3f1c6"/><rect y="226.8" height="1.0" fill="#f4f0c3"/><rect y="227.8" height="1.0" fill="#f4f0c2"/><rect y="228.8" height="0.2" fill="#f4f0bf"/></g></g>
<rect x="145.40" y="60.6" width="6.70" height="1.2" fill="#8fa8d8"/>
<rect x="98.50" y="31.6" width="6.70" height="1.4" fill="#c4d6ea"/>
<rect x="50" y="25.3" width="6.2" height="49.40" fill="#a6002c"/>
<text x="19.00" y="50.80" font-size="7" fill="#c8304f" stroke="#c8304f" textLength="25.30" lengthAdjust="spacingAndGlyphs" style="stroke-width:0.06px">Cluster 1</text>
<text x="19.00" y="58.50" font-size="7" fill="#c8304f" stroke="#c8304f" textLength="23.60" lengthAdjust="spacingAndGlyphs" style="stroke-width:0.06px"><tspan font-style="italic">n</tspan>=1385</text>
<rect x="50" y="74.7" width="6.2" height="21.10" fill="#2d4a80"/>
<text x="19.00" y="86.10" font-size="7" fill="#3a6a9c" stroke="#3a6a9c" textLength="25.90" lengthAdjust="spacingAndGlyphs" style="stroke-width:0.06px">Cluster 2</text>
<text x="19.00" y="94.00" font-size="7" fill="#3a6a9c" stroke="#3a6a9c" textLength="19.60" lengthAdjust="spacingAndGlyphs" style="stroke-width:0.06px"><tspan font-style="italic">n</tspan>=590</text>
<rect x="50" y="95.8" width="6.2" height="31.00" fill="#c8107a"/>
<text x="19.00" y="112.40" font-size="7" fill="#d03c96" stroke="#d03c96" textLength="25.90" lengthAdjust="spacingAndGlyphs" style="stroke-width:0.06px">Cluster 3</text>
<text x="19.00" y="120.50" font-size="7" fill="#d03c96" stroke="#d03c96" textLength="19.60" lengthAdjust="spacingAndGlyphs" style="stroke-width:0.06px"><tspan font-style="italic">n</tspan>=870</text>
<rect x="50" y="126.8" width="6.2" height="28.30" fill="#2f6b52"/>
<text x="19.00" y="139.10" font-size="7" fill="#2f7d62" stroke="#2f7d62" textLength="25.90" lengthAdjust="spacingAndGlyphs" style="stroke-width:0.06px">Cluster 4</text>
<text x="19.00" y="146.80" font-size="7" fill="#2f7d62" stroke="#2f7d62" textLength="19.60" lengthAdjust="spacingAndGlyphs" style="stroke-width:0.06px"><tspan font-style="italic">n</tspan>=793</text>
<rect x="50" y="155.1" width="6.2" height="23.70" fill="#4a1c5c"/>
<text x="19.00" y="167.30" font-size="7" fill="#6a3d90" stroke="#6a3d90" textLength="25.90" lengthAdjust="spacingAndGlyphs" style="stroke-width:0.06px">Cluster 5</text>
<text x="19.00" y="175.00" font-size="7" fill="#6a3d90" stroke="#6a3d90" textLength="19.60" lengthAdjust="spacingAndGlyphs" style="stroke-width:0.06px"><tspan font-style="italic">n</tspan>=663</text>
<rect x="50" y="178.8" width="6.2" height="50.20" fill="#66a6e0"/>
<text x="19.00" y="199.60" font-size="7" fill="#45aee0" stroke="#45aee0" textLength="25.90" lengthAdjust="spacingAndGlyphs" style="stroke-width:0.06px">Cluster 6</text>
<text x="19.00" y="207.80" font-size="7" fill="#45aee0" stroke="#45aee0" textLength="23.60" lengthAdjust="spacingAndGlyphs" style="stroke-width:0.06px"><tspan font-style="italic">n</tspan>=1402</text>
<defs><linearGradient id="cb" x1="0" y1="0" x2="0" y2="1"><stop offset="0" stop-color="#b42028"/><stop offset="0.06" stop-color="#c83c32"/><stop offset="0.15" stop-color="#dc7048"/><stop offset="0.25" stop-color="#eca862"/><stop offset="0.36" stop-color="#f6d88c"/><stop offset="0.5" stop-color="#fbf7cc"/><stop offset="0.62" stop-color="#e2eef0"/><stop offset="0.75" stop-color="#b4cce4"/><stop offset="0.88" stop-color="#86a6d0"/><stop offset="1" stop-color="#5070b0"/></linearGradient></defs>
<rect x="208.2" y="25.3" width="5.8" height="59.5" fill="url(#cb)"/>
<text x="216.30" y="29.30" font-size="5.8">4</text>
<text x="216.30" y="43.30" font-size="5.8">2</text>
<text x="216.30" y="57.30" font-size="5.8">0</text>
<text x="216.30" y="71.30" font-size="5.8">−2</text>
<text x="216.30" y="85.30" font-size="5.8">−4</text>
<text font-size="6.7" text-anchor="end" style="stroke-width:0.06px" transform="translate(97.35,232.4) rotate(-90)">RS011</text>
<text font-size="6.7" text-anchor="end" style="stroke-width:0.06px" transform="translate(104.05,232.4) rotate(-90)">RS019</text>
<text font-size="6.7" text-anchor="end" style="stroke-width:0.06px" transform="translate(110.75,232.4) rotate(-90)">RS001</text>
<text font-size="6.7" text-anchor="end" style="stroke-width:0.06px" transform="translate(117.45,232.4) rotate(-90)">RS005</text>
<text font-size="6.7" text-anchor="end" style="stroke-width:0.06px" transform="translate(124.15,232.4) rotate(-90)">RS006</text>
<text font-size="6.7" text-anchor="end" style="stroke-width:0.06px" transform="translate(130.85,232.4) rotate(-90)">RS008</text>
<path d="M56.3,256.7 Q57.1,258.7 59.8,258.7 L69.9,259.0 Q72.6,259.0 73.4,260.7 Q74.2,259.0 76.9,259.0 L87.1,258.7 Q89.8,258.7 90.6,256.7" fill="none" stroke="#4a6a9c" stroke-width="1.05"/>
<path d="M90.9,256.7 Q91.7,258.7 94.4,258.7 L107.9,259.0 Q110.6,259.0 111.4,260.7 Q112.2,259.0 114.9,259.0 L128.3,258.7 Q131.0,258.7 131.8,256.7" fill="none" stroke="#7b4fa0" stroke-width="1.05"/>
<path d="M132.2,256.7 Q133.0,258.7 135.7,258.7 L138.3,259.0 Q141.0,259.0 141.8,260.7 Q142.6,259.0 145.3,259.0 L147.9,258.7 Q150.6,258.7 151.4,256.7" fill="none" stroke="#c8304a" stroke-width="1.05"/>
<path d="M151.6,256.7 Q152.4,258.7 155.1,258.7 L175.6,259.0 Q178.2,259.0 179.1,260.7 Q179.9,259.0 182.6,259.0 L203.0,258.7 Q205.7,258.7 206.5,256.7" fill="none" stroke="#3d7a5c" stroke-width="1.05"/>
<text x="65.90" y="268.00" font-size="6.4" fill="#4a6a9c" stroke="#4a6a9c" textLength="15.20" lengthAdjust="spacingAndGlyphs">NBM</text>
<text x="99.40" y="268.10" font-size="6.4" fill="#7b4fa0" stroke="#7b4fa0" textLength="23.60" lengthAdjust="spacingAndGlyphs">RS-AML</text>
<text x="128.4" y="269.8" font-size="6.8" fill="#c8304a" stroke="#c8304a" textLength="26.2" lengthAdjust="spacingAndGlyphs"><tspan font-style="italic">SF3B1</tspan><tspan font-size="3.60" dy="-2.60" font-style="italic">mut</tspan></text>
<text x="135.10" y="278.20" font-size="6.4" fill="#c8304a" stroke="#c8304a" textLength="12.80" lengthAdjust="spacingAndGlyphs">AML</text>
<text x="166.1" y="269.9" font-size="6.8" fill="#3d7a5c" stroke="#3d7a5c" textLength="26.6" lengthAdjust="spacingAndGlyphs"><tspan font-style="italic">SF3B1</tspan><tspan font-size="3.60" dy="-2.60" font-style="italic">mut</tspan></text>
<text x="171.30" y="277.60" font-size="6.4" fill="#3d7a5c" stroke="#3d7a5c" textLength="15.40" lengthAdjust="spacingAndGlyphs">MDS</text>
<rect x="271.60" y="25.20" width="91.40" height="54.15" fill="none" stroke="#151515" stroke-width="1.3"/>
<line x1="268.10" y1="27.80" x2="271.60" y2="27.80" stroke="#151515" stroke-width="0.9"/>
<text x="264.50" y="29.90" font-size="6.1" text-anchor="end" textLength="6.70" lengthAdjust="spacingAndGlyphs">12</text>
<line x1="268.10" y1="42.00" x2="271.60" y2="42.00" stroke="#151515" stroke-width="0.9"/>
<text x="264.50" y="44.10" font-size="6.1" text-anchor="end" textLength="6.70" lengthAdjust="spacingAndGlyphs">10</text>
<line x1="268.10" y1="56.20" x2="271.60" y2="56.20" stroke="#151515" stroke-width="0.9"/>
<text x="264.50" y="58.30" font-size="6.1" text-anchor="end" textLength="3.20" lengthAdjust="spacingAndGlyphs">8</text>
<line x1="268.10" y1="70.40" x2="271.60" y2="70.40" stroke="#151515" stroke-width="0.9"/>
<text x="264.50" y="72.50" font-size="6.1" text-anchor="end" textLength="3.20" lengthAdjust="spacingAndGlyphs">6</text>
<text font-size="7.8" text-anchor="middle" transform="translate(240.30,51.85) rotate(-90)" textLength="46.9" lengthAdjust="spacingAndGlyphs">-Log<tspan font-size="4.6" dy="1.6">2</tspan><tspan dy="-1.6"> (normalized</tspan></text>
<text font-size="7.8" text-anchor="middle" transform="translate(251.10,52.65) rotate(-90)" textLength="30.1" lengthAdjust="spacingAndGlyphs">expression)</text>
<text x="273.20" y="30.70" font-size="5.0" fill="#c8304f" stroke="#c8304f" textLength="21.60" lengthAdjust="spacingAndGlyphs" style="stroke-width:0.04px">Cluster 1</text>
<text x="273.20" y="36.80" font-size="5.0" fill="#c8304f" stroke="#c8304f" textLength="19.30" lengthAdjust="spacingAndGlyphs" style="stroke-width:0.04px"><tspan font-style="italic">n</tspan>=1385</text>
<polyline points="284.10,42.78 306.10,49.67 328.10,49.67 350.10,40.51" fill="none" stroke="#e3921e" stroke-width="1.0"/>
<circle cx="284.10" cy="42.78" r="1.95" fill="#e3921e"/>
<circle cx="306.10" cy="49.67" r="1.95" fill="#e3921e"/>
<circle cx="328.10" cy="49.67" r="1.95" fill="#e3921e"/>
<circle cx="350.10" cy="40.51" r="1.95" fill="#e3921e"/>
<text font-size="6.9" fill="#4a6a9c" stroke="#4a6a9c" text-anchor="end" style="stroke-width:0.08px" transform="translate(286.50,86.20) rotate(-45)">NBM</text>
<text font-size="6.9" fill="#7b4fa0" stroke="#7b4fa0" text-anchor="end" style="stroke-width:0.08px" transform="translate(308.40,85.10) rotate(-45)">RS-AML</text>
<text font-size="6.9" fill="#c8304a" stroke="#c8304a" text-anchor="end" style="stroke-width:0.08px" transform="translate(327.20,85.60) rotate(-45)"><tspan font-style="italic">SF3B1</tspan><tspan font-size="3.50" dy="-2.10" font-style="italic">mut</tspan></text>
<text font-size="6.9" fill="#c8304a" stroke="#c8304a" text-anchor="end" style="stroke-width:0.08px" transform="translate(332.20,91.60) rotate(-45)">AML</text>
<text font-size="6.9" fill="#3d7a5c" stroke="#3d7a5c" text-anchor="end" style="stroke-width:0.08px" transform="translate(352.60,85.30) rotate(-45)"><tspan font-style="italic">SF3B1</tspan><tspan font-size="3.50" dy="-2.10" font-style="italic">mut</tspan></text>
<text font-size="6.9" fill="#3d7a5c" stroke="#3d7a5c" text-anchor="end" style="stroke-width:0.08px" transform="translate(357.30,91.10) rotate(-45)">MDS</text>
<rect x="414.40" y="25.20" width="91.90" height="54.15" fill="none" stroke="#151515" stroke-width="1.3"/>
<line x1="410.90" y1="27.80" x2="414.40" y2="27.80" stroke="#151515" stroke-width="0.9"/>
<text x="407.30" y="29.90" font-size="6.1" text-anchor="end" textLength="6.70" lengthAdjust="spacingAndGlyphs">12</text>
<line x1="410.90" y1="42.00" x2="414.40" y2="42.00" stroke="#151515" stroke-width="0.9"/>
<text x="407.30" y="44.10" font-size="6.1" text-anchor="end" textLength="6.70" lengthAdjust="spacingAndGlyphs">10</text>
<line x1="410.90" y1="56.20" x2="414.40" y2="56.20" stroke="#151515" stroke-width="0.9"/>
<text x="407.30" y="58.30" font-size="6.1" text-anchor="end" textLength="3.20" lengthAdjust="spacingAndGlyphs">8</text>
<line x1="410.90" y1="70.40" x2="414.40" y2="70.40" stroke="#151515" stroke-width="0.9"/>
<text x="407.30" y="72.50" font-size="6.1" text-anchor="end" textLength="3.20" lengthAdjust="spacingAndGlyphs">6</text>
<text font-size="7.8" text-anchor="middle" transform="translate(383.10,51.85) rotate(-90)" textLength="46.9" lengthAdjust="spacingAndGlyphs">-Log<tspan font-size="4.6" dy="1.6">2</tspan><tspan dy="-1.6"> (normalized</tspan></text>
<text font-size="7.8" text-anchor="middle" transform="translate(393.90,52.65) rotate(-90)" textLength="30.1" lengthAdjust="spacingAndGlyphs">expression)</text>
<text x="416.00" y="30.70" font-size="5.0" fill="#3a6a9c" stroke="#3a6a9c" textLength="21.60" lengthAdjust="spacingAndGlyphs" style="stroke-width:0.04px">Cluster 2</text>
<text x="416.00" y="36.80" font-size="5.0" fill="#3a6a9c" stroke="#3a6a9c" textLength="15.60" lengthAdjust="spacingAndGlyphs" style="stroke-width:0.04px"><tspan font-style="italic">n</tspan>=590</text>
<polyline points="426.90,41.01 448.90,43.49 470.90,46.97 492.90,48.67" fill="none" stroke="#e3921e" stroke-width="1.0"/>
<circle cx="426.90" cy="41.01" r="1.95" fill="#e3921e"/>
<circle cx="448.90" cy="43.49" r="1.95" fill="#e3921e"/>
<circle cx="470.90" cy="46.97" r="1.95" fill="#e3921e"/>
<circle cx="492.90" cy="48.67" r="1.95" fill="#e3921e"/>
<text font-size="6.9" fill="#4a6a9c" stroke="#4a6a9c" text-anchor="end" style="stroke-width:0.08px" transform="translate(429.30,86.20) rotate(-45)">NBM</text>
<text font-size="6.9" fill="#7b4fa0" stroke="#7b4fa0" text-anchor="end" style="stroke-width:0.08px" transform="translate(451.20,85.10) rotate(-45)">RS-AML</text>
<text font-size="6.9" fill="#c8304a" stroke="#c8304a" text-anchor="end" style="stroke-width:0.08px" transform="translate(470.00,85.60) rotate(-45)"><tspan font-style="italic">SF3B1</tspan><tspan font-size="3.50" dy="-2.10" font-style="italic">mut</tspan></text>
<text font-size="6.9" fill="#c8304a" stroke="#c8304a" text-anchor="end" style="stroke-width:0.08px" transform="translate(475.00,91.60) rotate(-45)">AML</text>
<text font-size="6.9" fill="#3d7a5c" stroke="#3d7a5c" text-anchor="end" style="stroke-width:0.08px" transform="translate(495.40,85.30) rotate(-45)"><tspan font-style="italic">SF3B1</tspan><tspan font-size="3.50" dy="-2.10" font-style="italic">mut</tspan></text>
<text font-size="6.9" fill="#3d7a5c" stroke="#3d7a5c" text-anchor="end" style="stroke-width:0.08px" transform="translate(500.10,91.10) rotate(-45)">MDS</text>
<rect x="271.60" y="119.50" width="91.40" height="54.15" fill="none" stroke="#151515" stroke-width="1.3"/>
<line x1="268.10" y1="122.10" x2="271.60" y2="122.10" stroke="#151515" stroke-width="0.9"/>
<text x="264.50" y="124.20" font-size="6.1" text-anchor="end" textLength="6.70" lengthAdjust="spacingAndGlyphs">12</text>
<line x1="268.10" y1="136.30" x2="271.60" y2="136.30" stroke="#151515" stroke-width="0.9"/>
<text x="264.50" y="138.40" font-size="6.1" text-anchor="end" textLength="6.70" lengthAdjust="spacingAndGlyphs">10</text>
<line x1="268.10" y1="150.50" x2="271.60" y2="150.50" stroke="#151515" stroke-width="0.9"/>
<text x="264.50" y="152.60" font-size="6.1" text-anchor="end" textLength="3.20" lengthAdjust="spacingAndGlyphs">8</text>
<line x1="268.10" y1="164.70" x2="271.60" y2="164.70" stroke="#151515" stroke-width="0.9"/>
<text x="264.50" y="166.80" font-size="6.1" text-anchor="end" textLength="3.20" lengthAdjust="spacingAndGlyphs">6</text>
<text font-size="7.8" text-anchor="middle" transform="translate(240.30,146.15) rotate(-90)" textLength="46.9" lengthAdjust="spacingAndGlyphs">-Log<tspan font-size="4.6" dy="1.6">2</tspan><tspan dy="-1.6"> (normalized</tspan></text>
<text font-size="7.8" text-anchor="middle" transform="translate(251.10,146.95) rotate(-90)" textLength="30.1" lengthAdjust="spacingAndGlyphs">expression)</text>
<text x="273.20" y="125.00" font-size="5.0" fill="#d03c96" stroke="#d03c96" textLength="21.60" lengthAdjust="spacingAndGlyphs" style="stroke-width:0.04px">Cluster 3</text>
<text x="273.20" y="131.10" font-size="5.0" fill="#d03c96" stroke="#d03c96" textLength="15.60" lengthAdjust="spacingAndGlyphs" style="stroke-width:0.04px"><tspan font-style="italic">n</tspan>=870</text>
<polyline points="284.10,147.09 306.10,146.31 328.10,138.43 350.10,147.09" fill="none" stroke="#e3921e" stroke-width="1.0"/>
<circle cx="284.10" cy="147.09" r="1.95" fill="#e3921e"/>
<circle cx="306.10" cy="146.31" r="1.95" fill="#e3921e"/>
<circle cx="328.10" cy="138.43" r="1.95" fill="#e3921e"/>
<circle cx="350.10" cy="147.09" r="1.95" fill="#e3921e"/>
<text font-size="6.9" fill="#4a6a9c" stroke="#4a6a9c" text-anchor="end" style="stroke-width:0.08px" transform="translate(286.50,180.50) rotate(-45)">NBM</text>
<text font-size="6.9" fill="#7b4fa0" stroke="#7b4fa0" text-anchor="end" style="stroke-width:0.08px" transform="translate(308.40,179.40) rotate(-45)">RS-AML</text>
<text font-size="6.9" fill="#c8304a" stroke="#c8304a" text-anchor="end" style="stroke-width:0.08px" transform="translate(327.20,179.90) rotate(-45)"><tspan font-style="italic">SF3B1</tspan><tspan font-size="3.50" dy="-2.10" font-style="italic">mut</tspan></text>
<text font-size="6.9" fill="#c8304a" stroke="#c8304a" text-anchor="end" style="stroke-width:0.08px" transform="translate(332.20,185.90) rotate(-45)">AML</text>
<text font-size="6.9" fill="#3d7a5c" stroke="#3d7a5c" text-anchor="end" style="stroke-width:0.08px" transform="translate(352.60,179.60) rotate(-45)"><tspan font-style="italic">SF3B1</tspan><tspan font-size="3.50" dy="-2.10" font-style="italic">mut</tspan></text>
<text font-size="6.9" fill="#3d7a5c" stroke="#3d7a5c" text-anchor="end" style="stroke-width:0.08px" transform="translate(357.30,185.40) rotate(-45)">MDS</text>
<rect x="414.40" y="119.50" width="91.90" height="54.15" fill="none" stroke="#151515" stroke-width="1.3"/>
<line x1="410.90" y1="122.10" x2="414.40" y2="122.10" stroke="#151515" stroke-width="0.9"/>
<text x="407.30" y="124.20" font-size="6.1" text-anchor="end" textLength="6.70" lengthAdjust="spacingAndGlyphs">12</text>
<line x1="410.90" y1="136.30" x2="414.40" y2="136.30" stroke="#151515" stroke-width="0.9"/>
<text x="407.30" y="138.40" font-size="6.1" text-anchor="end" textLength="6.70" lengthAdjust="spacingAndGlyphs">10</text>
<line x1="410.90" y1="150.50" x2="414.40" y2="150.50" stroke="#151515" stroke-width="0.9"/>
<text x="407.30" y="152.60" font-size="6.1" text-anchor="end" textLength="3.20" lengthAdjust="spacingAndGlyphs">8</text>
<line x1="410.90" y1="164.70" x2="414.40" y2="164.70" stroke="#151515" stroke-width="0.9"/>
<text x="407.30" y="166.80" font-size="6.1" text-anchor="end" textLength="3.20" lengthAdjust="spacingAndGlyphs">6</text>
<text font-size="7.8" text-anchor="middle" transform="translate(383.10,146.15) rotate(-90)" textLength="46.9" lengthAdjust="spacingAndGlyphs">-Log<tspan font-size="4.6" dy="1.6">2</tspan><tspan dy="-1.6"> (normalized</tspan></text>
<text font-size="7.8" text-anchor="middle" transform="translate(393.90,146.95) rotate(-90)" textLength="30.1" lengthAdjust="spacingAndGlyphs">expression)</text>
<text x="416.00" y="125.00" font-size="5.0" fill="#3f8068" stroke="#3f8068" textLength="21.60" lengthAdjust="spacingAndGlyphs" style="stroke-width:0.04px">Cluster 4</text>
<text x="416.00" y="131.10" font-size="5.0" fill="#3f8068" stroke="#3f8068" textLength="15.60" lengthAdjust="spacingAndGlyphs" style="stroke-width:0.04px"><tspan font-style="italic">n</tspan>=793</text>
<polyline points="426.90,145.53 448.90,163.28 470.90,153.34 492.90,152.13" fill="none" stroke="#e3921e" stroke-width="1.0"/>
<circle cx="426.90" cy="145.53" r="1.95" fill="#e3921e"/>
<circle cx="448.90" cy="163.28" r="1.95" fill="#e3921e"/>
<circle cx="470.90" cy="153.34" r="1.95" fill="#e3921e"/>
<circle cx="492.90" cy="152.13" r="1.95" fill="#e3921e"/>
<text font-size="6.9" fill="#4a6a9c" stroke="#4a6a9c" text-anchor="end" style="stroke-width:0.08px" transform="translate(429.30,180.50) rotate(-45)">NBM</text>
<text font-size="6.9" fill="#7b4fa0" stroke="#7b4fa0" text-anchor="end" style="stroke-width:0.08px" transform="translate(451.20,179.40) rotate(-45)">RS-AML</text>
<text font-size="6.9" fill="#c8304a" stroke="#c8304a" text-anchor="end" style="stroke-width:0.08px" transform="translate(470.00,179.90) rotate(-45)"><tspan font-style="italic">SF3B1</tspan><tspan font-size="3.50" dy="-2.10" font-style="italic">mut</tspan></text>
<text font-size="6.9" fill="#c8304a" stroke="#c8304a" text-anchor="end" style="stroke-width:0.08px" transform="translate(475.00,185.90) rotate(-45)">AML</text>
<text font-size="6.9" fill="#3d7a5c" stroke="#3d7a5c" text-anchor="end" style="stroke-width:0.08px" transform="translate(495.40,179.60) rotate(-45)"><tspan font-style="italic">SF3B1</tspan><tspan font-size="3.50" dy="-2.10" font-style="italic">mut</tspan></text>
<text font-size="6.9" fill="#3d7a5c" stroke="#3d7a5c" text-anchor="end" style="stroke-width:0.08px" transform="translate(500.10,185.40) rotate(-45)">MDS</text>
<rect x="271.60" y="214.80" width="91.40" height="54.15" fill="none" stroke="#151515" stroke-width="1.3"/>
<line x1="268.10" y1="217.40" x2="271.60" y2="217.40" stroke="#151515" stroke-width="0.9"/>
<text x="264.50" y="219.50" font-size="6.1" text-anchor="end" textLength="6.70" lengthAdjust="spacingAndGlyphs">12</text>
<line x1="268.10" y1="231.60" x2="271.60" y2="231.60" stroke="#151515" stroke-width="0.9"/>
<text x="264.50" y="233.70" font-size="6.1" text-anchor="end" textLength="6.70" lengthAdjust="spacingAndGlyphs">10</text>
<line x1="268.10" y1="245.80" x2="271.60" y2="245.80" stroke="#151515" stroke-width="0.9"/>
<text x="264.50" y="247.90" font-size="6.1" text-anchor="end" textLength="3.20" lengthAdjust="spacingAndGlyphs">8</text>
<line x1="268.10" y1="260.00" x2="271.60" y2="260.00" stroke="#151515" stroke-width="0.9"/>
<text x="264.50" y="262.10" font-size="6.1" text-anchor="end" textLength="3.20" lengthAdjust="spacingAndGlyphs">6</text>
<text font-size="7.8" text-anchor="middle" transform="translate(240.30,241.45) rotate(-90)" textLength="46.9" lengthAdjust="spacingAndGlyphs">-Log<tspan font-size="4.6" dy="1.6">2</tspan><tspan dy="-1.6"> (normalized</tspan></text>
<text font-size="7.8" text-anchor="middle" transform="translate(251.10,242.25) rotate(-90)" textLength="30.1" lengthAdjust="spacingAndGlyphs">expression)</text>
<text x="273.20" y="220.30" font-size="5.0" fill="#6a3d90" stroke="#6a3d90" textLength="21.60" lengthAdjust="spacingAndGlyphs" style="stroke-width:0.04px">Cluster 5</text>
<text x="273.20" y="226.40" font-size="5.0" fill="#6a3d90" stroke="#6a3d90" textLength="15.60" lengthAdjust="spacingAndGlyphs" style="stroke-width:0.04px"><tspan font-style="italic">n</tspan>=663</text>
<polyline points="284.10,238.91 306.10,237.00 328.10,244.10 350.10,233.87" fill="none" stroke="#e3921e" stroke-width="1.0"/>
<circle cx="284.10" cy="238.91" r="1.95" fill="#e3921e"/>
<circle cx="306.10" cy="237.00" r="1.95" fill="#e3921e"/>
<circle cx="328.10" cy="244.10" r="1.95" fill="#e3921e"/>
<circle cx="350.10" cy="233.87" r="1.95" fill="#e3921e"/>
<text font-size="6.9" fill="#4a6a9c" stroke="#4a6a9c" text-anchor="end" style="stroke-width:0.08px" transform="translate(286.50,275.80) rotate(-45)">NBM</text>
<text font-size="6.9" fill="#7b4fa0" stroke="#7b4fa0" text-anchor="end" style="stroke-width:0.08px" transform="translate(308.40,274.70) rotate(-45)">RS-AML</text>
<text font-size="6.9" fill="#c8304a" stroke="#c8304a" text-anchor="end" style="stroke-width:0.08px" transform="translate(327.20,275.20) rotate(-45)"><tspan font-style="italic">SF3B1</tspan><tspan font-size="3.50" dy="-2.10" font-style="italic">mut</tspan></text>
<text font-size="6.9" fill="#c8304a" stroke="#c8304a" text-anchor="end" style="stroke-width:0.08px" transform="translate(332.20,281.20) rotate(-45)">AML</text>
<text font-size="6.9" fill="#3d7a5c" stroke="#3d7a5c" text-anchor="end" style="stroke-width:0.08px" transform="translate(352.60,274.90) rotate(-45)"><tspan font-style="italic">SF3B1</tspan><tspan font-size="3.50" dy="-2.10" font-style="italic">mut</tspan></text>
<text font-size="6.9" fill="#3d7a5c" stroke="#3d7a5c" text-anchor="end" style="stroke-width:0.08px" transform="translate(357.30,280.70) rotate(-45)">MDS</text>
<rect x="414.40" y="214.80" width="91.90" height="54.15" fill="none" stroke="#151515" stroke-width="1.3"/>
<line x1="410.90" y1="217.40" x2="414.40" y2="217.40" stroke="#151515" stroke-width="0.9"/>
<text x="407.30" y="219.50" font-size="6.1" text-anchor="end" textLength="6.70" lengthAdjust="spacingAndGlyphs">12</text>
<line x1="410.90" y1="231.60" x2="414.40" y2="231.60" stroke="#151515" stroke-width="0.9"/>
<text x="407.30" y="233.70" font-size="6.1" text-anchor="end" textLength="6.70" lengthAdjust="spacingAndGlyphs">10</text>
<line x1="410.90" y1="245.80" x2="414.40" y2="245.80" stroke="#151515" stroke-width="0.9"/>
<text x="407.30" y="247.90" font-size="6.1" text-anchor="end" textLength="3.20" lengthAdjust="spacingAndGlyphs">8</text>
<line x1="410.90" y1="260.00" x2="414.40" y2="260.00" stroke="#151515" stroke-width="0.9"/>
<text x="407.30" y="262.10" font-size="6.1" text-anchor="end" textLength="3.20" lengthAdjust="spacingAndGlyphs">6</text>
<text font-size="7.8" text-anchor="middle" transform="translate(383.10,241.45) rotate(-90)" textLength="46.9" lengthAdjust="spacingAndGlyphs">-Log<tspan font-size="4.6" dy="1.6">2</tspan><tspan dy="-1.6"> (normalized</tspan></text>
<text font-size="7.8" text-anchor="middle" transform="translate(393.90,242.25) rotate(-90)" textLength="30.1" lengthAdjust="spacingAndGlyphs">expression)</text>
<text x="416.00" y="220.30" font-size="5.0" fill="#6aa6dc" stroke="#6aa6dc" textLength="21.60" lengthAdjust="spacingAndGlyphs" style="stroke-width:0.04px">Cluster 6</text>
<text x="416.00" y="226.40" font-size="5.0" fill="#6aa6dc" stroke="#6aa6dc" textLength="19.30" lengthAdjust="spacingAndGlyphs" style="stroke-width:0.04px"><tspan font-style="italic">n</tspan>=1402</text>
<polyline points="426.90,234.87 448.90,225.92 470.90,228.19 492.90,234.87" fill="none" stroke="#e3921e" stroke-width="1.0"/>
<circle cx="426.90" cy="234.87" r="1.95" fill="#e3921e"/>
<circle cx="448.90" cy="225.92" r="1.95" fill="#e3921e"/>
<circle cx="470.90" cy="228.19" r="1.95" fill="#e3921e"/>
<circle cx="492.90" cy="234.87" r="1.95" fill="#e3921e"/>
<text font-size="6.9" fill="#4a6a9c" stroke="#4a6a9c" text-anchor="end" style="stroke-width:0.08px" transform="translate(429.30,275.80) rotate(-45)">NBM</text>
<text font-size="6.9" fill="#7b4fa0" stroke="#7b4fa0" text-anchor="end" style="stroke-width:0.08px" transform="translate(451.20,274.70) rotate(-45)">RS-AML</text>
<text font-size="6.9" fill="#c8304a" stroke="#c8304a" text-anchor="end" style="stroke-width:0.08px" transform="translate(470.00,275.20) rotate(-45)"><tspan font-style="italic">SF3B1</tspan><tspan font-size="3.50" dy="-2.10" font-style="italic">mut</tspan></text>
<text font-size="6.9" fill="#c8304a" stroke="#c8304a" text-anchor="end" style="stroke-width:0.08px" transform="translate(475.00,281.20) rotate(-45)">AML</text>
<text font-size="6.9" fill="#3d7a5c" stroke="#3d7a5c" text-anchor="end" style="stroke-width:0.08px" transform="translate(495.40,274.90) rotate(-45)"><tspan font-style="italic">SF3B1</tspan><tspan font-size="3.50" dy="-2.10" font-style="italic">mut</tspan></text>
<text font-size="6.9" fill="#3d7a5c" stroke="#3d7a5c" text-anchor="end" style="stroke-width:0.08px" transform="translate(500.10,280.70) rotate(-45)">MDS</text>
<text x="40.80" y="326.50" font-size="7.4" textLength="60.30" lengthAdjust="spacingAndGlyphs">Genes in cluster 5</text>
<line x1="22.45" y1="332.0" x2="22.45" y2="419.9" stroke="#151515" stroke-width="1.1"/>
<line x1="21.9" y1="416.4" x2="119.6" y2="416.4" stroke="#151515" stroke-width="1.2"/>
<line x1="22.45" y1="416.4" x2="22.45" y2="419.9" stroke="#151515" stroke-width="1.0"/>
<text x="22.45" y="428.60" font-size="6.1" text-anchor="middle">0</text>
<line x1="32.89" y1="416.4" x2="32.89" y2="419.9" stroke="#151515" stroke-width="1.0"/>
<text x="32.89" y="428.60" font-size="6.1" text-anchor="middle">2</text>
<line x1="43.33" y1="416.4" x2="43.33" y2="419.9" stroke="#151515" stroke-width="1.0"/>
<text x="43.33" y="428.60" font-size="6.1" text-anchor="middle">4</text>
<line x1="53.77" y1="416.4" x2="53.77" y2="419.9" stroke="#151515" stroke-width="1.0"/>
<text x="53.77" y="428.60" font-size="6.1" text-anchor="middle">6</text>
<line x1="64.21" y1="416.4" x2="64.21" y2="419.9" stroke="#151515" stroke-width="1.0"/>
<text x="64.21" y="428.60" font-size="6.1" text-anchor="middle">8</text>
<line x1="74.65" y1="416.4" x2="74.65" y2="419.9" stroke="#151515" stroke-width="1.0"/>
<text x="74.65" y="428.60" font-size="6.1" text-anchor="middle">10</text>
<line x1="85.09" y1="416.4" x2="85.09" y2="419.9" stroke="#151515" stroke-width="1.0"/>
<text x="85.09" y="428.60" font-size="6.1" text-anchor="middle">12</text>
<line x1="95.53" y1="416.4" x2="95.53" y2="419.9" stroke="#151515" stroke-width="1.0"/>
<text x="95.53" y="428.60" font-size="6.1" text-anchor="middle">14</text>
<line x1="105.97" y1="416.4" x2="105.97" y2="419.9" stroke="#151515" stroke-width="1.0"/>
<text x="105.97" y="428.60" font-size="6.1" text-anchor="middle">16</text>
<line x1="116.41" y1="416.4" x2="116.41" y2="419.9" stroke="#151515" stroke-width="1.0"/>
<text x="116.41" y="428.60" font-size="6.1" text-anchor="middle">18</text>
<text x="70.80" y="440.60" font-size="8.0" text-anchor="middle" textLength="39.50" lengthAdjust="spacingAndGlyphs">-log10 <tspan font-style="italic">p</tspan>-value</text>
<rect x="23" y="336.00" width="87.00" height="5.7" fill="#4b2270"/>
<text x="128.10" y="340.80" font-size="5.8" textLength="63.97" lengthAdjust="spacingAndGlyphs">Cofactor metabolic process</text>
<rect x="23" y="343.09" width="64.90" height="5.7" fill="#4b2270"/>
<text x="128.10" y="347.90" font-size="5.8" textLength="58.10" lengthAdjust="spacingAndGlyphs">Heme metabolic process</text>
<rect x="23" y="350.18" width="63.80" height="5.7" fill="#4b2270"/>
<text x="128.10" y="355.00" font-size="5.8" textLength="31.98" lengthAdjust="spacingAndGlyphs">Gas transport</text>
<rect x="23" y="357.27" width="59.30" height="5.7" fill="#4b2270"/>
<text x="128.10" y="362.10" font-size="5.8" textLength="131.48" lengthAdjust="spacingAndGlyphs">Erythrocytes take up oxygen and release carbon dioxide</text>
<rect x="23" y="364.36" width="48.80" height="5.7" fill="#4b2270"/>
<text x="128.10" y="369.20" font-size="5.8" textLength="87.15" lengthAdjust="spacingAndGlyphs">Cellular protein complex disassembly</text>
<rect x="23" y="371.45" width="44.70" height="5.7" fill="#4b2270"/>
<text x="128.10" y="376.30" font-size="5.8" textLength="59.77" lengthAdjust="spacingAndGlyphs">Erythrocyte differentiation</text>
<rect x="23" y="378.54" width="37.50" height="5.7" fill="#4b2270"/>
<text x="128.10" y="383.40" font-size="5.8" textLength="88.91" lengthAdjust="spacingAndGlyphs">Cellular amino acid metabolic process</text>
<rect x="23" y="385.63" width="37.50" height="5.7" fill="#4b2270"/>
<text x="128.10" y="390.50" font-size="5.8" textLength="33.74" lengthAdjust="spacingAndGlyphs">Drug transport</text>
<rect x="23" y="392.72" width="36.40" height="5.7" fill="#4b2270"/>
<text x="128.10" y="397.60" font-size="5.8" textLength="86.27" lengthAdjust="spacingAndGlyphs">Multicellular organismal homeostasis</text>
<rect x="23" y="399.81" width="36.40" height="5.7" fill="#4b2270"/>
<text x="128.10" y="404.70" font-size="5.8" textLength="52.53" lengthAdjust="spacingAndGlyphs">Response to metal ion</text>
<rect x="23" y="406.90" width="28.90" height="5.7" fill="#4b2270"/>
<text x="128.10" y="411.80" font-size="5.8" textLength="48.43" lengthAdjust="spacingAndGlyphs">Response to iron ion</text>
<defs><clipPath id="c1"><circle cx="354.2" cy="345.6" r="27.2"/></clipPath><clipPath id="c2"><circle cx="389.0" cy="345.6" r="27.2"/></clipPath></defs>
<g clip-path="url(#c1)"><g clip-path="url(#c2)"><circle cx="371.45" cy="377.2" r="27.2" fill="#a30d30"/></g></g>
<circle cx="354.2" cy="345.6" r="27.2" fill="none" stroke="#111" stroke-width="1.2"/>
<circle cx="389.0" cy="345.6" r="27.2" fill="none" stroke="#111" stroke-width="1.2"/>
<circle cx="371.45" cy="377.2" r="27.2" fill="none" stroke="#111" stroke-width="1.2"/>
<text x="346.10" y="343.50" font-size="6.6" text-anchor="middle" textLength="11.34" lengthAdjust="spacingAndGlyphs" style="stroke-width:0.1px">417</text>
<text x="370.60" y="343.50" font-size="6.6" text-anchor="middle" textLength="11.34" lengthAdjust="spacingAndGlyphs" style="stroke-width:0.1px">670</text>
<text x="393.40" y="343.50" font-size="6.6" text-anchor="middle" textLength="11.34" lengthAdjust="spacingAndGlyphs" style="stroke-width:0.1px">926</text>
<text x="371.20" y="357.70" font-size="6.6" fill="#fff" stroke="#fff" text-anchor="middle" textLength="7.56" lengthAdjust="spacingAndGlyphs" style="stroke-width:0.02px">47</text>
<text x="356.30" y="366.00" font-size="6.6" text-anchor="middle" textLength="7.56" lengthAdjust="spacingAndGlyphs" style="stroke-width:0.1px">62</text>
<text x="382.50" y="366.00" font-size="6.6" text-anchor="middle" textLength="7.56" lengthAdjust="spacingAndGlyphs" style="stroke-width:0.1px">59</text>
<text x="370.60" y="388.00" font-size="6.6" text-anchor="middle" textLength="11.34" lengthAdjust="spacingAndGlyphs" style="stroke-width:0.1px">617</text>
<text x="293.70" y="330.20" font-size="6.6" textLength="35.00" lengthAdjust="spacingAndGlyphs">Up RS-AML</text>
<text x="414.2" y="326.9" font-size="6.8" fill="#222" stroke="#222" textLength="52.7" lengthAdjust="spacingAndGlyphs">Up <tspan font-style="italic">SF3B1</tspan><tspan font-size="3.6" dy="-2.6" font-style="italic">mut</tspan><tspan dy="2.6">-AML</tspan></text>
<text x="345.1" y="413.2" font-size="6.8" fill="#222" stroke="#222" textLength="54.1" lengthAdjust="spacingAndGlyphs">Up <tspan font-style="italic">SF3B1</tspan><tspan font-size="3.6" dy="-2.6" font-style="italic">mut</tspan><tspan dy="2.6">-MDS</tspan></text>
<line x1="288.3" y1="420.8" x2="288.3" y2="481.5" stroke="#151515" stroke-width="1.1"/>
<line x1="287.8" y1="478.5" x2="385.9" y2="478.5" stroke="#151515" stroke-width="1.2"/>
<line x1="288.30" y1="478.5" x2="288.30" y2="481.5" stroke="#151515" stroke-width="1.0"/>
<text x="288.30" y="491.10" font-size="6.1" text-anchor="middle">0</text>
<line x1="301.90" y1="478.5" x2="301.90" y2="481.5" stroke="#151515" stroke-width="1.0"/>
<text x="301.90" y="491.10" font-size="6.1" text-anchor="middle">1</text>
<line x1="315.50" y1="478.5" x2="315.50" y2="481.5" stroke="#151515" stroke-width="1.0"/>
<text x="315.50" y="491.10" font-size="6.1" text-anchor="middle">2</text>
<line x1="329.10" y1="478.5" x2="329.10" y2="481.5" stroke="#151515" stroke-width="1.0"/>
<text x="329.10" y="491.10" font-size="6.1" text-anchor="middle">3</text>
<line x1="342.70" y1="478.5" x2="342.70" y2="481.5" stroke="#151515" stroke-width="1.0"/>
<text x="342.70" y="491.10" font-size="6.1" text-anchor="middle">4</text>
<line x1="356.30" y1="478.5" x2="356.30" y2="481.5" stroke="#151515" stroke-width="1.0"/>
<text x="356.30" y="491.10" font-size="6.1" text-anchor="middle">5</text>
<line x1="369.90" y1="478.5" x2="369.90" y2="481.5" stroke="#151515" stroke-width="1.0"/>
<text x="369.90" y="491.10" font-size="6.1" text-anchor="middle">6</text>
<line x1="383.50" y1="478.5" x2="383.50" y2="481.5" stroke="#151515" stroke-width="1.0"/>
<text x="383.50" y="491.10" font-size="6.1" text-anchor="middle">7</text>
<text x="335.80" y="503.00" font-size="8.0" text-anchor="middle" textLength="38.70" lengthAdjust="spacingAndGlyphs">-log10 p-value</text>
<rect x="289" y="424.70" width="83.40" height="5.0" fill="#a60a2e"/>
<text x="388.10" y="429.10" font-size="5.4" textLength="124.61" lengthAdjust="spacingAndGlyphs">Erythrocytes take up oxygen / release carbon dioxide</text>
<rect x="289" y="431.10" width="69.90" height="5.0" fill="#a60a2e"/>
<text x="388.10" y="435.46" font-size="5.4" textLength="61.57" lengthAdjust="spacingAndGlyphs">Defense response to virus</text>
<rect x="289" y="437.50" width="61.90" height="5.0" fill="#a60a2e"/>
<text x="388.10" y="441.82" font-size="5.4" textLength="81.89" lengthAdjust="spacingAndGlyphs">T-helper 17 type immune response</text>
<rect x="289" y="443.90" width="51.30" height="5.0" fill="#a60a2e"/>
<text x="388.10" y="448.18" font-size="5.4" textLength="60.88" lengthAdjust="spacingAndGlyphs">Myeloid cell differentiation</text>
<rect x="289" y="450.30" width="41.30" height="5.0" fill="#a60a2e"/>
<text x="388.10" y="454.54" font-size="5.4" textLength="60.38" lengthAdjust="spacingAndGlyphs">Adaptive Immune System</text>
<rect x="289" y="456.70" width="39.00" height="5.0" fill="#a60a2e"/>
<text x="388.10" y="460.90" font-size="5.4" textLength="57.94" lengthAdjust="spacingAndGlyphs">Visual phototransduction</text>
<rect x="289" y="463.10" width="30.80" height="5.0" fill="#a60a2e"/>
<text x="388.10" y="467.26" font-size="5.4" textLength="23.27" lengthAdjust="spacingAndGlyphs">Apoptosis</text>
<rect x="289" y="469.50" width="29.10" height="5.0" fill="#a60a2e"/>
<text x="388.10" y="473.62" font-size="5.4" textLength="76.59" lengthAdjust="spacingAndGlyphs">Regulation of metal ion transport</text></svg></body></html>
